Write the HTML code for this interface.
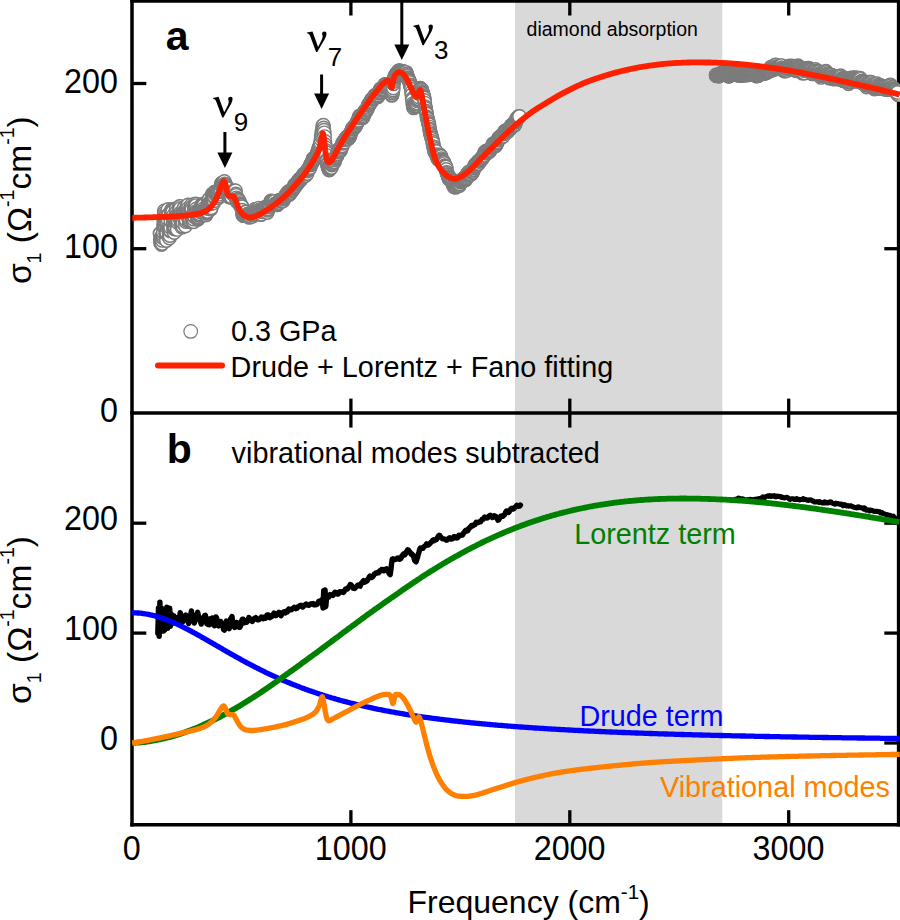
<!DOCTYPE html>
<html lang="en">
<head>
<meta charset="utf-8">
<title>Optical conductivity</title>
<style>
html,body{margin:0;padding:0;background:#fff;}
body{width:900px;height:920px;overflow:hidden;}
svg{display:block;}
text{font-family:"Liberation Sans",sans-serif;fill:#000;}
</style>
</head>
<body>
<svg width="900" height="920" viewBox="0 0 900 920">
<rect x="0" y="0" width="900" height="920" fill="#ffffff"/>
<!-- diamond absorption band -->
<rect x="515" y="0" width="207.3" height="825" fill="#d9d9d9"/>

<defs><clipPath id="plotclip"><rect x="132.0" y="0" width="768.0" height="826"/></clipPath></defs>
<!-- ticks -->
<g stroke="#000" stroke-linecap="butt"><line x1="350.9" y1="0.0" x2="350.9" y2="15.5" stroke-width="3.3"/><line x1="350.9" y1="398.6" x2="350.9" y2="427.6" stroke-width="3.3"/><line x1="350.9" y1="810.2" x2="350.9" y2="824.7" stroke-width="3.3"/><line x1="569.8" y1="0.0" x2="569.8" y2="15.5" stroke-width="3.3"/><line x1="569.8" y1="398.6" x2="569.8" y2="427.6" stroke-width="3.3"/><line x1="569.8" y1="810.2" x2="569.8" y2="824.7" stroke-width="3.3"/><line x1="788.7" y1="0.0" x2="788.7" y2="15.5" stroke-width="3.3"/><line x1="788.7" y1="398.6" x2="788.7" y2="427.6" stroke-width="3.3"/><line x1="788.7" y1="810.2" x2="788.7" y2="824.7" stroke-width="3.3"/><line x1="132.0" y1="248.7" x2="146.3" y2="248.7" stroke-width="3.3"/><line x1="884.3" y1="248.7" x2="898.6" y2="248.7" stroke-width="3.3"/><line x1="132.0" y1="83.5" x2="146.3" y2="83.5" stroke-width="3.3"/><line x1="884.3" y1="83.5" x2="898.6" y2="83.5" stroke-width="3.3"/><line x1="132.0" y1="743.0" x2="146.3" y2="743.0" stroke-width="3.3"/><line x1="884.3" y1="743.0" x2="898.6" y2="743.0" stroke-width="3.3"/><line x1="132.0" y1="633.1" x2="146.3" y2="633.1" stroke-width="3.3"/><line x1="884.3" y1="633.1" x2="898.6" y2="633.1" stroke-width="3.3"/><line x1="132.0" y1="523.2" x2="146.3" y2="523.2" stroke-width="3.3"/><line x1="884.3" y1="523.2" x2="898.6" y2="523.2" stroke-width="3.3"/></g>

<!-- frame -->
<g stroke="#000" stroke-width="3.5" fill="none" stroke-linecap="square">
<line x1="132.0" y1="1.0" x2="898.6" y2="1.0"/>
<line x1="132.0" y1="413.1" x2="898.6" y2="413.1"/>
<line x1="132.0" y1="824.7" x2="898.6" y2="824.7"/>
<line x1="132.0" y1="1.0" x2="132.0" y2="824.7"/>
<line x1="898.6" y1="1.0" x2="898.6" y2="824.7"/>
</g>

<!-- panel a data -->
<g clip-path="url(#plotclip)">
<g fill="#ffffff" stroke="#7c7c7c" stroke-width="1.4"><circle cx="160.0" cy="233.5" r="6.7"/><circle cx="160.2" cy="233.7" r="6.7"/><circle cx="160.3" cy="239.3" r="6.7"/><circle cx="160.5" cy="242.7" r="6.7"/><circle cx="160.7" cy="240.5" r="6.7"/><circle cx="160.8" cy="239.3" r="6.7"/><circle cx="161.0" cy="239.2" r="6.7"/><circle cx="161.2" cy="237.2" r="6.7"/><circle cx="161.4" cy="240.3" r="6.7"/><circle cx="161.5" cy="244.6" r="6.7"/><circle cx="161.7" cy="237.6" r="6.7"/><circle cx="161.9" cy="236.3" r="6.7"/><circle cx="162.0" cy="240.2" r="6.7"/><circle cx="162.2" cy="243.5" r="6.7"/><circle cx="162.4" cy="240.4" r="6.7"/><circle cx="162.5" cy="237.6" r="6.7"/><circle cx="162.7" cy="237.0" r="6.7"/><circle cx="162.9" cy="236.9" r="6.7"/><circle cx="163.1" cy="234.9" r="6.7"/><circle cx="163.2" cy="232.5" r="6.7"/><circle cx="163.4" cy="232.4" r="6.7"/><circle cx="163.6" cy="226.6" r="6.7"/><circle cx="163.7" cy="221.0" r="6.7"/><circle cx="163.9" cy="224.4" r="6.7"/><circle cx="164.1" cy="218.1" r="6.7"/><circle cx="164.2" cy="211.0" r="6.7"/><circle cx="164.4" cy="213.1" r="6.7"/><circle cx="164.6" cy="215.4" r="6.7"/><circle cx="164.8" cy="217.4" r="6.7"/><circle cx="164.9" cy="223.3" r="6.7"/><circle cx="165.1" cy="224.4" r="6.7"/><circle cx="165.3" cy="226.1" r="6.7"/><circle cx="165.4" cy="225.1" r="6.7"/><circle cx="165.6" cy="227.4" r="6.7"/><circle cx="165.8" cy="233.6" r="6.7"/><circle cx="165.9" cy="234.3" r="6.7"/><circle cx="166.1" cy="233.5" r="6.7"/><circle cx="166.3" cy="237.5" r="6.7"/><circle cx="166.5" cy="240.6" r="6.7"/><circle cx="166.6" cy="233.8" r="6.7"/><circle cx="166.8" cy="232.7" r="6.7"/><circle cx="167.0" cy="227.3" r="6.7"/><circle cx="167.1" cy="224.6" r="6.7"/><circle cx="167.3" cy="225.2" r="6.7"/><circle cx="167.5" cy="223.2" r="6.7"/><circle cx="167.6" cy="214.7" r="6.7"/><circle cx="167.8" cy="211.7" r="6.7"/><circle cx="168.0" cy="209.5" r="6.7"/><circle cx="168.2" cy="215.6" r="6.7"/><circle cx="168.3" cy="220.4" r="6.7"/><circle cx="168.5" cy="214.4" r="6.7"/><circle cx="168.7" cy="215.1" r="6.7"/><circle cx="168.8" cy="227.5" r="6.7"/><circle cx="169.0" cy="229.8" r="6.7"/><circle cx="169.2" cy="233.5" r="6.7"/><circle cx="169.3" cy="237.6" r="6.7"/><circle cx="169.5" cy="238.1" r="6.7"/><circle cx="169.7" cy="235.1" r="6.7"/><circle cx="169.9" cy="230.9" r="6.7"/><circle cx="170.0" cy="235.5" r="6.7"/><circle cx="170.2" cy="230.9" r="6.7"/><circle cx="170.4" cy="229.1" r="6.7"/><circle cx="170.5" cy="230.3" r="6.7"/><circle cx="170.7" cy="227.5" r="6.7"/><circle cx="170.9" cy="221.1" r="6.7"/><circle cx="171.0" cy="214.2" r="6.7"/><circle cx="171.2" cy="212.5" r="6.7"/><circle cx="171.4" cy="212.1" r="6.7"/><circle cx="171.6" cy="210.8" r="6.7"/><circle cx="171.7" cy="209.5" r="6.7"/><circle cx="171.9" cy="211.4" r="6.7"/><circle cx="172.1" cy="210.5" r="6.7"/><circle cx="172.2" cy="210.7" r="6.7"/><circle cx="172.4" cy="212.6" r="6.7"/><circle cx="172.6" cy="212.0" r="6.7"/><circle cx="172.7" cy="216.5" r="6.7"/><circle cx="172.9" cy="219.3" r="6.7"/><circle cx="173.1" cy="222.9" r="6.7"/><circle cx="173.3" cy="224.5" r="6.7"/><circle cx="173.4" cy="224.8" r="6.7"/><circle cx="173.6" cy="227.7" r="6.7"/><circle cx="173.8" cy="229.8" r="6.7"/><circle cx="173.9" cy="229.4" r="6.7"/><circle cx="174.1" cy="231.8" r="6.7"/><circle cx="174.3" cy="232.5" r="6.7"/><circle cx="174.4" cy="229.0" r="6.7"/><circle cx="174.6" cy="228.3" r="6.7"/><circle cx="174.8" cy="227.7" r="6.7"/><circle cx="175.0" cy="225.5" r="6.7"/><circle cx="175.1" cy="227.0" r="6.7"/><circle cx="175.3" cy="222.8" r="6.7"/><circle cx="175.5" cy="220.9" r="6.7"/><circle cx="175.6" cy="219.2" r="6.7"/><circle cx="175.8" cy="216.2" r="6.7"/><circle cx="176.0" cy="210.7" r="6.7"/><circle cx="176.1" cy="209.9" r="6.7"/><circle cx="176.3" cy="208.7" r="6.7"/><circle cx="176.5" cy="212.0" r="6.7"/><circle cx="176.7" cy="215.2" r="6.7"/><circle cx="176.8" cy="221.9" r="6.7"/><circle cx="177.0" cy="226.7" r="6.7"/><circle cx="177.2" cy="226.6" r="6.7"/><circle cx="177.3" cy="229.4" r="6.7"/><circle cx="177.5" cy="219.5" r="6.7"/><circle cx="177.7" cy="221.7" r="6.7"/><circle cx="177.8" cy="222.5" r="6.7"/><circle cx="178.0" cy="216.6" r="6.7"/><circle cx="178.2" cy="220.4" r="6.7"/><circle cx="178.4" cy="216.4" r="6.7"/><circle cx="178.5" cy="214.8" r="6.7"/><circle cx="178.7" cy="215.1" r="6.7"/><circle cx="178.9" cy="216.5" r="6.7"/><circle cx="179.0" cy="210.9" r="6.7"/><circle cx="179.2" cy="207.5" r="6.7"/><circle cx="179.4" cy="207.8" r="6.7"/><circle cx="179.5" cy="206.7" r="6.7"/><circle cx="179.7" cy="212.1" r="6.7"/><circle cx="179.9" cy="211.3" r="6.7"/><circle cx="180.1" cy="206.4" r="6.7"/><circle cx="180.2" cy="211.4" r="6.7"/><circle cx="180.4" cy="208.4" r="6.7"/><circle cx="180.6" cy="212.8" r="6.7"/><circle cx="180.7" cy="214.8" r="6.7"/><circle cx="180.9" cy="221.4" r="6.7"/><circle cx="181.1" cy="217.5" r="6.7"/><circle cx="181.2" cy="214.9" r="6.7"/><circle cx="181.4" cy="215.0" r="6.7"/><circle cx="181.6" cy="222.6" r="6.7"/><circle cx="181.8" cy="220.6" r="6.7"/><circle cx="181.9" cy="227.2" r="6.7"/><circle cx="182.1" cy="224.5" r="6.7"/><circle cx="182.3" cy="224.0" r="6.7"/><circle cx="182.4" cy="223.3" r="6.7"/><circle cx="182.6" cy="226.1" r="6.7"/><circle cx="182.8" cy="222.5" r="6.7"/><circle cx="182.9" cy="226.3" r="6.7"/><circle cx="183.1" cy="223.1" r="6.7"/><circle cx="183.3" cy="214.0" r="6.7"/><circle cx="183.5" cy="212.2" r="6.7"/><circle cx="183.6" cy="210.5" r="6.7"/><circle cx="183.8" cy="208.2" r="6.7"/><circle cx="184.0" cy="209.9" r="6.7"/><circle cx="184.1" cy="208.3" r="6.7"/><circle cx="184.3" cy="211.5" r="6.7"/><circle cx="184.5" cy="215.5" r="6.7"/><circle cx="184.6" cy="216.2" r="6.7"/><circle cx="184.8" cy="212.5" r="6.7"/><circle cx="185.0" cy="219.6" r="6.7"/><circle cx="185.2" cy="222.3" r="6.7"/><circle cx="185.3" cy="222.6" r="6.7"/><circle cx="185.5" cy="226.0" r="6.7"/><circle cx="185.7" cy="221.6" r="6.7"/><circle cx="185.8" cy="219.5" r="6.7"/><circle cx="186.0" cy="219.5" r="6.7"/><circle cx="186.2" cy="214.7" r="6.7"/><circle cx="186.3" cy="212.5" r="6.7"/><circle cx="186.5" cy="209.6" r="6.7"/><circle cx="186.7" cy="209.9" r="6.7"/><circle cx="186.9" cy="207.0" r="6.7"/><circle cx="187.0" cy="210.7" r="6.7"/><circle cx="187.2" cy="207.7" r="6.7"/><circle cx="187.4" cy="210.4" r="6.7"/><circle cx="187.5" cy="207.7" r="6.7"/><circle cx="187.7" cy="208.0" r="6.7"/><circle cx="187.9" cy="205.8" r="6.7"/><circle cx="188.0" cy="205.0" r="6.7"/><circle cx="188.2" cy="208.3" r="6.7"/><circle cx="188.4" cy="210.9" r="6.7"/><circle cx="188.6" cy="214.2" r="6.7"/><circle cx="188.7" cy="213.3" r="6.7"/><circle cx="188.9" cy="213.8" r="6.7"/><circle cx="189.1" cy="221.0" r="6.7"/><circle cx="189.2" cy="220.6" r="6.7"/><circle cx="189.4" cy="220.7" r="6.7"/><circle cx="189.6" cy="221.8" r="6.7"/><circle cx="189.7" cy="219.2" r="6.7"/><circle cx="189.9" cy="220.4" r="6.7"/><circle cx="190.1" cy="220.3" r="6.7"/><circle cx="190.3" cy="218.2" r="6.7"/><circle cx="190.4" cy="215.0" r="6.7"/><circle cx="190.6" cy="212.5" r="6.7"/><circle cx="190.8" cy="209.7" r="6.7"/><circle cx="190.9" cy="207.9" r="6.7"/><circle cx="191.1" cy="208.2" r="6.7"/><circle cx="191.3" cy="206.1" r="6.7"/><circle cx="191.4" cy="205.0" r="6.7"/><circle cx="191.6" cy="210.0" r="6.7"/><circle cx="191.8" cy="206.9" r="6.7"/><circle cx="192.0" cy="209.3" r="6.7"/><circle cx="192.1" cy="215.5" r="6.7"/><circle cx="192.3" cy="216.6" r="6.7"/><circle cx="192.5" cy="219.3" r="6.7"/><circle cx="192.6" cy="218.7" r="6.7"/><circle cx="192.8" cy="218.4" r="6.7"/><circle cx="193.0" cy="221.2" r="6.7"/><circle cx="193.1" cy="218.6" r="6.7"/><circle cx="193.3" cy="218.4" r="6.7"/><circle cx="193.5" cy="219.9" r="6.7"/><circle cx="193.7" cy="221.8" r="6.7"/><circle cx="193.8" cy="219.2" r="6.7"/><circle cx="194.0" cy="216.6" r="6.7"/><circle cx="194.2" cy="215.9" r="6.7"/><circle cx="194.3" cy="212.0" r="6.7"/><circle cx="194.5" cy="207.4" r="6.7"/><circle cx="194.7" cy="208.5" r="6.7"/><circle cx="194.8" cy="205.1" r="6.7"/><circle cx="195.0" cy="207.6" r="6.7"/><circle cx="195.2" cy="207.0" r="6.7"/><circle cx="195.4" cy="204.5" r="6.7"/><circle cx="195.5" cy="204.6" r="6.7"/><circle cx="195.7" cy="203.9" r="6.7"/><circle cx="195.9" cy="206.5" r="6.7"/><circle cx="196.0" cy="205.6" r="6.7"/><circle cx="196.2" cy="208.9" r="6.7"/><circle cx="196.4" cy="211.7" r="6.7"/><circle cx="196.5" cy="211.7" r="6.7"/><circle cx="196.7" cy="212.5" r="6.7"/><circle cx="196.9" cy="213.0" r="6.7"/><circle cx="197.1" cy="214.2" r="6.7"/><circle cx="197.2" cy="214.2" r="6.7"/><circle cx="197.4" cy="217.0" r="6.7"/><circle cx="197.6" cy="219.0" r="6.7"/><circle cx="197.7" cy="219.3" r="6.7"/><circle cx="197.9" cy="218.8" r="6.7"/><circle cx="198.1" cy="219.0" r="6.7"/><circle cx="198.2" cy="217.9" r="6.7"/><circle cx="198.4" cy="216.9" r="6.7"/><circle cx="198.6" cy="214.4" r="6.7"/><circle cx="198.8" cy="215.4" r="6.7"/><circle cx="198.9" cy="212.8" r="6.7"/><circle cx="199.1" cy="212.7" r="6.7"/><circle cx="199.3" cy="214.9" r="6.7"/><circle cx="199.4" cy="215.1" r="6.7"/><circle cx="199.6" cy="213.1" r="6.7"/><circle cx="199.8" cy="214.1" r="6.7"/><circle cx="199.9" cy="213.9" r="6.7"/><circle cx="200.1" cy="210.9" r="6.7"/><circle cx="200.3" cy="210.6" r="6.7"/><circle cx="200.5" cy="210.1" r="6.7"/><circle cx="200.6" cy="210.2" r="6.7"/><circle cx="200.8" cy="212.0" r="6.7"/><circle cx="201.0" cy="210.4" r="6.7"/><circle cx="201.1" cy="209.3" r="6.7"/><circle cx="201.3" cy="207.2" r="6.7"/><circle cx="201.5" cy="208.5" r="6.7"/><circle cx="201.6" cy="208.2" r="6.7"/><circle cx="201.8" cy="204.5" r="6.7"/><circle cx="202.0" cy="205.8" r="6.7"/><circle cx="202.2" cy="205.6" r="6.7"/><circle cx="202.3" cy="206.8" r="6.7"/><circle cx="202.5" cy="207.5" r="6.7"/><circle cx="202.7" cy="206.6" r="6.7"/><circle cx="202.8" cy="207.7" r="6.7"/><circle cx="203.0" cy="205.6" r="6.7"/><circle cx="203.2" cy="204.6" r="6.7"/><circle cx="203.3" cy="205.2" r="6.7"/><circle cx="203.5" cy="204.7" r="6.7"/><circle cx="203.7" cy="205.3" r="6.7"/><circle cx="203.9" cy="205.3" r="6.7"/><circle cx="204.0" cy="208.4" r="6.7"/><circle cx="204.2" cy="210.3" r="6.7"/><circle cx="204.4" cy="211.3" r="6.7"/><circle cx="204.5" cy="212.3" r="6.7"/><circle cx="204.7" cy="211.4" r="6.7"/><circle cx="204.9" cy="212.6" r="6.7"/><circle cx="205.0" cy="213.9" r="6.7"/><circle cx="205.2" cy="214.2" r="6.7"/><circle cx="205.4" cy="214.9" r="6.7"/><circle cx="205.6" cy="214.2" r="6.7"/><circle cx="205.7" cy="214.6" r="6.7"/><circle cx="205.9" cy="213.4" r="6.7"/><circle cx="206.1" cy="214.9" r="6.7"/><circle cx="206.2" cy="213.1" r="6.7"/><circle cx="206.4" cy="213.3" r="6.7"/><circle cx="206.6" cy="212.4" r="6.7"/><circle cx="206.7" cy="212.5" r="6.7"/><circle cx="206.9" cy="212.1" r="6.7"/><circle cx="207.1" cy="212.0" r="6.7"/><circle cx="207.3" cy="211.1" r="6.7"/><circle cx="207.4" cy="212.3" r="6.7"/><circle cx="207.6" cy="211.4" r="6.7"/><circle cx="207.8" cy="208.5" r="6.7"/><circle cx="207.9" cy="206.8" r="6.7"/><circle cx="208.1" cy="204.1" r="6.7"/><circle cx="208.3" cy="204.7" r="6.7"/><circle cx="208.4" cy="200.8" r="6.7"/><circle cx="208.6" cy="202.9" r="6.7"/><circle cx="208.8" cy="203.6" r="6.7"/><circle cx="209.0" cy="199.6" r="6.7"/><circle cx="209.1" cy="200.4" r="6.7"/><circle cx="209.3" cy="199.8" r="6.7"/><circle cx="209.5" cy="198.7" r="6.7"/><circle cx="209.6" cy="203.0" r="6.7"/><circle cx="209.8" cy="204.2" r="6.7"/><circle cx="210.0" cy="202.8" r="6.7"/><circle cx="210.1" cy="205.3" r="6.7"/><circle cx="210.3" cy="206.2" r="6.7"/><circle cx="210.5" cy="205.7" r="6.7"/><circle cx="210.7" cy="207.3" r="6.7"/><circle cx="210.8" cy="209.2" r="6.7"/><circle cx="211.0" cy="208.2" r="6.7"/><circle cx="211.2" cy="207.8" r="6.7"/><circle cx="211.3" cy="203.5" r="6.7"/><circle cx="211.5" cy="201.9" r="6.7"/><circle cx="211.7" cy="200.5" r="6.7"/><circle cx="211.8" cy="200.2" r="6.7"/><circle cx="212.0" cy="198.3" r="6.7"/><circle cx="212.2" cy="195.9" r="6.7"/><circle cx="212.4" cy="194.1" r="6.7"/><circle cx="212.5" cy="197.1" r="6.7"/><circle cx="212.7" cy="194.6" r="6.7"/><circle cx="212.9" cy="195.1" r="6.7"/><circle cx="213.0" cy="193.8" r="6.7"/><circle cx="213.2" cy="197.0" r="6.7"/><circle cx="213.4" cy="198.2" r="6.7"/><circle cx="213.5" cy="201.5" r="6.7"/><circle cx="213.7" cy="202.9" r="6.7"/><circle cx="213.9" cy="200.9" r="6.7"/><circle cx="214.1" cy="197.4" r="6.7"/><circle cx="214.2" cy="196.0" r="6.7"/><circle cx="214.4" cy="192.4" r="6.7"/><circle cx="214.6" cy="193.3" r="6.7"/><circle cx="214.7" cy="192.1" r="6.7"/><circle cx="214.9" cy="192.8" r="6.7"/><circle cx="215.1" cy="192.2" r="6.7"/><circle cx="215.2" cy="192.4" r="6.7"/><circle cx="215.4" cy="192.6" r="6.7"/><circle cx="215.6" cy="192.0" r="6.7"/><circle cx="215.8" cy="192.0" r="6.7"/><circle cx="215.9" cy="194.0" r="6.7"/><circle cx="216.0" cy="193.2" r="6.7"/><circle cx="216.3" cy="195.0" r="6.7"/><circle cx="216.6" cy="194.2" r="6.7"/><circle cx="216.9" cy="195.1" r="6.7"/><circle cx="217.2" cy="193.7" r="6.7"/><circle cx="217.5" cy="192.8" r="6.7"/><circle cx="217.8" cy="194.1" r="6.7"/><circle cx="218.1" cy="196.4" r="6.7"/><circle cx="218.4" cy="197.8" r="6.7"/><circle cx="218.7" cy="196.3" r="6.7"/><circle cx="219.0" cy="195.2" r="6.7"/><circle cx="219.3" cy="195.9" r="6.7"/><circle cx="219.6" cy="194.2" r="6.7"/><circle cx="219.9" cy="191.6" r="6.7"/><circle cx="220.2" cy="190.8" r="6.7"/><circle cx="220.5" cy="190.5" r="6.7"/><circle cx="220.8" cy="188.4" r="6.7"/><circle cx="221.1" cy="185.5" r="6.7"/><circle cx="221.4" cy="183.4" r="6.7"/><circle cx="221.7" cy="184.4" r="6.7"/><circle cx="222.0" cy="183.2" r="6.7"/><circle cx="222.3" cy="183.1" r="6.7"/><circle cx="222.6" cy="183.4" r="6.7"/><circle cx="222.9" cy="184.2" r="6.7"/><circle cx="223.2" cy="183.5" r="6.7"/><circle cx="223.5" cy="183.9" r="6.7"/><circle cx="223.8" cy="182.5" r="6.7"/><circle cx="224.1" cy="182.3" r="6.7"/><circle cx="224.4" cy="181.5" r="6.7"/><circle cx="224.7" cy="183.9" r="6.7"/><circle cx="225.0" cy="184.6" r="6.7"/><circle cx="225.3" cy="184.4" r="6.7"/><circle cx="225.6" cy="184.8" r="6.7"/><circle cx="225.9" cy="185.6" r="6.7"/><circle cx="226.2" cy="187.9" r="6.7"/><circle cx="226.5" cy="187.1" r="6.7"/><circle cx="226.8" cy="187.4" r="6.7"/><circle cx="227.1" cy="188.6" r="6.7"/><circle cx="227.4" cy="193.3" r="6.7"/><circle cx="227.7" cy="194.7" r="6.7"/><circle cx="228.0" cy="194.1" r="6.7"/><circle cx="228.3" cy="194.6" r="6.7"/><circle cx="228.6" cy="196.8" r="6.7"/><circle cx="228.9" cy="195.5" r="6.7"/><circle cx="229.2" cy="194.3" r="6.7"/><circle cx="229.5" cy="195.3" r="6.7"/><circle cx="229.8" cy="195.3" r="6.7"/><circle cx="230.1" cy="195.5" r="6.7"/><circle cx="230.4" cy="194.1" r="6.7"/><circle cx="230.7" cy="196.2" r="6.7"/><circle cx="231.0" cy="197.5" r="6.7"/><circle cx="231.3" cy="197.1" r="6.7"/><circle cx="231.6" cy="196.9" r="6.7"/><circle cx="231.9" cy="193.1" r="6.7"/><circle cx="232.2" cy="193.6" r="6.7"/><circle cx="232.5" cy="193.0" r="6.7"/><circle cx="232.8" cy="193.3" r="6.7"/><circle cx="233.1" cy="193.8" r="6.7"/><circle cx="233.4" cy="193.0" r="6.7"/><circle cx="233.7" cy="190.7" r="6.7"/><circle cx="234.0" cy="191.7" r="6.7"/><circle cx="234.3" cy="191.3" r="6.7"/><circle cx="234.6" cy="191.7" r="6.7"/><circle cx="234.9" cy="191.9" r="6.7"/><circle cx="235.2" cy="192.6" r="6.7"/><circle cx="235.5" cy="190.7" r="6.7"/><circle cx="235.8" cy="193.9" r="6.7"/><circle cx="236.1" cy="195.3" r="6.7"/><circle cx="236.4" cy="197.8" r="6.7"/><circle cx="236.7" cy="201.2" r="6.7"/><circle cx="237.0" cy="201.6" r="6.7"/><circle cx="237.3" cy="199.7" r="6.7"/><circle cx="237.6" cy="199.6" r="6.7"/><circle cx="237.9" cy="199.2" r="6.7"/><circle cx="238.2" cy="200.1" r="6.7"/><circle cx="238.5" cy="201.6" r="6.7"/><circle cx="238.8" cy="200.2" r="6.7"/><circle cx="239.1" cy="202.2" r="6.7"/><circle cx="239.4" cy="201.5" r="6.7"/><circle cx="239.7" cy="203.4" r="6.7"/><circle cx="240.0" cy="204.5" r="6.7"/><circle cx="240.3" cy="205.2" r="6.7"/><circle cx="240.6" cy="206.2" r="6.7"/><circle cx="240.9" cy="206.4" r="6.7"/><circle cx="241.2" cy="206.6" r="6.7"/><circle cx="241.5" cy="205.4" r="6.7"/><circle cx="241.8" cy="206.7" r="6.7"/><circle cx="242.1" cy="210.2" r="6.7"/><circle cx="242.4" cy="213.2" r="6.7"/><circle cx="242.7" cy="214.8" r="6.7"/><circle cx="243.0" cy="215.3" r="6.7"/><circle cx="243.3" cy="214.0" r="6.7"/><circle cx="243.6" cy="215.7" r="6.7"/><circle cx="243.9" cy="215.1" r="6.7"/><circle cx="244.2" cy="214.6" r="6.7"/><circle cx="244.5" cy="214.0" r="6.7"/><circle cx="244.8" cy="214.0" r="6.7"/><circle cx="245.1" cy="213.3" r="6.7"/><circle cx="245.4" cy="213.3" r="6.7"/><circle cx="245.7" cy="212.0" r="6.7"/><circle cx="246.0" cy="211.9" r="6.7"/><circle cx="246.3" cy="215.3" r="6.7"/><circle cx="246.6" cy="215.0" r="6.7"/><circle cx="246.9" cy="214.6" r="6.7"/><circle cx="247.2" cy="215.2" r="6.7"/><circle cx="247.5" cy="216.0" r="6.7"/><circle cx="247.8" cy="214.2" r="6.7"/><circle cx="248.1" cy="214.0" r="6.7"/><circle cx="248.4" cy="215.4" r="6.7"/><circle cx="248.7" cy="215.6" r="6.7"/><circle cx="249.0" cy="215.5" r="6.7"/><circle cx="249.3" cy="217.4" r="6.7"/><circle cx="249.6" cy="216.0" r="6.7"/><circle cx="249.9" cy="215.8" r="6.7"/><circle cx="250.2" cy="214.8" r="6.7"/><circle cx="250.5" cy="216.7" r="6.7"/><circle cx="250.8" cy="213.7" r="6.7"/><circle cx="251.1" cy="212.9" r="6.7"/><circle cx="251.4" cy="212.5" r="6.7"/><circle cx="251.7" cy="213.8" r="6.7"/><circle cx="252.0" cy="214.7" r="6.7"/><circle cx="252.3" cy="216.4" r="6.7"/><circle cx="252.6" cy="213.9" r="6.7"/><circle cx="252.9" cy="214.9" r="6.7"/><circle cx="253.2" cy="214.4" r="6.7"/><circle cx="253.5" cy="213.4" r="6.7"/><circle cx="253.8" cy="214.3" r="6.7"/><circle cx="254.1" cy="213.0" r="6.7"/><circle cx="254.4" cy="210.4" r="6.7"/><circle cx="254.7" cy="210.6" r="6.7"/><circle cx="255.0" cy="209.3" r="6.7"/><circle cx="255.3" cy="209.3" r="6.7"/><circle cx="255.6" cy="210.7" r="6.7"/><circle cx="255.9" cy="211.7" r="6.7"/><circle cx="256.2" cy="214.2" r="6.7"/><circle cx="256.5" cy="213.8" r="6.7"/><circle cx="256.8" cy="211.8" r="6.7"/><circle cx="257.1" cy="211.1" r="6.7"/><circle cx="257.4" cy="210.4" r="6.7"/><circle cx="257.7" cy="209.3" r="6.7"/><circle cx="258.0" cy="210.7" r="6.7"/><circle cx="258.3" cy="210.3" r="6.7"/><circle cx="258.6" cy="208.2" r="6.7"/><circle cx="258.9" cy="210.1" r="6.7"/><circle cx="259.2" cy="210.5" r="6.7"/><circle cx="259.5" cy="211.4" r="6.7"/><circle cx="259.8" cy="211.7" r="6.7"/><circle cx="260.1" cy="212.7" r="6.7"/><circle cx="260.4" cy="212.7" r="6.7"/><circle cx="260.7" cy="214.2" r="6.7"/><circle cx="261.0" cy="214.3" r="6.7"/><circle cx="261.3" cy="214.3" r="6.7"/><circle cx="261.6" cy="214.3" r="6.7"/><circle cx="261.9" cy="211.8" r="6.7"/><circle cx="262.2" cy="211.5" r="6.7"/><circle cx="262.5" cy="211.1" r="6.7"/><circle cx="262.8" cy="211.3" r="6.7"/><circle cx="263.1" cy="209.4" r="6.7"/><circle cx="263.4" cy="211.8" r="6.7"/><circle cx="263.7" cy="211.7" r="6.7"/><circle cx="264.0" cy="209.8" r="6.7"/><circle cx="264.3" cy="207.7" r="6.7"/><circle cx="264.6" cy="207.8" r="6.7"/><circle cx="264.9" cy="208.1" r="6.7"/><circle cx="265.2" cy="207.5" r="6.7"/><circle cx="265.5" cy="208.0" r="6.7"/><circle cx="265.8" cy="207.4" r="6.7"/><circle cx="266.1" cy="208.5" r="6.7"/><circle cx="266.4" cy="207.7" r="6.7"/><circle cx="266.7" cy="207.9" r="6.7"/><circle cx="267.0" cy="209.3" r="6.7"/><circle cx="267.3" cy="212.6" r="6.7"/><circle cx="267.6" cy="210.4" r="6.7"/><circle cx="267.9" cy="209.3" r="6.7"/><circle cx="268.2" cy="208.0" r="6.7"/><circle cx="268.5" cy="209.0" r="6.7"/><circle cx="268.8" cy="207.2" r="6.7"/><circle cx="269.1" cy="206.6" r="6.7"/><circle cx="269.4" cy="206.7" r="6.7"/><circle cx="269.7" cy="205.5" r="6.7"/><circle cx="270.0" cy="204.5" r="6.7"/><circle cx="270.3" cy="204.3" r="6.7"/><circle cx="270.6" cy="202.0" r="6.7"/><circle cx="270.9" cy="201.0" r="6.7"/><circle cx="271.2" cy="201.5" r="6.7"/><circle cx="271.5" cy="202.6" r="6.7"/><circle cx="271.8" cy="203.0" r="6.7"/><circle cx="272.1" cy="201.1" r="6.7"/><circle cx="272.4" cy="201.4" r="6.7"/><circle cx="272.7" cy="203.2" r="6.7"/><circle cx="273.0" cy="204.3" r="6.7"/><circle cx="273.3" cy="204.3" r="6.7"/><circle cx="273.6" cy="203.2" r="6.7"/><circle cx="273.9" cy="204.2" r="6.7"/><circle cx="274.2" cy="203.4" r="6.7"/><circle cx="274.5" cy="202.0" r="6.7"/><circle cx="274.8" cy="201.3" r="6.7"/><circle cx="275.1" cy="203.9" r="6.7"/><circle cx="275.4" cy="204.0" r="6.7"/><circle cx="275.7" cy="204.7" r="6.7"/><circle cx="276.0" cy="203.9" r="6.7"/><circle cx="276.3" cy="204.4" r="6.7"/><circle cx="276.6" cy="203.5" r="6.7"/><circle cx="276.9" cy="203.1" r="6.7"/><circle cx="277.2" cy="204.8" r="6.7"/><circle cx="277.5" cy="204.8" r="6.7"/><circle cx="277.8" cy="203.7" r="6.7"/><circle cx="278.1" cy="203.1" r="6.7"/><circle cx="278.4" cy="203.0" r="6.7"/><circle cx="278.7" cy="203.4" r="6.7"/><circle cx="279.0" cy="202.5" r="6.7"/><circle cx="279.3" cy="200.6" r="6.7"/><circle cx="279.6" cy="200.3" r="6.7"/><circle cx="279.9" cy="200.2" r="6.7"/><circle cx="280.2" cy="200.1" r="6.7"/><circle cx="280.5" cy="200.9" r="6.7"/><circle cx="280.8" cy="200.8" r="6.7"/><circle cx="281.1" cy="201.0" r="6.7"/><circle cx="281.4" cy="199.6" r="6.7"/><circle cx="281.7" cy="200.0" r="6.7"/><circle cx="282.0" cy="201.2" r="6.7"/><circle cx="282.3" cy="201.1" r="6.7"/><circle cx="282.6" cy="200.5" r="6.7"/><circle cx="282.9" cy="199.9" r="6.7"/><circle cx="283.2" cy="200.7" r="6.7"/><circle cx="283.5" cy="199.1" r="6.7"/><circle cx="283.8" cy="198.4" r="6.7"/><circle cx="284.1" cy="198.3" r="6.7"/><circle cx="284.4" cy="198.3" r="6.7"/><circle cx="284.7" cy="197.4" r="6.7"/><circle cx="285.0" cy="197.2" r="6.7"/><circle cx="285.3" cy="196.5" r="6.7"/><circle cx="285.6" cy="196.2" r="6.7"/><circle cx="285.9" cy="195.7" r="6.7"/><circle cx="286.2" cy="194.4" r="6.7"/><circle cx="286.5" cy="194.2" r="6.7"/><circle cx="286.8" cy="194.7" r="6.7"/><circle cx="287.1" cy="193.6" r="6.7"/><circle cx="287.4" cy="193.2" r="6.7"/><circle cx="287.7" cy="193.6" r="6.7"/><circle cx="288.0" cy="192.4" r="6.7"/><circle cx="288.3" cy="192.4" r="6.7"/><circle cx="288.6" cy="191.4" r="6.7"/><circle cx="288.9" cy="192.2" r="6.7"/><circle cx="289.2" cy="193.7" r="6.7"/><circle cx="289.5" cy="194.6" r="6.7"/><circle cx="289.8" cy="193.5" r="6.7"/><circle cx="290.1" cy="193.3" r="6.7"/><circle cx="290.4" cy="192.6" r="6.7"/><circle cx="290.7" cy="192.0" r="6.7"/><circle cx="291.0" cy="192.5" r="6.7"/><circle cx="291.3" cy="190.7" r="6.7"/><circle cx="291.6" cy="191.0" r="6.7"/><circle cx="291.9" cy="190.3" r="6.7"/><circle cx="292.2" cy="190.8" r="6.7"/><circle cx="292.5" cy="190.2" r="6.7"/><circle cx="292.8" cy="188.9" r="6.7"/><circle cx="293.1" cy="188.6" r="6.7"/><circle cx="293.4" cy="188.7" r="6.7"/><circle cx="293.7" cy="188.1" r="6.7"/><circle cx="294.0" cy="187.9" r="6.7"/><circle cx="294.3" cy="186.9" r="6.7"/><circle cx="294.6" cy="184.8" r="6.7"/><circle cx="294.9" cy="185.4" r="6.7"/><circle cx="295.2" cy="185.6" r="6.7"/><circle cx="295.5" cy="185.3" r="6.7"/><circle cx="295.8" cy="185.0" r="6.7"/><circle cx="296.1" cy="185.4" r="6.7"/><circle cx="296.4" cy="184.4" r="6.7"/><circle cx="296.7" cy="183.4" r="6.7"/><circle cx="297.0" cy="183.0" r="6.7"/><circle cx="297.3" cy="183.6" r="6.7"/><circle cx="297.6" cy="182.0" r="6.7"/><circle cx="297.9" cy="182.7" r="6.7"/><circle cx="298.2" cy="181.8" r="6.7"/><circle cx="298.5" cy="180.6" r="6.7"/><circle cx="298.8" cy="181.4" r="6.7"/><circle cx="299.1" cy="180.9" r="6.7"/><circle cx="299.4" cy="179.5" r="6.7"/><circle cx="299.7" cy="179.1" r="6.7"/><circle cx="300.0" cy="179.6" r="6.7"/><circle cx="300.3" cy="180.2" r="6.7"/><circle cx="300.6" cy="179.4" r="6.7"/><circle cx="300.9" cy="179.2" r="6.7"/><circle cx="301.2" cy="179.3" r="6.7"/><circle cx="301.5" cy="178.2" r="6.7"/><circle cx="301.8" cy="178.1" r="6.7"/><circle cx="302.1" cy="177.6" r="6.7"/><circle cx="302.4" cy="176.7" r="6.7"/><circle cx="302.7" cy="175.9" r="6.7"/><circle cx="303.0" cy="175.7" r="6.7"/><circle cx="303.3" cy="175.4" r="6.7"/><circle cx="303.6" cy="174.6" r="6.7"/><circle cx="303.9" cy="174.0" r="6.7"/><circle cx="304.2" cy="174.6" r="6.7"/><circle cx="304.5" cy="174.3" r="6.7"/><circle cx="304.8" cy="174.5" r="6.7"/><circle cx="305.1" cy="174.9" r="6.7"/><circle cx="305.4" cy="174.6" r="6.7"/><circle cx="305.7" cy="175.6" r="6.7"/><circle cx="306.0" cy="173.8" r="6.7"/><circle cx="306.3" cy="173.7" r="6.7"/><circle cx="306.6" cy="172.5" r="6.7"/><circle cx="306.9" cy="173.3" r="6.7"/><circle cx="307.2" cy="173.6" r="6.7"/><circle cx="307.5" cy="171.0" r="6.7"/><circle cx="307.8" cy="169.5" r="6.7"/><circle cx="308.1" cy="169.5" r="6.7"/><circle cx="308.4" cy="169.6" r="6.7"/><circle cx="308.7" cy="169.5" r="6.7"/><circle cx="309.0" cy="168.6" r="6.7"/><circle cx="309.3" cy="168.3" r="6.7"/><circle cx="309.6" cy="168.1" r="6.7"/><circle cx="309.9" cy="167.3" r="6.7"/><circle cx="310.2" cy="167.4" r="6.7"/><circle cx="310.5" cy="164.8" r="6.7"/><circle cx="310.8" cy="164.9" r="6.7"/><circle cx="311.1" cy="163.6" r="6.7"/><circle cx="311.4" cy="164.0" r="6.7"/><circle cx="311.7" cy="163.3" r="6.7"/><circle cx="312.0" cy="162.1" r="6.7"/><circle cx="312.3" cy="162.1" r="6.7"/><circle cx="312.6" cy="161.0" r="6.7"/><circle cx="312.9" cy="160.0" r="6.7"/><circle cx="313.2" cy="158.5" r="6.7"/><circle cx="313.5" cy="158.5" r="6.7"/><circle cx="313.8" cy="158.8" r="6.7"/><circle cx="314.1" cy="159.3" r="6.7"/><circle cx="314.4" cy="158.7" r="6.7"/><circle cx="314.7" cy="159.1" r="6.7"/><circle cx="315.0" cy="158.4" r="6.7"/><circle cx="315.3" cy="157.7" r="6.7"/><circle cx="315.6" cy="157.5" r="6.7"/><circle cx="315.9" cy="157.5" r="6.7"/><circle cx="316.2" cy="156.3" r="6.7"/><circle cx="316.5" cy="155.3" r="6.7"/><circle cx="316.8" cy="154.4" r="6.7"/><circle cx="317.1" cy="153.7" r="6.7"/><circle cx="317.4" cy="152.2" r="6.7"/><circle cx="317.7" cy="152.4" r="6.7"/><circle cx="318.0" cy="151.2" r="6.7"/><circle cx="318.3" cy="150.7" r="6.7"/><circle cx="318.6" cy="149.1" r="6.7"/><circle cx="318.9" cy="148.5" r="6.7"/><circle cx="319.2" cy="147.7" r="6.7"/><circle cx="319.5" cy="146.2" r="6.7"/><circle cx="319.8" cy="146.5" r="6.7"/><circle cx="320.1" cy="145.0" r="6.7"/><circle cx="320.4" cy="144.2" r="6.7"/><circle cx="320.7" cy="142.4" r="6.7"/><circle cx="321.0" cy="139.3" r="6.7"/><circle cx="321.3" cy="136.6" r="6.7"/><circle cx="321.6" cy="134.8" r="6.7"/><circle cx="321.9" cy="132.6" r="6.7"/><circle cx="322.2" cy="130.4" r="6.7"/><circle cx="322.5" cy="128.3" r="6.7"/><circle cx="322.8" cy="125.8" r="6.7"/><circle cx="323.1" cy="125.7" r="6.7"/><circle cx="323.4" cy="125.2" r="6.7"/><circle cx="323.7" cy="127.9" r="6.7"/><circle cx="324.0" cy="130.2" r="6.7"/><circle cx="324.3" cy="132.8" r="6.7"/><circle cx="324.6" cy="136.6" r="6.7"/><circle cx="324.9" cy="141.3" r="6.7"/><circle cx="325.2" cy="144.7" r="6.7"/><circle cx="325.5" cy="147.6" r="6.7"/><circle cx="325.8" cy="150.5" r="6.7"/><circle cx="326.1" cy="152.4" r="6.7"/><circle cx="326.4" cy="155.3" r="6.7"/><circle cx="326.7" cy="159.9" r="6.7"/><circle cx="327.0" cy="161.5" r="6.7"/><circle cx="327.3" cy="164.1" r="6.7"/><circle cx="327.6" cy="164.8" r="6.7"/><circle cx="327.9" cy="166.7" r="6.7"/><circle cx="328.2" cy="167.6" r="6.7"/><circle cx="328.5" cy="168.1" r="6.7"/><circle cx="328.8" cy="168.8" r="6.7"/><circle cx="329.1" cy="170.1" r="6.7"/><circle cx="329.4" cy="169.8" r="6.7"/><circle cx="329.7" cy="169.3" r="6.7"/><circle cx="330.0" cy="168.0" r="6.7"/><circle cx="330.3" cy="168.0" r="6.7"/><circle cx="330.6" cy="167.2" r="6.7"/><circle cx="330.9" cy="167.3" r="6.7"/><circle cx="331.2" cy="166.7" r="6.7"/><circle cx="331.5" cy="167.5" r="6.7"/><circle cx="331.8" cy="165.1" r="6.7"/><circle cx="332.1" cy="164.4" r="6.7"/><circle cx="332.4" cy="164.6" r="6.7"/><circle cx="332.7" cy="163.8" r="6.7"/><circle cx="333.0" cy="162.6" r="6.7"/><circle cx="333.3" cy="161.9" r="6.7"/><circle cx="333.6" cy="160.3" r="6.7"/><circle cx="333.9" cy="160.1" r="6.7"/><circle cx="334.2" cy="161.7" r="6.7"/><circle cx="334.5" cy="161.7" r="6.7"/><circle cx="334.8" cy="159.9" r="6.7"/><circle cx="335.1" cy="158.5" r="6.7"/><circle cx="335.4" cy="157.7" r="6.7"/><circle cx="335.7" cy="158.0" r="6.7"/><circle cx="336.0" cy="156.7" r="6.7"/><circle cx="336.3" cy="155.7" r="6.7"/><circle cx="336.6" cy="156.1" r="6.7"/><circle cx="336.9" cy="156.2" r="6.7"/><circle cx="337.2" cy="155.2" r="6.7"/><circle cx="337.5" cy="153.8" r="6.7"/><circle cx="337.8" cy="152.1" r="6.7"/><circle cx="338.1" cy="151.4" r="6.7"/><circle cx="338.4" cy="149.5" r="6.7"/><circle cx="338.7" cy="150.2" r="6.7"/><circle cx="339.0" cy="149.6" r="6.7"/><circle cx="339.3" cy="149.8" r="6.7"/><circle cx="339.6" cy="151.0" r="6.7"/><circle cx="339.9" cy="151.3" r="6.7"/><circle cx="340.2" cy="149.7" r="6.7"/><circle cx="340.5" cy="149.8" r="6.7"/><circle cx="340.8" cy="150.0" r="6.7"/><circle cx="341.1" cy="148.6" r="6.7"/><circle cx="341.4" cy="147.2" r="6.7"/><circle cx="341.7" cy="146.6" r="6.7"/><circle cx="342.0" cy="144.9" r="6.7"/><circle cx="342.3" cy="145.8" r="6.7"/><circle cx="342.6" cy="143.4" r="6.7"/><circle cx="342.9" cy="142.4" r="6.7"/><circle cx="343.2" cy="142.2" r="6.7"/><circle cx="343.5" cy="141.9" r="6.7"/><circle cx="343.8" cy="141.9" r="6.7"/><circle cx="344.1" cy="141.9" r="6.7"/><circle cx="344.4" cy="141.4" r="6.7"/><circle cx="344.7" cy="142.0" r="6.7"/><circle cx="345.0" cy="139.8" r="6.7"/><circle cx="345.3" cy="139.6" r="6.7"/><circle cx="345.6" cy="138.8" r="6.7"/><circle cx="345.9" cy="138.8" r="6.7"/><circle cx="346.2" cy="138.7" r="6.7"/><circle cx="346.5" cy="137.6" r="6.7"/><circle cx="346.8" cy="136.9" r="6.7"/><circle cx="347.1" cy="137.4" r="6.7"/><circle cx="347.4" cy="137.3" r="6.7"/><circle cx="347.7" cy="136.3" r="6.7"/><circle cx="348.0" cy="137.6" r="6.7"/><circle cx="348.3" cy="138.7" r="6.7"/><circle cx="348.6" cy="136.6" r="6.7"/><circle cx="348.9" cy="136.2" r="6.7"/><circle cx="349.2" cy="137.5" r="6.7"/><circle cx="349.5" cy="137.1" r="6.7"/><circle cx="349.8" cy="136.2" r="6.7"/><circle cx="350.1" cy="135.1" r="6.7"/><circle cx="350.4" cy="133.9" r="6.7"/><circle cx="350.7" cy="133.1" r="6.7"/><circle cx="351.0" cy="132.1" r="6.7"/><circle cx="351.3" cy="132.2" r="6.7"/><circle cx="351.6" cy="131.3" r="6.7"/><circle cx="351.9" cy="130.5" r="6.7"/><circle cx="352.2" cy="129.1" r="6.7"/><circle cx="352.5" cy="128.8" r="6.7"/><circle cx="352.8" cy="127.9" r="6.7"/><circle cx="353.1" cy="127.6" r="6.7"/><circle cx="353.4" cy="128.2" r="6.7"/><circle cx="353.7" cy="128.1" r="6.7"/><circle cx="354.0" cy="128.0" r="6.7"/><circle cx="354.3" cy="127.7" r="6.7"/><circle cx="354.6" cy="127.2" r="6.7"/><circle cx="354.9" cy="126.5" r="6.7"/><circle cx="355.2" cy="125.8" r="6.7"/><circle cx="355.5" cy="125.9" r="6.7"/><circle cx="355.8" cy="124.5" r="6.7"/><circle cx="356.1" cy="125.1" r="6.7"/><circle cx="356.4" cy="124.5" r="6.7"/><circle cx="356.7" cy="123.4" r="6.7"/><circle cx="357.0" cy="122.6" r="6.7"/><circle cx="357.3" cy="121.7" r="6.7"/><circle cx="357.6" cy="121.5" r="6.7"/><circle cx="357.9" cy="120.6" r="6.7"/><circle cx="358.2" cy="121.3" r="6.7"/><circle cx="358.5" cy="120.2" r="6.7"/><circle cx="358.8" cy="118.1" r="6.7"/><circle cx="359.1" cy="117.5" r="6.7"/><circle cx="359.4" cy="116.0" r="6.7"/><circle cx="359.7" cy="116.2" r="6.7"/><circle cx="360.0" cy="117.1" r="6.7"/><circle cx="360.3" cy="117.5" r="6.7"/><circle cx="360.6" cy="116.1" r="6.7"/><circle cx="360.9" cy="115.4" r="6.7"/><circle cx="361.2" cy="116.7" r="6.7"/><circle cx="361.5" cy="116.5" r="6.7"/><circle cx="361.8" cy="116.1" r="6.7"/><circle cx="362.1" cy="116.4" r="6.7"/><circle cx="362.4" cy="117.7" r="6.7"/><circle cx="362.7" cy="117.7" r="6.7"/><circle cx="363.0" cy="116.8" r="6.7"/><circle cx="363.3" cy="116.1" r="6.7"/><circle cx="363.6" cy="115.7" r="6.7"/><circle cx="363.9" cy="114.3" r="6.7"/><circle cx="364.2" cy="112.7" r="6.7"/><circle cx="364.5" cy="112.3" r="6.7"/><circle cx="364.8" cy="111.1" r="6.7"/><circle cx="365.1" cy="110.7" r="6.7"/><circle cx="365.4" cy="110.4" r="6.7"/><circle cx="365.7" cy="111.9" r="6.7"/><circle cx="366.0" cy="110.5" r="6.7"/><circle cx="366.3" cy="109.9" r="6.7"/><circle cx="366.6" cy="109.2" r="6.7"/><circle cx="366.9" cy="109.1" r="6.7"/><circle cx="367.2" cy="109.4" r="6.7"/><circle cx="367.5" cy="108.4" r="6.7"/><circle cx="367.8" cy="107.2" r="6.7"/><circle cx="368.1" cy="105.5" r="6.7"/><circle cx="368.4" cy="104.7" r="6.7"/><circle cx="368.7" cy="105.1" r="6.7"/><circle cx="369.0" cy="104.9" r="6.7"/><circle cx="369.3" cy="103.8" r="6.7"/><circle cx="369.6" cy="103.4" r="6.7"/><circle cx="369.9" cy="103.3" r="6.7"/><circle cx="370.2" cy="103.5" r="6.7"/><circle cx="370.5" cy="102.8" r="6.7"/><circle cx="370.8" cy="102.3" r="6.7"/><circle cx="371.1" cy="100.7" r="6.7"/><circle cx="371.4" cy="99.8" r="6.7"/><circle cx="371.7" cy="101.2" r="6.7"/><circle cx="372.0" cy="99.3" r="6.7"/><circle cx="372.3" cy="99.1" r="6.7"/><circle cx="372.6" cy="99.3" r="6.7"/><circle cx="372.9" cy="98.9" r="6.7"/><circle cx="373.2" cy="98.2" r="6.7"/><circle cx="373.5" cy="98.1" r="6.7"/><circle cx="373.8" cy="98.0" r="6.7"/><circle cx="374.1" cy="97.8" r="6.7"/><circle cx="374.4" cy="96.2" r="6.7"/><circle cx="374.7" cy="96.2" r="6.7"/><circle cx="375.0" cy="95.5" r="6.7"/><circle cx="375.3" cy="95.1" r="6.7"/><circle cx="375.6" cy="95.4" r="6.7"/><circle cx="375.9" cy="95.8" r="6.7"/><circle cx="376.2" cy="96.3" r="6.7"/><circle cx="376.5" cy="95.6" r="6.7"/><circle cx="376.8" cy="96.0" r="6.7"/><circle cx="377.1" cy="96.4" r="6.7"/><circle cx="377.4" cy="96.7" r="6.7"/><circle cx="377.7" cy="97.0" r="6.7"/><circle cx="378.0" cy="96.0" r="6.7"/><circle cx="378.3" cy="95.1" r="6.7"/><circle cx="378.6" cy="95.0" r="6.7"/><circle cx="378.9" cy="93.2" r="6.7"/><circle cx="379.2" cy="93.0" r="6.7"/><circle cx="379.5" cy="92.1" r="6.7"/><circle cx="379.8" cy="91.4" r="6.7"/><circle cx="380.1" cy="89.8" r="6.7"/><circle cx="380.4" cy="89.0" r="6.7"/><circle cx="380.7" cy="89.1" r="6.7"/><circle cx="381.0" cy="89.7" r="6.7"/><circle cx="381.3" cy="90.3" r="6.7"/><circle cx="381.6" cy="89.8" r="6.7"/><circle cx="381.9" cy="89.3" r="6.7"/><circle cx="382.2" cy="88.4" r="6.7"/><circle cx="382.5" cy="88.5" r="6.7"/><circle cx="382.8" cy="88.1" r="6.7"/><circle cx="383.1" cy="88.3" r="6.7"/><circle cx="383.4" cy="89.4" r="6.7"/><circle cx="383.7" cy="88.8" r="6.7"/><circle cx="384.0" cy="87.2" r="6.7"/><circle cx="384.3" cy="86.3" r="6.7"/><circle cx="384.6" cy="85.1" r="6.7"/><circle cx="384.9" cy="84.3" r="6.7"/><circle cx="385.2" cy="85.6" r="6.7"/><circle cx="385.5" cy="85.7" r="6.7"/><circle cx="385.8" cy="84.4" r="6.7"/><circle cx="386.1" cy="85.0" r="6.7"/><circle cx="386.4" cy="85.9" r="6.7"/><circle cx="386.7" cy="85.3" r="6.7"/><circle cx="387.0" cy="84.6" r="6.7"/><circle cx="387.3" cy="84.2" r="6.7"/><circle cx="387.6" cy="84.5" r="6.7"/><circle cx="387.9" cy="84.9" r="6.7"/><circle cx="388.2" cy="85.8" r="6.7"/><circle cx="388.5" cy="86.6" r="6.7"/><circle cx="388.8" cy="87.3" r="6.7"/><circle cx="389.1" cy="88.2" r="6.7"/><circle cx="389.4" cy="88.6" r="6.7"/><circle cx="389.7" cy="87.4" r="6.7"/><circle cx="390.0" cy="88.0" r="6.7"/><circle cx="390.3" cy="89.5" r="6.7"/><circle cx="390.6" cy="90.8" r="6.7"/><circle cx="390.9" cy="93.2" r="6.7"/><circle cx="391.2" cy="94.2" r="6.7"/><circle cx="391.5" cy="94.2" r="6.7"/><circle cx="391.8" cy="95.4" r="6.7"/><circle cx="392.1" cy="94.8" r="6.7"/><circle cx="392.4" cy="93.0" r="6.7"/><circle cx="392.7" cy="91.5" r="6.7"/><circle cx="393.0" cy="90.1" r="6.7"/><circle cx="393.3" cy="88.1" r="6.7"/><circle cx="393.6" cy="83.8" r="6.7"/><circle cx="393.9" cy="81.4" r="6.7"/><circle cx="394.2" cy="79.4" r="6.7"/><circle cx="394.5" cy="77.4" r="6.7"/><circle cx="394.8" cy="76.7" r="6.7"/><circle cx="395.1" cy="77.1" r="6.7"/><circle cx="395.4" cy="76.1" r="6.7"/><circle cx="395.7" cy="74.6" r="6.7"/><circle cx="396.0" cy="75.9" r="6.7"/><circle cx="396.3" cy="74.9" r="6.7"/><circle cx="396.6" cy="73.4" r="6.7"/><circle cx="396.9" cy="73.3" r="6.7"/><circle cx="397.2" cy="73.3" r="6.7"/><circle cx="397.5" cy="72.4" r="6.7"/><circle cx="397.8" cy="72.8" r="6.7"/><circle cx="398.1" cy="72.0" r="6.7"/><circle cx="398.4" cy="71.0" r="6.7"/><circle cx="398.7" cy="71.1" r="6.7"/><circle cx="399.0" cy="71.5" r="6.7"/><circle cx="399.3" cy="70.8" r="6.7"/><circle cx="399.6" cy="70.9" r="6.7"/><circle cx="399.9" cy="70.7" r="6.7"/><circle cx="400.2" cy="72.7" r="6.7"/><circle cx="400.5" cy="71.6" r="6.7"/><circle cx="400.8" cy="72.4" r="6.7"/><circle cx="401.1" cy="71.8" r="6.7"/><circle cx="401.4" cy="71.4" r="6.7"/><circle cx="401.7" cy="71.7" r="6.7"/><circle cx="402.0" cy="72.1" r="6.7"/><circle cx="402.3" cy="72.7" r="6.7"/><circle cx="402.6" cy="72.6" r="6.7"/><circle cx="402.9" cy="71.8" r="6.7"/><circle cx="403.2" cy="71.3" r="6.7"/><circle cx="403.5" cy="71.7" r="6.7"/><circle cx="403.8" cy="72.2" r="6.7"/><circle cx="404.1" cy="73.3" r="6.7"/><circle cx="404.4" cy="73.4" r="6.7"/><circle cx="404.7" cy="74.1" r="6.7"/><circle cx="405.0" cy="75.1" r="6.7"/><circle cx="405.3" cy="75.0" r="6.7"/><circle cx="405.6" cy="73.6" r="6.7"/><circle cx="405.9" cy="72.9" r="6.7"/><circle cx="406.2" cy="72.3" r="6.7"/><circle cx="406.5" cy="74.2" r="6.7"/><circle cx="406.8" cy="74.0" r="6.7"/><circle cx="407.1" cy="75.5" r="6.7"/><circle cx="407.4" cy="76.3" r="6.7"/><circle cx="407.7" cy="78.0" r="6.7"/><circle cx="408.0" cy="78.9" r="6.7"/><circle cx="408.3" cy="79.0" r="6.7"/><circle cx="408.6" cy="79.3" r="6.7"/><circle cx="408.9" cy="80.0" r="6.7"/><circle cx="409.2" cy="81.0" r="6.7"/><circle cx="409.5" cy="81.5" r="6.7"/><circle cx="409.8" cy="82.6" r="6.7"/><circle cx="410.1" cy="85.1" r="6.7"/><circle cx="410.4" cy="84.9" r="6.7"/><circle cx="410.7" cy="86.5" r="6.7"/><circle cx="411.0" cy="87.2" r="6.7"/><circle cx="411.3" cy="89.2" r="6.7"/><circle cx="411.6" cy="92.4" r="6.7"/><circle cx="411.9" cy="95.1" r="6.7"/><circle cx="412.2" cy="98.7" r="6.7"/><circle cx="412.5" cy="100.2" r="6.7"/><circle cx="412.8" cy="103.8" r="6.7"/><circle cx="413.1" cy="105.4" r="6.7"/><circle cx="413.4" cy="107.3" r="6.7"/><circle cx="413.7" cy="107.9" r="6.7"/><circle cx="414.0" cy="105.9" r="6.7"/><circle cx="414.3" cy="105.5" r="6.7"/><circle cx="414.6" cy="105.8" r="6.7"/><circle cx="414.9" cy="106.9" r="6.7"/><circle cx="415.2" cy="106.6" r="6.7"/><circle cx="415.5" cy="106.1" r="6.7"/><circle cx="415.8" cy="104.3" r="6.7"/><circle cx="416.1" cy="105.0" r="6.7"/><circle cx="416.4" cy="105.5" r="6.7"/><circle cx="416.7" cy="104.3" r="6.7"/><circle cx="417.0" cy="102.9" r="6.7"/><circle cx="417.3" cy="100.4" r="6.7"/><circle cx="417.6" cy="100.0" r="6.7"/><circle cx="417.9" cy="100.9" r="6.7"/><circle cx="418.2" cy="99.8" r="6.7"/><circle cx="418.5" cy="98.8" r="6.7"/><circle cx="418.8" cy="96.9" r="6.7"/><circle cx="419.1" cy="93.7" r="6.7"/><circle cx="419.4" cy="92.8" r="6.7"/><circle cx="419.7" cy="89.9" r="6.7"/><circle cx="420.0" cy="88.5" r="6.7"/><circle cx="420.3" cy="88.2" r="6.7"/><circle cx="420.6" cy="88.7" r="6.7"/><circle cx="420.9" cy="89.2" r="6.7"/><circle cx="421.2" cy="89.8" r="6.7"/><circle cx="421.5" cy="89.6" r="6.7"/><circle cx="421.8" cy="89.7" r="6.7"/><circle cx="422.1" cy="91.3" r="6.7"/><circle cx="422.4" cy="92.5" r="6.7"/><circle cx="422.7" cy="93.0" r="6.7"/><circle cx="423.0" cy="93.8" r="6.7"/><circle cx="423.3" cy="95.3" r="6.7"/><circle cx="423.6" cy="95.8" r="6.7"/><circle cx="423.9" cy="96.9" r="6.7"/><circle cx="424.2" cy="98.0" r="6.7"/><circle cx="424.5" cy="100.5" r="6.7"/><circle cx="424.8" cy="103.1" r="6.7"/><circle cx="425.1" cy="106.7" r="6.7"/><circle cx="425.4" cy="107.1" r="6.7"/><circle cx="425.7" cy="108.4" r="6.7"/><circle cx="426.0" cy="111.0" r="6.7"/><circle cx="426.3" cy="112.5" r="6.7"/><circle cx="426.6" cy="114.0" r="6.7"/><circle cx="426.9" cy="117.0" r="6.7"/><circle cx="427.2" cy="118.1" r="6.7"/><circle cx="427.5" cy="118.7" r="6.7"/><circle cx="427.8" cy="119.3" r="6.7"/><circle cx="428.1" cy="121.4" r="6.7"/><circle cx="428.4" cy="123.3" r="6.7"/><circle cx="428.7" cy="123.8" r="6.7"/><circle cx="429.0" cy="124.8" r="6.7"/><circle cx="429.3" cy="127.1" r="6.7"/><circle cx="429.6" cy="129.2" r="6.7"/><circle cx="429.9" cy="130.2" r="6.7"/><circle cx="430.2" cy="132.3" r="6.7"/><circle cx="430.5" cy="134.2" r="6.7"/><circle cx="430.8" cy="134.1" r="6.7"/><circle cx="431.1" cy="135.5" r="6.7"/><circle cx="431.4" cy="137.3" r="6.7"/><circle cx="431.7" cy="138.2" r="6.7"/><circle cx="432.0" cy="137.9" r="6.7"/><circle cx="432.3" cy="139.3" r="6.7"/><circle cx="432.6" cy="141.5" r="6.7"/><circle cx="432.9" cy="144.1" r="6.7"/><circle cx="433.2" cy="143.4" r="6.7"/><circle cx="433.5" cy="146.8" r="6.7"/><circle cx="433.8" cy="146.8" r="6.7"/><circle cx="434.1" cy="148.5" r="6.7"/><circle cx="434.4" cy="150.3" r="6.7"/><circle cx="434.7" cy="151.7" r="6.7"/><circle cx="435.0" cy="152.3" r="6.7"/><circle cx="435.3" cy="151.8" r="6.7"/><circle cx="435.6" cy="152.9" r="6.7"/><circle cx="435.9" cy="152.9" r="6.7"/><circle cx="436.2" cy="151.5" r="6.7"/><circle cx="436.5" cy="154.6" r="6.7"/><circle cx="436.8" cy="155.5" r="6.7"/><circle cx="437.1" cy="157.2" r="6.7"/><circle cx="437.4" cy="156.4" r="6.7"/><circle cx="437.7" cy="157.6" r="6.7"/><circle cx="438.0" cy="158.7" r="6.7"/><circle cx="438.3" cy="159.6" r="6.7"/><circle cx="438.6" cy="159.1" r="6.7"/><circle cx="438.9" cy="157.9" r="6.7"/><circle cx="439.2" cy="157.7" r="6.7"/><circle cx="439.5" cy="155.9" r="6.7"/><circle cx="439.8" cy="155.0" r="6.7"/><circle cx="440.1" cy="155.7" r="6.7"/><circle cx="440.4" cy="155.5" r="6.7"/><circle cx="440.7" cy="156.0" r="6.7"/><circle cx="441.0" cy="156.5" r="6.7"/><circle cx="441.3" cy="158.6" r="6.7"/><circle cx="441.6" cy="159.9" r="6.7"/><circle cx="441.9" cy="160.0" r="6.7"/><circle cx="442.2" cy="161.2" r="6.7"/><circle cx="442.5" cy="160.8" r="6.7"/><circle cx="442.8" cy="161.0" r="6.7"/><circle cx="443.1" cy="162.3" r="6.7"/><circle cx="443.4" cy="161.9" r="6.7"/><circle cx="443.7" cy="162.5" r="6.7"/><circle cx="444.0" cy="162.3" r="6.7"/><circle cx="444.3" cy="163.5" r="6.7"/><circle cx="444.6" cy="165.7" r="6.7"/><circle cx="444.9" cy="165.9" r="6.7"/><circle cx="445.2" cy="166.9" r="6.7"/><circle cx="445.5" cy="167.0" r="6.7"/><circle cx="445.8" cy="167.1" r="6.7"/><circle cx="446.1" cy="167.1" r="6.7"/><circle cx="446.4" cy="169.5" r="6.7"/><circle cx="446.7" cy="172.3" r="6.7"/><circle cx="447.0" cy="173.2" r="6.7"/><circle cx="447.3" cy="173.3" r="6.7"/><circle cx="447.6" cy="174.6" r="6.7"/><circle cx="447.9" cy="175.0" r="6.7"/><circle cx="448.2" cy="176.4" r="6.7"/><circle cx="448.5" cy="177.2" r="6.7"/><circle cx="448.8" cy="178.0" r="6.7"/><circle cx="449.1" cy="179.1" r="6.7"/><circle cx="449.4" cy="179.0" r="6.7"/><circle cx="449.7" cy="179.2" r="6.7"/><circle cx="450.0" cy="178.4" r="6.7"/><circle cx="450.3" cy="178.8" r="6.7"/><circle cx="450.6" cy="178.5" r="6.7"/><circle cx="450.9" cy="179.3" r="6.7"/><circle cx="451.2" cy="179.5" r="6.7"/><circle cx="451.5" cy="180.5" r="6.7"/><circle cx="451.8" cy="181.7" r="6.7"/><circle cx="452.1" cy="181.3" r="6.7"/><circle cx="452.4" cy="181.5" r="6.7"/><circle cx="452.7" cy="181.6" r="6.7"/><circle cx="453.0" cy="183.0" r="6.7"/><circle cx="453.3" cy="185.0" r="6.7"/><circle cx="453.6" cy="185.9" r="6.7"/><circle cx="453.9" cy="185.8" r="6.7"/><circle cx="454.2" cy="187.0" r="6.7"/><circle cx="454.5" cy="185.7" r="6.7"/><circle cx="454.8" cy="186.9" r="6.7"/><circle cx="455.1" cy="186.2" r="6.7"/><circle cx="455.4" cy="183.9" r="6.7"/><circle cx="455.7" cy="186.3" r="6.7"/><circle cx="456.0" cy="187.3" r="6.7"/><circle cx="456.3" cy="186.1" r="6.7"/><circle cx="456.6" cy="186.0" r="6.7"/><circle cx="456.9" cy="185.5" r="6.7"/><circle cx="457.2" cy="185.4" r="6.7"/><circle cx="457.5" cy="184.0" r="6.7"/><circle cx="457.8" cy="183.4" r="6.7"/><circle cx="458.1" cy="183.8" r="6.7"/><circle cx="458.4" cy="183.9" r="6.7"/><circle cx="458.7" cy="184.6" r="6.7"/><circle cx="459.0" cy="184.3" r="6.7"/><circle cx="459.3" cy="185.7" r="6.7"/><circle cx="459.6" cy="184.5" r="6.7"/><circle cx="459.9" cy="184.1" r="6.7"/><circle cx="460.2" cy="182.1" r="6.7"/><circle cx="460.5" cy="181.0" r="6.7"/><circle cx="460.8" cy="182.0" r="6.7"/><circle cx="461.1" cy="181.1" r="6.7"/><circle cx="461.4" cy="181.4" r="6.7"/><circle cx="461.7" cy="181.1" r="6.7"/><circle cx="462.0" cy="180.1" r="6.7"/><circle cx="462.3" cy="179.7" r="6.7"/><circle cx="462.6" cy="179.3" r="6.7"/><circle cx="462.9" cy="178.9" r="6.7"/><circle cx="463.2" cy="179.4" r="6.7"/><circle cx="463.5" cy="179.7" r="6.7"/><circle cx="463.8" cy="178.9" r="6.7"/><circle cx="464.1" cy="178.0" r="6.7"/><circle cx="464.4" cy="178.1" r="6.7"/><circle cx="464.7" cy="177.8" r="6.7"/><circle cx="465.0" cy="178.3" r="6.7"/><circle cx="465.3" cy="180.0" r="6.7"/><circle cx="465.6" cy="179.8" r="6.7"/><circle cx="465.9" cy="178.9" r="6.7"/><circle cx="466.2" cy="178.0" r="6.7"/><circle cx="466.5" cy="176.7" r="6.7"/><circle cx="466.8" cy="175.5" r="6.7"/><circle cx="467.1" cy="174.5" r="6.7"/><circle cx="467.4" cy="174.0" r="6.7"/><circle cx="467.7" cy="173.5" r="6.7"/><circle cx="468.0" cy="174.0" r="6.7"/><circle cx="468.3" cy="173.4" r="6.7"/><circle cx="468.6" cy="173.0" r="6.7"/><circle cx="468.9" cy="171.8" r="6.7"/><circle cx="469.2" cy="173.1" r="6.7"/><circle cx="469.5" cy="173.1" r="6.7"/><circle cx="469.8" cy="174.0" r="6.7"/><circle cx="470.1" cy="174.0" r="6.7"/><circle cx="470.4" cy="174.4" r="6.7"/><circle cx="470.7" cy="173.2" r="6.7"/><circle cx="471.0" cy="173.0" r="6.7"/><circle cx="471.3" cy="174.3" r="6.7"/><circle cx="471.6" cy="172.2" r="6.7"/><circle cx="471.9" cy="172.3" r="6.7"/><circle cx="472.2" cy="172.8" r="6.7"/><circle cx="472.5" cy="172.0" r="6.7"/><circle cx="472.8" cy="171.6" r="6.7"/><circle cx="473.1" cy="171.6" r="6.7"/><circle cx="473.4" cy="170.0" r="6.7"/><circle cx="473.7" cy="169.5" r="6.7"/><circle cx="474.0" cy="168.0" r="6.7"/><circle cx="474.3" cy="166.8" r="6.7"/><circle cx="474.6" cy="165.9" r="6.7"/><circle cx="474.9" cy="165.5" r="6.7"/><circle cx="475.2" cy="165.2" r="6.7"/><circle cx="475.5" cy="165.2" r="6.7"/><circle cx="475.8" cy="163.7" r="6.7"/><circle cx="476.1" cy="165.1" r="6.7"/><circle cx="476.4" cy="165.4" r="6.7"/><circle cx="476.7" cy="165.3" r="6.7"/><circle cx="477.0" cy="164.3" r="6.7"/><circle cx="477.3" cy="163.6" r="6.7"/><circle cx="477.6" cy="163.5" r="6.7"/><circle cx="477.9" cy="163.2" r="6.7"/><circle cx="478.2" cy="161.2" r="6.7"/><circle cx="478.5" cy="161.5" r="6.7"/><circle cx="478.8" cy="163.4" r="6.7"/><circle cx="479.1" cy="161.1" r="6.7"/><circle cx="479.4" cy="161.4" r="6.7"/><circle cx="479.7" cy="161.1" r="6.7"/><circle cx="480.0" cy="160.5" r="6.7"/><circle cx="480.3" cy="161.0" r="6.7"/><circle cx="480.6" cy="159.4" r="6.7"/><circle cx="480.9" cy="159.1" r="6.7"/><circle cx="481.2" cy="159.8" r="6.7"/><circle cx="481.5" cy="159.0" r="6.7"/><circle cx="481.8" cy="158.1" r="6.7"/><circle cx="482.1" cy="157.8" r="6.7"/><circle cx="482.4" cy="157.0" r="6.7"/><circle cx="482.7" cy="157.9" r="6.7"/><circle cx="483.0" cy="156.6" r="6.7"/><circle cx="483.3" cy="156.9" r="6.7"/><circle cx="483.6" cy="155.4" r="6.7"/><circle cx="483.9" cy="155.7" r="6.7"/><circle cx="484.2" cy="155.2" r="6.7"/><circle cx="484.5" cy="152.8" r="6.7"/><circle cx="484.8" cy="152.8" r="6.7"/><circle cx="485.1" cy="152.0" r="6.7"/><circle cx="485.4" cy="151.7" r="6.7"/><circle cx="485.7" cy="153.0" r="6.7"/><circle cx="486.0" cy="151.9" r="6.7"/><circle cx="486.3" cy="151.0" r="6.7"/><circle cx="486.6" cy="152.2" r="6.7"/><circle cx="486.9" cy="152.0" r="6.7"/><circle cx="487.2" cy="153.0" r="6.7"/><circle cx="487.5" cy="152.7" r="6.7"/><circle cx="487.8" cy="151.5" r="6.7"/><circle cx="488.1" cy="151.1" r="6.7"/><circle cx="488.4" cy="151.7" r="6.7"/><circle cx="488.7" cy="152.0" r="6.7"/><circle cx="489.0" cy="151.3" r="6.7"/><circle cx="489.3" cy="150.8" r="6.7"/><circle cx="489.6" cy="150.2" r="6.7"/><circle cx="489.9" cy="149.3" r="6.7"/><circle cx="490.2" cy="150.5" r="6.7"/><circle cx="490.5" cy="149.9" r="6.7"/><circle cx="490.8" cy="148.4" r="6.7"/><circle cx="491.1" cy="147.7" r="6.7"/><circle cx="491.4" cy="148.0" r="6.7"/><circle cx="491.7" cy="148.1" r="6.7"/><circle cx="492.0" cy="147.5" r="6.7"/><circle cx="492.3" cy="146.6" r="6.7"/><circle cx="492.6" cy="146.3" r="6.7"/><circle cx="492.9" cy="144.7" r="6.7"/><circle cx="493.2" cy="143.6" r="6.7"/><circle cx="493.5" cy="144.4" r="6.7"/><circle cx="493.8" cy="143.9" r="6.7"/><circle cx="494.1" cy="144.2" r="6.7"/><circle cx="494.4" cy="145.0" r="6.7"/><circle cx="494.7" cy="145.1" r="6.7"/><circle cx="495.0" cy="144.7" r="6.7"/><circle cx="495.3" cy="145.9" r="6.7"/><circle cx="495.6" cy="145.7" r="6.7"/><circle cx="495.9" cy="144.7" r="6.7"/><circle cx="496.2" cy="144.6" r="6.7"/><circle cx="496.5" cy="144.3" r="6.7"/><circle cx="496.8" cy="142.9" r="6.7"/><circle cx="497.1" cy="142.5" r="6.7"/><circle cx="497.4" cy="142.0" r="6.7"/><circle cx="497.7" cy="140.0" r="6.7"/><circle cx="498.0" cy="139.8" r="6.7"/><circle cx="498.3" cy="139.5" r="6.7"/><circle cx="498.6" cy="139.1" r="6.7"/><circle cx="498.9" cy="137.7" r="6.7"/><circle cx="499.2" cy="137.6" r="6.7"/><circle cx="499.5" cy="137.7" r="6.7"/><circle cx="499.8" cy="137.8" r="6.7"/><circle cx="500.1" cy="136.9" r="6.7"/><circle cx="500.4" cy="137.5" r="6.7"/><circle cx="500.7" cy="136.4" r="6.7"/><circle cx="501.0" cy="136.3" r="6.7"/><circle cx="501.3" cy="137.4" r="6.7"/><circle cx="501.6" cy="136.6" r="6.7"/><circle cx="501.9" cy="136.0" r="6.7"/><circle cx="502.2" cy="136.8" r="6.7"/><circle cx="502.5" cy="136.2" r="6.7"/><circle cx="502.8" cy="135.7" r="6.7"/><circle cx="503.1" cy="135.6" r="6.7"/><circle cx="503.4" cy="136.2" r="6.7"/><circle cx="503.7" cy="134.0" r="6.7"/><circle cx="504.0" cy="133.3" r="6.7"/><circle cx="504.3" cy="132.5" r="6.7"/><circle cx="504.6" cy="131.7" r="6.7"/><circle cx="504.9" cy="131.3" r="6.7"/><circle cx="505.2" cy="130.8" r="6.7"/><circle cx="505.5" cy="131.3" r="6.7"/><circle cx="505.8" cy="130.7" r="6.7"/><circle cx="506.1" cy="131.0" r="6.7"/><circle cx="506.4" cy="131.3" r="6.7"/><circle cx="506.7" cy="130.6" r="6.7"/><circle cx="507.0" cy="130.7" r="6.7"/><circle cx="507.3" cy="131.9" r="6.7"/><circle cx="507.6" cy="131.7" r="6.7"/><circle cx="507.9" cy="130.8" r="6.7"/><circle cx="508.2" cy="130.4" r="6.7"/><circle cx="508.5" cy="129.3" r="6.7"/><circle cx="508.8" cy="129.4" r="6.7"/><circle cx="509.1" cy="129.8" r="6.7"/><circle cx="509.4" cy="128.7" r="6.7"/><circle cx="509.7" cy="128.3" r="6.7"/><circle cx="510.0" cy="128.9" r="6.7"/><circle cx="510.3" cy="128.0" r="6.7"/><circle cx="510.6" cy="127.8" r="6.7"/><circle cx="510.9" cy="126.6" r="6.7"/><circle cx="511.2" cy="125.7" r="6.7"/><circle cx="511.5" cy="125.2" r="6.7"/><circle cx="511.8" cy="126.8" r="6.7"/><circle cx="512.1" cy="126.0" r="6.7"/><circle cx="512.4" cy="125.2" r="6.7"/><circle cx="512.7" cy="124.4" r="6.7"/><circle cx="513.0" cy="124.1" r="6.7"/><circle cx="513.3" cy="124.4" r="6.7"/><circle cx="513.6" cy="124.1" r="6.7"/><circle cx="513.9" cy="125.3" r="6.7"/><circle cx="514.2" cy="124.8" r="6.7"/><circle cx="514.5" cy="125.2" r="6.7"/><circle cx="514.8" cy="124.6" r="6.7"/><circle cx="515.1" cy="124.3" r="6.7"/><circle cx="515.4" cy="122.4" r="6.7"/><circle cx="515.7" cy="121.8" r="6.7"/><circle cx="516.0" cy="121.3" r="6.7"/><circle cx="516.3" cy="120.6" r="6.7"/><circle cx="516.6" cy="118.6" r="6.7"/><circle cx="516.9" cy="119.2" r="6.7"/><circle cx="517.2" cy="118.7" r="6.7"/><circle cx="517.5" cy="118.2" r="6.7"/><circle cx="517.8" cy="117.8" r="6.7"/><circle cx="518.1" cy="117.4" r="6.7"/><circle cx="518.4" cy="117.6" r="6.7"/><circle cx="518.7" cy="116.3" r="6.7"/><circle cx="519.5" cy="116.5" r="6.7"/><circle cx="716.0" cy="74.9" r="6.7"/><circle cx="716.3" cy="75.8" r="6.7"/><circle cx="716.5" cy="75.8" r="6.7"/><circle cx="716.8" cy="75.6" r="6.7"/><circle cx="717.1" cy="75.3" r="6.7"/><circle cx="717.3" cy="74.9" r="6.7"/><circle cx="717.6" cy="75.0" r="6.7"/><circle cx="717.9" cy="75.6" r="6.7"/><circle cx="718.2" cy="75.1" r="6.7"/><circle cx="718.4" cy="75.8" r="6.7"/><circle cx="718.7" cy="76.1" r="6.7"/><circle cx="719.0" cy="75.8" r="6.7"/><circle cx="719.2" cy="76.1" r="6.7"/><circle cx="719.5" cy="75.3" r="6.7"/><circle cx="719.8" cy="74.4" r="6.7"/><circle cx="720.0" cy="73.9" r="6.7"/><circle cx="720.3" cy="73.9" r="6.7"/><circle cx="720.6" cy="74.0" r="6.7"/><circle cx="720.9" cy="73.9" r="6.7"/><circle cx="721.1" cy="74.1" r="6.7"/><circle cx="721.4" cy="73.2" r="6.7"/><circle cx="721.7" cy="73.7" r="6.7"/><circle cx="721.9" cy="73.3" r="6.7"/><circle cx="722.2" cy="73.2" r="6.7"/><circle cx="722.5" cy="73.3" r="6.7"/><circle cx="722.7" cy="73.0" r="6.7"/><circle cx="723.0" cy="72.6" r="6.7"/><circle cx="723.3" cy="72.5" r="6.7"/><circle cx="723.6" cy="72.9" r="6.7"/><circle cx="723.8" cy="73.4" r="6.7"/><circle cx="724.1" cy="73.9" r="6.7"/><circle cx="724.4" cy="73.6" r="6.7"/><circle cx="724.6" cy="73.4" r="6.7"/><circle cx="724.9" cy="73.2" r="6.7"/><circle cx="725.2" cy="73.6" r="6.7"/><circle cx="725.4" cy="72.8" r="6.7"/><circle cx="725.7" cy="73.7" r="6.7"/><circle cx="726.0" cy="73.6" r="6.7"/><circle cx="726.3" cy="73.4" r="6.7"/><circle cx="726.5" cy="73.8" r="6.7"/><circle cx="726.8" cy="74.4" r="6.7"/><circle cx="727.1" cy="74.6" r="6.7"/><circle cx="727.3" cy="75.1" r="6.7"/><circle cx="727.6" cy="75.1" r="6.7"/><circle cx="727.9" cy="75.6" r="6.7"/><circle cx="728.1" cy="76.1" r="6.7"/><circle cx="728.4" cy="75.8" r="6.7"/><circle cx="728.7" cy="76.3" r="6.7"/><circle cx="729.0" cy="76.1" r="6.7"/><circle cx="729.2" cy="75.9" r="6.7"/><circle cx="729.5" cy="75.3" r="6.7"/><circle cx="729.8" cy="75.0" r="6.7"/><circle cx="730.0" cy="75.3" r="6.7"/><circle cx="730.3" cy="74.6" r="6.7"/><circle cx="730.6" cy="74.9" r="6.7"/><circle cx="730.8" cy="75.0" r="6.7"/><circle cx="731.1" cy="75.0" r="6.7"/><circle cx="731.4" cy="73.9" r="6.7"/><circle cx="731.7" cy="73.9" r="6.7"/><circle cx="731.9" cy="74.3" r="6.7"/><circle cx="732.2" cy="74.0" r="6.7"/><circle cx="732.5" cy="74.1" r="6.7"/><circle cx="732.7" cy="73.0" r="6.7"/><circle cx="733.0" cy="73.5" r="6.7"/><circle cx="733.3" cy="73.3" r="6.7"/><circle cx="733.5" cy="73.9" r="6.7"/><circle cx="733.8" cy="73.1" r="6.7"/><circle cx="734.1" cy="73.6" r="6.7"/><circle cx="734.4" cy="73.6" r="6.7"/><circle cx="734.6" cy="74.1" r="6.7"/><circle cx="734.9" cy="73.7" r="6.7"/><circle cx="735.2" cy="73.5" r="6.7"/><circle cx="735.4" cy="74.6" r="6.7"/><circle cx="735.7" cy="74.2" r="6.7"/><circle cx="736.0" cy="73.9" r="6.7"/><circle cx="736.2" cy="73.8" r="6.7"/><circle cx="736.5" cy="73.4" r="6.7"/><circle cx="736.8" cy="74.1" r="6.7"/><circle cx="737.1" cy="74.9" r="6.7"/><circle cx="737.3" cy="74.5" r="6.7"/><circle cx="737.6" cy="73.6" r="6.7"/><circle cx="737.9" cy="74.2" r="6.7"/><circle cx="738.1" cy="74.7" r="6.7"/><circle cx="738.4" cy="75.0" r="6.7"/><circle cx="738.7" cy="75.5" r="6.7"/><circle cx="738.9" cy="74.8" r="6.7"/><circle cx="739.2" cy="74.7" r="6.7"/><circle cx="739.5" cy="73.9" r="6.7"/><circle cx="739.8" cy="73.3" r="6.7"/><circle cx="740.0" cy="73.9" r="6.7"/><circle cx="740.3" cy="73.6" r="6.7"/><circle cx="740.6" cy="74.7" r="6.7"/><circle cx="740.8" cy="74.7" r="6.7"/><circle cx="741.1" cy="74.3" r="6.7"/><circle cx="741.4" cy="74.6" r="6.7"/><circle cx="741.6" cy="75.4" r="6.7"/><circle cx="741.9" cy="75.4" r="6.7"/><circle cx="742.2" cy="74.7" r="6.7"/><circle cx="742.5" cy="74.8" r="6.7"/><circle cx="742.7" cy="75.3" r="6.7"/><circle cx="743.0" cy="74.9" r="6.7"/><circle cx="743.3" cy="74.4" r="6.7"/><circle cx="743.5" cy="74.9" r="6.7"/><circle cx="743.8" cy="74.8" r="6.7"/><circle cx="744.1" cy="74.2" r="6.7"/><circle cx="744.3" cy="74.0" r="6.7"/><circle cx="744.6" cy="73.7" r="6.7"/><circle cx="744.9" cy="73.9" r="6.7"/><circle cx="745.2" cy="74.0" r="6.7"/><circle cx="745.4" cy="74.6" r="6.7"/><circle cx="745.7" cy="74.8" r="6.7"/><circle cx="746.0" cy="74.0" r="6.7"/><circle cx="746.2" cy="74.2" r="6.7"/><circle cx="746.5" cy="74.7" r="6.7"/><circle cx="746.8" cy="74.8" r="6.7"/><circle cx="747.0" cy="75.2" r="6.7"/><circle cx="747.3" cy="74.8" r="6.7"/><circle cx="747.6" cy="74.3" r="6.7"/><circle cx="747.9" cy="74.7" r="6.7"/><circle cx="748.1" cy="74.2" r="6.7"/><circle cx="748.4" cy="73.2" r="6.7"/><circle cx="748.7" cy="73.8" r="6.7"/><circle cx="748.9" cy="73.5" r="6.7"/><circle cx="749.2" cy="73.5" r="6.7"/><circle cx="749.5" cy="73.0" r="6.7"/><circle cx="749.7" cy="72.6" r="6.7"/><circle cx="750.0" cy="72.3" r="6.7"/><circle cx="750.3" cy="72.4" r="6.7"/><circle cx="750.6" cy="72.9" r="6.7"/><circle cx="750.8" cy="72.0" r="6.7"/><circle cx="751.1" cy="72.7" r="6.7"/><circle cx="751.4" cy="72.4" r="6.7"/><circle cx="751.6" cy="72.2" r="6.7"/><circle cx="751.9" cy="72.9" r="6.7"/><circle cx="752.2" cy="73.1" r="6.7"/><circle cx="752.4" cy="72.5" r="6.7"/><circle cx="752.7" cy="73.7" r="6.7"/><circle cx="753.0" cy="73.4" r="6.7"/><circle cx="753.3" cy="73.7" r="6.7"/><circle cx="753.5" cy="73.9" r="6.7"/><circle cx="753.8" cy="74.6" r="6.7"/><circle cx="754.1" cy="74.4" r="6.7"/><circle cx="754.3" cy="74.9" r="6.7"/><circle cx="754.6" cy="74.4" r="6.7"/><circle cx="754.9" cy="75.0" r="6.7"/><circle cx="755.1" cy="74.5" r="6.7"/><circle cx="755.4" cy="74.3" r="6.7"/><circle cx="755.7" cy="75.2" r="6.7"/><circle cx="756.0" cy="75.3" r="6.7"/><circle cx="756.2" cy="75.2" r="6.7"/><circle cx="756.5" cy="76.1" r="6.7"/><circle cx="756.8" cy="76.0" r="6.7"/><circle cx="757.0" cy="75.4" r="6.7"/><circle cx="757.3" cy="75.6" r="6.7"/><circle cx="757.6" cy="74.8" r="6.7"/><circle cx="757.8" cy="75.3" r="6.7"/><circle cx="758.1" cy="75.7" r="6.7"/><circle cx="758.4" cy="75.2" r="6.7"/><circle cx="758.7" cy="74.8" r="6.7"/><circle cx="758.9" cy="74.8" r="6.7"/><circle cx="759.2" cy="74.7" r="6.7"/><circle cx="759.5" cy="74.2" r="6.7"/><circle cx="759.7" cy="74.4" r="6.7"/><circle cx="760.0" cy="73.4" r="6.7"/><circle cx="760.3" cy="73.3" r="6.7"/><circle cx="760.5" cy="73.2" r="6.7"/><circle cx="760.8" cy="73.2" r="6.7"/><circle cx="761.1" cy="73.5" r="6.7"/><circle cx="761.4" cy="73.0" r="6.7"/><circle cx="761.6" cy="73.4" r="6.7"/><circle cx="761.9" cy="73.4" r="6.7"/><circle cx="762.2" cy="73.2" r="6.7"/><circle cx="762.4" cy="72.6" r="6.7"/><circle cx="762.7" cy="72.1" r="6.7"/><circle cx="763.0" cy="72.3" r="6.7"/><circle cx="763.2" cy="71.9" r="6.7"/><circle cx="763.5" cy="71.9" r="6.7"/><circle cx="763.8" cy="72.3" r="6.7"/><circle cx="764.1" cy="72.6" r="6.7"/><circle cx="764.3" cy="73.7" r="6.7"/><circle cx="764.6" cy="72.9" r="6.7"/><circle cx="764.9" cy="71.5" r="6.7"/><circle cx="765.1" cy="72.1" r="6.7"/><circle cx="765.4" cy="71.9" r="6.7"/><circle cx="765.7" cy="72.4" r="6.7"/><circle cx="765.9" cy="71.9" r="6.7"/><circle cx="766.2" cy="72.4" r="6.7"/><circle cx="766.5" cy="72.5" r="6.7"/><circle cx="766.8" cy="72.4" r="6.7"/><circle cx="767.0" cy="72.1" r="6.7"/><circle cx="767.3" cy="71.8" r="6.7"/><circle cx="767.6" cy="71.3" r="6.7"/><circle cx="767.8" cy="71.0" r="6.7"/><circle cx="768.1" cy="71.3" r="6.7"/><circle cx="768.4" cy="70.3" r="6.7"/><circle cx="768.6" cy="71.4" r="6.7"/><circle cx="768.9" cy="70.6" r="6.7"/><circle cx="769.2" cy="71.0" r="6.7"/><circle cx="769.5" cy="70.3" r="6.7"/><circle cx="769.7" cy="69.6" r="6.7"/><circle cx="770.0" cy="71.0" r="6.7"/><circle cx="770.3" cy="70.1" r="6.7"/><circle cx="770.5" cy="68.4" r="6.7"/><circle cx="770.8" cy="67.5" r="6.7"/><circle cx="771.1" cy="67.1" r="6.7"/><circle cx="771.3" cy="69.0" r="6.7"/><circle cx="771.6" cy="68.8" r="6.7"/><circle cx="771.9" cy="69.4" r="6.7"/><circle cx="772.2" cy="68.1" r="6.7"/><circle cx="772.4" cy="68.2" r="6.7"/><circle cx="772.7" cy="68.6" r="6.7"/><circle cx="773.0" cy="70.0" r="6.7"/><circle cx="773.2" cy="68.9" r="6.7"/><circle cx="773.5" cy="69.1" r="6.7"/><circle cx="773.8" cy="69.0" r="6.7"/><circle cx="774.0" cy="67.8" r="6.7"/><circle cx="774.3" cy="67.6" r="6.7"/><circle cx="774.6" cy="67.3" r="6.7"/><circle cx="774.9" cy="65.1" r="6.7"/><circle cx="775.1" cy="65.9" r="6.7"/><circle cx="775.4" cy="66.5" r="6.7"/><circle cx="775.7" cy="66.2" r="6.7"/><circle cx="775.9" cy="65.0" r="6.7"/><circle cx="776.2" cy="66.6" r="6.7"/><circle cx="776.5" cy="66.9" r="6.7"/><circle cx="776.7" cy="67.8" r="6.7"/><circle cx="777.0" cy="68.9" r="6.7"/><circle cx="777.3" cy="68.1" r="6.7"/><circle cx="777.6" cy="68.6" r="6.7"/><circle cx="777.8" cy="68.2" r="6.7"/><circle cx="778.1" cy="67.9" r="6.7"/><circle cx="778.4" cy="67.7" r="6.7"/><circle cx="778.6" cy="67.5" r="6.7"/><circle cx="778.9" cy="68.4" r="6.7"/><circle cx="779.2" cy="68.3" r="6.7"/><circle cx="779.4" cy="67.9" r="6.7"/><circle cx="779.7" cy="67.5" r="6.7"/><circle cx="780.0" cy="67.7" r="6.7"/><circle cx="780.3" cy="66.8" r="6.7"/><circle cx="780.5" cy="66.4" r="6.7"/><circle cx="780.8" cy="66.4" r="6.7"/><circle cx="781.1" cy="66.0" r="6.7"/><circle cx="781.3" cy="66.0" r="6.7"/><circle cx="781.6" cy="65.6" r="6.7"/><circle cx="781.9" cy="67.6" r="6.7"/><circle cx="782.1" cy="68.7" r="6.7"/><circle cx="782.4" cy="68.9" r="6.7"/><circle cx="782.7" cy="68.5" r="6.7"/><circle cx="783.0" cy="70.3" r="6.7"/><circle cx="783.2" cy="70.1" r="6.7"/><circle cx="783.5" cy="69.6" r="6.7"/><circle cx="783.8" cy="69.5" r="6.7"/><circle cx="784.0" cy="69.4" r="6.7"/><circle cx="784.3" cy="70.3" r="6.7"/><circle cx="784.6" cy="69.9" r="6.7"/><circle cx="784.8" cy="71.3" r="6.7"/><circle cx="785.1" cy="69.9" r="6.7"/><circle cx="785.4" cy="70.2" r="6.7"/><circle cx="785.7" cy="68.9" r="6.7"/><circle cx="785.9" cy="70.3" r="6.7"/><circle cx="786.2" cy="69.5" r="6.7"/><circle cx="786.5" cy="69.2" r="6.7"/><circle cx="786.7" cy="69.7" r="6.7"/><circle cx="787.0" cy="70.5" r="6.7"/><circle cx="787.3" cy="69.1" r="6.7"/><circle cx="787.5" cy="68.6" r="6.7"/><circle cx="787.8" cy="67.2" r="6.7"/><circle cx="788.1" cy="67.4" r="6.7"/><circle cx="788.4" cy="67.3" r="6.7"/><circle cx="788.6" cy="67.1" r="6.7"/><circle cx="788.9" cy="66.6" r="6.7"/><circle cx="789.2" cy="66.4" r="6.7"/><circle cx="789.4" cy="66.0" r="6.7"/><circle cx="789.7" cy="66.7" r="6.7"/><circle cx="790.0" cy="68.3" r="6.7"/><circle cx="790.2" cy="66.5" r="6.7"/><circle cx="790.5" cy="66.6" r="6.7"/><circle cx="790.8" cy="66.5" r="6.7"/><circle cx="791.1" cy="67.2" r="6.7"/><circle cx="791.3" cy="66.5" r="6.7"/><circle cx="791.6" cy="66.6" r="6.7"/><circle cx="791.9" cy="65.9" r="6.7"/><circle cx="792.1" cy="66.9" r="6.7"/><circle cx="792.4" cy="67.2" r="6.7"/><circle cx="792.7" cy="67.3" r="6.7"/><circle cx="792.9" cy="67.8" r="6.7"/><circle cx="793.2" cy="67.7" r="6.7"/><circle cx="793.5" cy="66.4" r="6.7"/><circle cx="793.8" cy="67.3" r="6.7"/><circle cx="794.0" cy="67.8" r="6.7"/><circle cx="794.3" cy="67.8" r="6.7"/><circle cx="794.6" cy="68.8" r="6.7"/><circle cx="794.8" cy="69.9" r="6.7"/><circle cx="795.1" cy="68.8" r="6.7"/><circle cx="795.4" cy="68.1" r="6.7"/><circle cx="795.6" cy="69.6" r="6.7"/><circle cx="795.9" cy="70.8" r="6.7"/><circle cx="796.2" cy="69.9" r="6.7"/><circle cx="796.5" cy="68.7" r="6.7"/><circle cx="796.7" cy="68.2" r="6.7"/><circle cx="797.0" cy="67.9" r="6.7"/><circle cx="797.3" cy="66.7" r="6.7"/><circle cx="797.5" cy="67.1" r="6.7"/><circle cx="797.8" cy="66.3" r="6.7"/><circle cx="798.1" cy="65.7" r="6.7"/><circle cx="798.3" cy="67.1" r="6.7"/><circle cx="798.6" cy="66.8" r="6.7"/><circle cx="798.9" cy="67.2" r="6.7"/><circle cx="799.2" cy="68.1" r="6.7"/><circle cx="799.4" cy="69.1" r="6.7"/><circle cx="799.7" cy="68.9" r="6.7"/><circle cx="800.0" cy="69.0" r="6.7"/><circle cx="800.2" cy="68.4" r="6.7"/><circle cx="800.5" cy="70.2" r="6.7"/><circle cx="800.8" cy="70.7" r="6.7"/><circle cx="801.0" cy="69.6" r="6.7"/><circle cx="801.3" cy="69.7" r="6.7"/><circle cx="801.6" cy="70.4" r="6.7"/><circle cx="801.9" cy="70.8" r="6.7"/><circle cx="802.1" cy="72.3" r="6.7"/><circle cx="802.4" cy="73.2" r="6.7"/><circle cx="802.7" cy="72.3" r="6.7"/><circle cx="802.9" cy="71.9" r="6.7"/><circle cx="803.2" cy="70.6" r="6.7"/><circle cx="803.5" cy="70.8" r="6.7"/><circle cx="803.7" cy="70.9" r="6.7"/><circle cx="804.0" cy="73.2" r="6.7"/><circle cx="804.3" cy="72.9" r="6.7"/><circle cx="804.6" cy="70.7" r="6.7"/><circle cx="804.8" cy="70.1" r="6.7"/><circle cx="805.1" cy="70.3" r="6.7"/><circle cx="805.4" cy="69.2" r="6.7"/><circle cx="805.6" cy="68.7" r="6.7"/><circle cx="805.9" cy="68.7" r="6.7"/><circle cx="806.2" cy="69.4" r="6.7"/><circle cx="806.4" cy="69.5" r="6.7"/><circle cx="806.7" cy="68.9" r="6.7"/><circle cx="807.0" cy="69.9" r="6.7"/><circle cx="807.3" cy="69.6" r="6.7"/><circle cx="807.5" cy="69.4" r="6.7"/><circle cx="807.8" cy="68.5" r="6.7"/><circle cx="808.1" cy="68.2" r="6.7"/><circle cx="808.3" cy="69.3" r="6.7"/><circle cx="808.6" cy="68.1" r="6.7"/><circle cx="808.9" cy="68.6" r="6.7"/><circle cx="809.1" cy="69.7" r="6.7"/><circle cx="809.4" cy="69.6" r="6.7"/><circle cx="809.7" cy="70.1" r="6.7"/><circle cx="810.0" cy="69.4" r="6.7"/><circle cx="810.2" cy="70.9" r="6.7"/><circle cx="810.5" cy="72.0" r="6.7"/><circle cx="810.8" cy="72.2" r="6.7"/><circle cx="811.0" cy="70.6" r="6.7"/><circle cx="811.3" cy="69.9" r="6.7"/><circle cx="811.6" cy="71.1" r="6.7"/><circle cx="811.8" cy="72.7" r="6.7"/><circle cx="812.1" cy="72.9" r="6.7"/><circle cx="812.4" cy="73.9" r="6.7"/><circle cx="812.7" cy="73.1" r="6.7"/><circle cx="812.9" cy="72.8" r="6.7"/><circle cx="813.2" cy="72.8" r="6.7"/><circle cx="813.5" cy="73.1" r="6.7"/><circle cx="813.7" cy="71.6" r="6.7"/><circle cx="814.0" cy="72.6" r="6.7"/><circle cx="814.3" cy="73.8" r="6.7"/><circle cx="814.5" cy="72.6" r="6.7"/><circle cx="814.8" cy="71.4" r="6.7"/><circle cx="815.1" cy="71.9" r="6.7"/><circle cx="815.4" cy="71.4" r="6.7"/><circle cx="815.6" cy="69.5" r="6.7"/><circle cx="815.9" cy="70.8" r="6.7"/><circle cx="816.2" cy="71.2" r="6.7"/><circle cx="816.4" cy="71.1" r="6.7"/><circle cx="816.7" cy="73.3" r="6.7"/><circle cx="817.0" cy="73.4" r="6.7"/><circle cx="817.2" cy="72.7" r="6.7"/><circle cx="817.5" cy="72.8" r="6.7"/><circle cx="817.8" cy="72.0" r="6.7"/><circle cx="818.1" cy="71.5" r="6.7"/><circle cx="818.3" cy="72.1" r="6.7"/><circle cx="818.6" cy="71.8" r="6.7"/><circle cx="818.9" cy="71.7" r="6.7"/><circle cx="819.1" cy="73.5" r="6.7"/><circle cx="819.4" cy="74.3" r="6.7"/><circle cx="819.7" cy="74.9" r="6.7"/><circle cx="819.9" cy="75.2" r="6.7"/><circle cx="820.2" cy="75.4" r="6.7"/><circle cx="820.5" cy="76.5" r="6.7"/><circle cx="820.8" cy="76.1" r="6.7"/><circle cx="821.0" cy="77.4" r="6.7"/><circle cx="821.3" cy="76.1" r="6.7"/><circle cx="821.6" cy="75.5" r="6.7"/><circle cx="821.8" cy="74.1" r="6.7"/><circle cx="822.1" cy="73.8" r="6.7"/><circle cx="822.4" cy="74.3" r="6.7"/><circle cx="822.6" cy="75.6" r="6.7"/><circle cx="822.9" cy="74.9" r="6.7"/><circle cx="823.2" cy="74.8" r="6.7"/><circle cx="823.5" cy="74.4" r="6.7"/><circle cx="823.7" cy="73.8" r="6.7"/><circle cx="824.0" cy="72.9" r="6.7"/><circle cx="824.3" cy="73.2" r="6.7"/><circle cx="824.5" cy="71.9" r="6.7"/><circle cx="824.8" cy="72.4" r="6.7"/><circle cx="825.1" cy="72.8" r="6.7"/><circle cx="825.3" cy="72.5" r="6.7"/><circle cx="825.6" cy="72.0" r="6.7"/><circle cx="825.9" cy="71.2" r="6.7"/><circle cx="826.2" cy="73.5" r="6.7"/><circle cx="826.4" cy="72.5" r="6.7"/><circle cx="826.7" cy="74.3" r="6.7"/><circle cx="827.0" cy="75.0" r="6.7"/><circle cx="827.2" cy="74.7" r="6.7"/><circle cx="827.5" cy="73.8" r="6.7"/><circle cx="827.8" cy="75.0" r="6.7"/><circle cx="828.0" cy="76.6" r="6.7"/><circle cx="828.3" cy="75.6" r="6.7"/><circle cx="828.6" cy="75.3" r="6.7"/><circle cx="828.9" cy="76.3" r="6.7"/><circle cx="829.1" cy="76.5" r="6.7"/><circle cx="829.4" cy="78.2" r="6.7"/><circle cx="829.7" cy="77.3" r="6.7"/><circle cx="829.9" cy="77.6" r="6.7"/><circle cx="830.2" cy="76.3" r="6.7"/><circle cx="830.5" cy="78.1" r="6.7"/><circle cx="830.7" cy="77.1" r="6.7"/><circle cx="831.0" cy="75.0" r="6.7"/><circle cx="831.3" cy="75.1" r="6.7"/><circle cx="831.6" cy="75.1" r="6.7"/><circle cx="831.8" cy="77.0" r="6.7"/><circle cx="832.1" cy="76.6" r="6.7"/><circle cx="832.4" cy="76.6" r="6.7"/><circle cx="832.6" cy="77.1" r="6.7"/><circle cx="832.9" cy="78.4" r="6.7"/><circle cx="833.2" cy="78.1" r="6.7"/><circle cx="833.4" cy="78.8" r="6.7"/><circle cx="833.7" cy="79.0" r="6.7"/><circle cx="834.0" cy="78.4" r="6.7"/><circle cx="834.3" cy="78.2" r="6.7"/><circle cx="834.5" cy="78.0" r="6.7"/><circle cx="834.8" cy="77.1" r="6.7"/><circle cx="835.1" cy="78.1" r="6.7"/><circle cx="835.3" cy="76.7" r="6.7"/><circle cx="835.6" cy="77.8" r="6.7"/><circle cx="835.9" cy="78.6" r="6.7"/><circle cx="836.1" cy="78.3" r="6.7"/><circle cx="836.4" cy="77.5" r="6.7"/><circle cx="836.7" cy="77.3" r="6.7"/><circle cx="837.0" cy="77.7" r="6.7"/><circle cx="837.2" cy="78.3" r="6.7"/><circle cx="837.5" cy="78.5" r="6.7"/><circle cx="837.8" cy="79.2" r="6.7"/><circle cx="838.0" cy="78.5" r="6.7"/><circle cx="838.3" cy="78.6" r="6.7"/><circle cx="838.6" cy="77.1" r="6.7"/><circle cx="838.8" cy="77.9" r="6.7"/><circle cx="839.1" cy="78.0" r="6.7"/><circle cx="839.4" cy="77.6" r="6.7"/><circle cx="839.7" cy="78.7" r="6.7"/><circle cx="839.9" cy="79.2" r="6.7"/><circle cx="840.2" cy="76.6" r="6.7"/><circle cx="840.5" cy="76.8" r="6.7"/><circle cx="840.7" cy="75.7" r="6.7"/><circle cx="841.0" cy="77.1" r="6.7"/><circle cx="841.3" cy="79.5" r="6.7"/><circle cx="841.5" cy="78.9" r="6.7"/><circle cx="841.8" cy="78.9" r="6.7"/><circle cx="842.1" cy="78.6" r="6.7"/><circle cx="842.4" cy="78.9" r="6.7"/><circle cx="842.6" cy="79.5" r="6.7"/><circle cx="842.9" cy="80.5" r="6.7"/><circle cx="843.2" cy="79.4" r="6.7"/><circle cx="843.4" cy="80.7" r="6.7"/><circle cx="843.7" cy="79.6" r="6.7"/><circle cx="844.0" cy="79.7" r="6.7"/><circle cx="844.2" cy="80.7" r="6.7"/><circle cx="844.5" cy="81.1" r="6.7"/><circle cx="844.8" cy="79.9" r="6.7"/><circle cx="845.1" cy="79.2" r="6.7"/><circle cx="845.3" cy="78.8" r="6.7"/><circle cx="845.6" cy="78.8" r="6.7"/><circle cx="845.9" cy="79.9" r="6.7"/><circle cx="846.1" cy="78.7" r="6.7"/><circle cx="846.4" cy="79.2" r="6.7"/><circle cx="846.7" cy="79.8" r="6.7"/><circle cx="846.9" cy="80.3" r="6.7"/><circle cx="847.2" cy="80.6" r="6.7"/><circle cx="847.5" cy="81.8" r="6.7"/><circle cx="847.8" cy="82.0" r="6.7"/><circle cx="848.0" cy="82.4" r="6.7"/><circle cx="848.3" cy="82.5" r="6.7"/><circle cx="848.6" cy="83.8" r="6.7"/><circle cx="848.8" cy="81.5" r="6.7"/><circle cx="849.1" cy="82.4" r="6.7"/><circle cx="849.4" cy="81.9" r="6.7"/><circle cx="849.6" cy="81.4" r="6.7"/><circle cx="849.9" cy="80.3" r="6.7"/><circle cx="850.2" cy="78.7" r="6.7"/><circle cx="850.5" cy="78.6" r="6.7"/><circle cx="850.7" cy="78.2" r="6.7"/><circle cx="851.0" cy="79.0" r="6.7"/><circle cx="851.3" cy="77.9" r="6.7"/><circle cx="851.5" cy="79.6" r="6.7"/><circle cx="851.8" cy="80.0" r="6.7"/><circle cx="852.1" cy="79.9" r="6.7"/><circle cx="852.3" cy="79.4" r="6.7"/><circle cx="852.6" cy="78.9" r="6.7"/><circle cx="852.9" cy="78.2" r="6.7"/><circle cx="853.2" cy="78.1" r="6.7"/><circle cx="853.4" cy="78.6" r="6.7"/><circle cx="853.7" cy="78.8" r="6.7"/><circle cx="854.0" cy="77.9" r="6.7"/><circle cx="854.2" cy="78.1" r="6.7"/><circle cx="854.5" cy="77.8" r="6.7"/><circle cx="854.8" cy="78.5" r="6.7"/><circle cx="855.0" cy="80.6" r="6.7"/><circle cx="855.3" cy="81.3" r="6.7"/><circle cx="855.6" cy="81.0" r="6.7"/><circle cx="855.9" cy="79.7" r="6.7"/><circle cx="856.1" cy="78.7" r="6.7"/><circle cx="856.4" cy="77.6" r="6.7"/><circle cx="856.7" cy="78.9" r="6.7"/><circle cx="856.9" cy="78.6" r="6.7"/><circle cx="857.2" cy="79.2" r="6.7"/><circle cx="857.5" cy="79.0" r="6.7"/><circle cx="857.7" cy="79.6" r="6.7"/><circle cx="858.0" cy="81.2" r="6.7"/><circle cx="858.3" cy="80.7" r="6.7"/><circle cx="858.6" cy="80.6" r="6.7"/><circle cx="858.8" cy="80.1" r="6.7"/><circle cx="859.1" cy="81.2" r="6.7"/><circle cx="859.4" cy="80.5" r="6.7"/><circle cx="859.6" cy="79.8" r="6.7"/><circle cx="859.9" cy="78.9" r="6.7"/><circle cx="860.2" cy="78.2" r="6.7"/><circle cx="860.4" cy="79.3" r="6.7"/><circle cx="860.7" cy="82.1" r="6.7"/><circle cx="861.0" cy="81.3" r="6.7"/><circle cx="861.3" cy="82.3" r="6.7"/><circle cx="861.5" cy="82.6" r="6.7"/><circle cx="861.8" cy="81.7" r="6.7"/><circle cx="862.1" cy="81.6" r="6.7"/><circle cx="862.3" cy="81.6" r="6.7"/><circle cx="862.6" cy="81.2" r="6.7"/><circle cx="862.9" cy="83.2" r="6.7"/><circle cx="863.1" cy="81.5" r="6.7"/><circle cx="863.4" cy="82.1" r="6.7"/><circle cx="863.7" cy="82.6" r="6.7"/><circle cx="864.0" cy="82.2" r="6.7"/><circle cx="864.2" cy="82.5" r="6.7"/><circle cx="864.5" cy="83.4" r="6.7"/><circle cx="864.8" cy="83.6" r="6.7"/><circle cx="865.0" cy="83.9" r="6.7"/><circle cx="865.3" cy="84.5" r="6.7"/><circle cx="865.6" cy="82.6" r="6.7"/><circle cx="865.8" cy="84.1" r="6.7"/><circle cx="866.1" cy="86.1" r="6.7"/><circle cx="866.4" cy="86.6" r="6.7"/><circle cx="866.7" cy="87.1" r="6.7"/><circle cx="866.9" cy="85.4" r="6.7"/><circle cx="867.2" cy="85.1" r="6.7"/><circle cx="867.5" cy="84.2" r="6.7"/><circle cx="867.7" cy="83.7" r="6.7"/><circle cx="868.0" cy="84.6" r="6.7"/><circle cx="868.3" cy="83.9" r="6.7"/><circle cx="868.5" cy="83.8" r="6.7"/><circle cx="868.8" cy="82.2" r="6.7"/><circle cx="869.1" cy="82.4" r="6.7"/><circle cx="869.4" cy="82.8" r="6.7"/><circle cx="869.6" cy="82.4" r="6.7"/><circle cx="869.9" cy="82.1" r="6.7"/><circle cx="870.2" cy="84.2" r="6.7"/><circle cx="870.4" cy="83.2" r="6.7"/><circle cx="870.7" cy="82.5" r="6.7"/><circle cx="871.0" cy="82.2" r="6.7"/><circle cx="871.2" cy="83.6" r="6.7"/><circle cx="871.5" cy="85.7" r="6.7"/><circle cx="871.8" cy="85.9" r="6.7"/><circle cx="872.1" cy="85.2" r="6.7"/><circle cx="872.3" cy="84.8" r="6.7"/><circle cx="872.6" cy="85.8" r="6.7"/><circle cx="872.9" cy="84.9" r="6.7"/><circle cx="873.1" cy="86.3" r="6.7"/><circle cx="873.4" cy="87.5" r="6.7"/><circle cx="873.7" cy="87.2" r="6.7"/><circle cx="873.9" cy="87.6" r="6.7"/><circle cx="874.2" cy="88.0" r="6.7"/><circle cx="874.5" cy="89.0" r="6.7"/><circle cx="874.8" cy="87.6" r="6.7"/><circle cx="875.0" cy="88.4" r="6.7"/><circle cx="875.3" cy="87.7" r="6.7"/><circle cx="875.6" cy="86.7" r="6.7"/><circle cx="875.8" cy="86.7" r="6.7"/><circle cx="876.1" cy="86.5" r="6.7"/><circle cx="876.4" cy="85.5" r="6.7"/><circle cx="876.6" cy="84.2" r="6.7"/><circle cx="876.9" cy="83.7" r="6.7"/><circle cx="877.2" cy="85.4" r="6.7"/><circle cx="877.5" cy="87.3" r="6.7"/><circle cx="877.7" cy="87.8" r="6.7"/><circle cx="878.0" cy="88.7" r="6.7"/><circle cx="878.3" cy="87.9" r="6.7"/><circle cx="878.5" cy="87.7" r="6.7"/><circle cx="878.8" cy="87.8" r="6.7"/><circle cx="879.1" cy="86.7" r="6.7"/><circle cx="879.3" cy="85.8" r="6.7"/><circle cx="879.6" cy="86.1" r="6.7"/><circle cx="879.9" cy="86.0" r="6.7"/><circle cx="880.2" cy="85.2" r="6.7"/><circle cx="880.4" cy="85.8" r="6.7"/><circle cx="880.7" cy="85.8" r="6.7"/><circle cx="881.0" cy="87.0" r="6.7"/><circle cx="881.2" cy="87.0" r="6.7"/><circle cx="881.5" cy="86.8" r="6.7"/><circle cx="881.8" cy="87.0" r="6.7"/><circle cx="882.0" cy="87.0" r="6.7"/><circle cx="882.3" cy="86.5" r="6.7"/><circle cx="882.6" cy="86.3" r="6.7"/><circle cx="882.9" cy="87.2" r="6.7"/><circle cx="883.1" cy="87.9" r="6.7"/><circle cx="883.4" cy="89.0" r="6.7"/><circle cx="883.7" cy="87.4" r="6.7"/><circle cx="883.9" cy="87.1" r="6.7"/><circle cx="884.2" cy="86.9" r="6.7"/><circle cx="884.5" cy="87.3" r="6.7"/><circle cx="884.7" cy="87.0" r="6.7"/><circle cx="885.0" cy="86.7" r="6.7"/><circle cx="885.3" cy="87.7" r="6.7"/><circle cx="885.6" cy="88.0" r="6.7"/><circle cx="885.8" cy="87.0" r="6.7"/><circle cx="886.1" cy="88.4" r="6.7"/><circle cx="886.4" cy="89.4" r="6.7"/><circle cx="886.6" cy="88.8" r="6.7"/><circle cx="886.9" cy="89.5" r="6.7"/><circle cx="887.2" cy="88.8" r="6.7"/><circle cx="887.4" cy="89.8" r="6.7"/><circle cx="887.7" cy="89.5" r="6.7"/><circle cx="888.0" cy="88.7" r="6.7"/><circle cx="888.3" cy="88.4" r="6.7"/><circle cx="888.5" cy="87.9" r="6.7"/><circle cx="888.8" cy="88.2" r="6.7"/><circle cx="889.1" cy="88.6" r="6.7"/><circle cx="889.3" cy="88.7" r="6.7"/><circle cx="889.6" cy="88.3" r="6.7"/><circle cx="889.9" cy="85.2" r="6.7"/><circle cx="890.1" cy="86.0" r="6.7"/><circle cx="890.4" cy="84.8" r="6.7"/><circle cx="890.7" cy="85.8" r="6.7"/><circle cx="891.0" cy="87.4" r="6.7"/><circle cx="891.2" cy="88.0" r="6.7"/><circle cx="891.5" cy="87.9" r="6.7"/><circle cx="891.8" cy="88.1" r="6.7"/><circle cx="892.0" cy="88.3" r="6.7"/><circle cx="892.3" cy="88.0" r="6.7"/><circle cx="892.6" cy="87.8" r="6.7"/><circle cx="892.8" cy="87.4" r="6.7"/><circle cx="893.1" cy="88.9" r="6.7"/><circle cx="893.4" cy="89.1" r="6.7"/><circle cx="893.7" cy="90.1" r="6.7"/><circle cx="893.9" cy="90.0" r="6.7"/><circle cx="894.2" cy="90.1" r="6.7"/><circle cx="894.5" cy="90.0" r="6.7"/><circle cx="894.7" cy="90.6" r="6.7"/><circle cx="895.0" cy="91.3" r="6.7"/><circle cx="895.3" cy="91.5" r="6.7"/><circle cx="895.5" cy="90.8" r="6.7"/><circle cx="895.8" cy="90.1" r="6.7"/><circle cx="896.1" cy="91.7" r="6.7"/><circle cx="896.4" cy="91.4" r="6.7"/><circle cx="896.6" cy="91.1" r="6.7"/><circle cx="896.9" cy="92.4" r="6.7"/><circle cx="897.2" cy="93.2" r="6.7"/><circle cx="897.4" cy="93.4" r="6.7"/><circle cx="897.7" cy="92.8" r="6.7"/><circle cx="898.0" cy="94.7" r="6.7"/><circle cx="898.2" cy="94.6" r="6.7"/><circle cx="897.5" cy="92.5" r="6.7"/></g>
<path d="M132.3 217.8L132.8 217.8L133.3 217.8L133.8 217.8L134.3 217.8L134.8 217.8L135.3 217.7L135.8 217.7L136.3 217.7L136.8 217.7L137.3 217.7L137.8 217.7L138.3 217.7L138.8 217.7L139.3 217.7L139.8 217.7L140.3 217.6L140.8 217.6L141.3 217.6L141.8 217.6L142.3 217.6L142.8 217.6L143.3 217.6L143.8 217.5L144.3 217.5L144.8 217.5L145.3 217.5L145.8 217.5L146.3 217.5L146.8 217.5L147.3 217.4L147.8 217.4L148.3 217.4L148.8 217.4L149.3 217.4L149.8 217.4L150.3 217.3L150.8 217.3L151.3 217.3L151.8 217.3L152.3 217.3L152.8 217.3L153.3 217.2L153.8 217.2L154.3 217.2L154.8 217.2L155.3 217.2L155.8 217.2L156.3 217.1L156.8 217.1L157.3 217.1L157.8 217.1L158.3 217.1L158.8 217.0L159.3 217.0L159.8 217.0L160.3 217.0L160.8 217.0L161.3 217.0L161.8 216.9L162.3 216.9L162.8 216.9L163.3 216.9L163.8 216.9L164.3 216.8L164.8 216.8L165.3 216.8L165.8 216.8L166.3 216.7L166.8 216.7L167.3 216.7L167.8 216.7L168.3 216.7L168.8 216.6L169.3 216.6L169.8 216.6L170.3 216.6L170.8 216.5L171.3 216.5L171.8 216.5L172.3 216.5L172.8 216.4L173.3 216.4L173.8 216.4L174.3 216.4L174.8 216.3L175.3 216.3L175.8 216.3L176.3 216.3L176.8 216.2L177.3 216.2L177.8 216.2L178.3 216.1L178.8 216.1L179.3 216.1L179.8 216.0L180.3 216.0L180.8 216.0L181.3 215.9L181.8 215.9L182.3 215.9L182.8 215.8L183.3 215.8L183.8 215.7L184.3 215.7L184.8 215.7L185.3 215.6L185.8 215.6L186.3 215.5L186.8 215.5L187.3 215.4L187.8 215.4L188.3 215.3L188.8 215.3L189.3 215.2L189.8 215.2L190.3 215.1L190.8 215.0L191.3 215.0L191.8 214.9L192.3 214.8L192.8 214.7L193.3 214.7L193.8 214.6L194.3 214.5L194.8 214.4L195.3 214.3L195.8 214.2L196.3 214.1L196.8 214.0L197.3 213.9L197.8 213.8L198.3 213.7L198.8 213.6L199.3 213.5L199.8 213.3L200.3 213.2L200.8 213.1L201.3 212.9L201.8 212.7L202.3 212.6L202.8 212.4L203.3 212.2L203.8 212.0L204.3 211.8L204.8 211.5L205.3 211.2L205.8 210.9L206.3 210.6L206.8 210.2L207.3 209.9L207.8 209.5L208.3 209.1L208.8 208.7L209.3 208.2L209.8 207.8L210.3 207.3L210.8 206.8L211.3 206.3L211.8 205.7L212.3 205.1L212.8 204.5L213.3 203.8L213.8 203.1L214.3 202.4L214.8 201.5L215.3 200.6L215.8 199.6L216.3 198.6L216.8 197.4L217.3 196.2L217.8 195.0L218.3 193.8L218.8 192.5L219.3 191.2L219.8 190.0L220.3 188.7L220.8 187.3L221.3 185.9L221.8 184.5L222.3 183.4L222.8 182.5L223.3 181.7L223.8 181.2L224.3 181.3L224.8 182.4L225.3 183.9L225.8 185.6L226.3 188.1L226.8 190.8L227.3 193.2L227.8 194.5L228.3 195.0L228.8 195.4L229.3 195.7L229.8 195.9L230.3 196.1L230.8 196.1L231.3 196.2L231.8 196.2L232.3 196.2L232.8 196.3L233.3 196.4L233.8 196.8L234.3 197.6L234.8 198.6L235.3 199.8L235.8 201.1L236.3 202.2L236.8 203.5L237.3 204.9L237.8 206.3L238.3 207.6L238.8 208.7L239.3 209.6L239.8 210.4L240.3 211.2L240.8 211.9L241.3 212.6L241.8 213.2L242.3 213.8L242.8 214.4L243.3 214.8L243.8 215.2L244.3 215.5L244.8 215.8L245.3 216.1L245.8 216.3L246.3 216.5L246.8 216.8L247.3 217.0L247.8 217.1L248.3 217.3L248.8 217.4L249.3 217.5L249.8 217.5L250.3 217.5L250.8 217.5L251.3 217.4L251.8 217.3L252.3 217.2L252.8 217.1L253.3 216.9L253.8 216.8L254.3 216.6L254.8 216.4L255.3 216.2L255.8 216.1L256.3 215.9L256.8 215.7L257.3 215.5L257.8 215.3L258.3 215.0L258.8 214.8L259.3 214.5L259.8 214.2L260.3 214.0L260.8 213.7L261.3 213.4L261.8 213.1L262.3 212.8L262.8 212.5L263.3 212.2L263.8 211.9L264.3 211.6L264.8 211.3L265.3 211.0L265.8 210.7L266.3 210.4L266.8 210.1L267.3 209.8L267.8 209.5L268.3 209.1L268.8 208.8L269.3 208.5L269.8 208.2L270.3 207.8L270.8 207.5L271.3 207.1L271.8 206.8L272.3 206.4L272.8 206.1L273.3 205.7L273.8 205.4L274.3 205.0L274.8 204.6L275.3 204.3L275.8 203.9L276.3 203.5L276.8 203.1L277.3 202.8L277.8 202.4L278.3 202.0L278.8 201.6L279.3 201.2L279.8 200.7L280.3 200.3L280.8 199.9L281.3 199.5L281.8 199.0L282.3 198.6L282.8 198.2L283.3 197.7L283.8 197.3L284.3 196.8L284.8 196.3L285.3 195.9L285.8 195.4L286.3 194.9L286.8 194.4L287.3 193.9L287.8 193.4L288.3 192.9L288.8 192.4L289.3 191.9L289.8 191.3L290.3 190.8L290.8 190.2L291.3 189.7L291.8 189.1L292.3 188.6L292.8 188.0L293.3 187.4L293.8 186.9L294.3 186.3L294.8 185.7L295.3 185.2L295.8 184.6L296.3 184.0L296.8 183.5L297.3 182.9L297.8 182.3L298.3 181.7L298.8 181.1L299.3 180.6L299.8 180.0L300.3 179.4L300.8 178.8L301.3 178.1L301.8 177.5L302.3 176.9L302.8 176.3L303.3 175.6L303.8 174.9L304.3 174.3L304.8 173.6L305.3 172.9L305.8 172.2L306.3 171.5L306.8 170.8L307.3 170.0L307.8 169.3L308.3 168.5L308.8 167.8L309.3 167.0L309.8 166.3L310.3 165.5L310.8 164.7L311.3 163.9L311.8 163.1L312.3 162.4L312.8 161.6L313.3 160.8L313.8 159.9L314.3 159.1L314.8 158.2L315.3 157.3L315.8 156.4L316.3 155.4L316.8 154.5L317.3 153.5L317.8 152.4L318.3 151.3L318.8 150.0L319.3 148.6L319.8 146.9L320.3 144.5L320.8 141.9L321.3 139.4L321.8 137.1L322.3 134.7L322.8 133.3L323.3 134.2L323.8 137.2L324.3 140.7L324.8 145.4L325.3 150.5L325.8 154.4L326.3 157.6L326.8 160.0L327.3 161.1L327.8 161.8L328.3 162.3L328.8 162.4L329.3 162.2L329.8 161.9L330.3 161.6L330.8 161.2L331.3 160.7L331.8 160.1L332.3 159.4L332.8 158.6L333.3 157.7L333.8 156.7L334.3 155.7L334.8 154.7L335.3 153.8L335.8 152.9L336.3 152.0L336.8 151.1L337.3 150.2L337.8 149.3L338.3 148.5L338.8 147.6L339.3 146.7L339.8 145.8L340.3 144.9L340.8 144.0L341.3 143.1L341.8 142.2L342.3 141.4L342.8 140.5L343.3 139.6L343.8 138.8L344.3 138.0L344.8 137.1L345.3 136.3L345.8 135.5L346.3 134.7L346.8 133.9L347.3 133.2L347.8 132.4L348.3 131.6L348.8 130.8L349.3 130.1L349.8 129.3L350.3 128.6L350.8 127.8L351.3 127.0L351.8 126.3L352.3 125.5L352.8 124.8L353.3 124.0L353.8 123.3L354.3 122.5L354.8 121.8L355.3 121.1L355.8 120.3L356.3 119.6L356.8 118.8L357.3 118.1L357.8 117.3L358.3 116.6L358.8 115.8L359.3 115.1L359.8 114.3L360.3 113.6L360.8 112.9L361.3 112.1L361.8 111.4L362.3 110.7L362.8 109.9L363.3 109.2L363.8 108.5L364.3 107.8L364.8 107.1L365.3 106.4L365.8 105.7L366.3 105.0L366.8 104.3L367.3 103.6L367.8 102.9L368.3 102.2L368.8 101.5L369.3 100.8L369.8 100.1L370.3 99.4L370.8 98.7L371.3 98.1L371.8 97.4L372.3 96.7L372.8 96.1L373.3 95.4L373.8 94.8L374.3 94.1L374.8 93.5L375.3 92.9L375.8 92.2L376.3 91.6L376.8 91.0L377.3 90.4L377.8 89.8L378.3 89.1L378.8 88.5L379.3 87.9L379.8 87.3L380.3 86.7L380.8 86.1L381.3 85.5L381.8 84.9L382.3 84.4L382.8 83.9L383.3 83.5L383.8 83.1L384.3 82.7L384.8 82.3L385.3 81.9L385.8 81.6L386.3 81.2L386.8 80.9L387.3 80.7L387.8 80.6L388.3 80.7L388.8 80.9L389.3 81.4L389.8 82.0L390.3 83.4L390.8 85.6L391.3 87.4L391.8 87.6L392.3 85.6L392.8 82.9L393.3 80.8L393.8 78.7L394.3 76.8L394.8 75.6L395.3 74.9L395.8 74.3L396.3 73.7L396.8 73.2L397.3 72.8L397.8 72.5L398.3 72.3L398.8 72.2L399.3 72.2L399.8 72.3L400.3 72.5L400.8 72.6L401.3 72.9L401.8 73.1L402.3 73.4L402.8 73.8L403.3 74.3L403.8 74.9L404.3 75.5L404.8 76.1L405.3 76.8L405.8 77.6L406.3 78.4L406.8 79.3L407.3 80.2L407.8 81.1L408.3 82.1L408.8 83.1L409.3 84.1L409.8 85.2L410.3 86.3L410.8 87.4L411.3 88.4L411.8 89.5L412.3 90.7L412.8 91.8L413.3 92.8L413.8 93.7L414.3 94.5L414.8 95.3L415.3 96.0L415.8 96.6L416.3 96.7L416.8 96.4L417.3 95.9L417.8 95.3L418.3 94.4L418.8 92.8L419.3 91.2L419.8 90.1L420.3 90.2L420.8 91.4L421.3 93.1L421.8 95.4L422.3 98.7L422.8 101.6L423.3 104.4L423.8 107.1L424.3 109.7L424.8 112.3L425.3 115.0L425.8 117.6L426.3 120.2L426.8 122.8L427.3 125.3L427.8 127.9L428.3 130.4L428.8 132.8L429.3 135.2L429.8 137.6L430.3 140.0L430.8 142.3L431.3 144.6L431.8 146.7L432.3 148.7L432.8 150.6L433.3 152.6L433.8 154.4L434.3 156.1L434.8 157.8L435.3 159.2L435.8 160.5L436.3 161.7L436.8 162.8L437.3 163.8L437.8 164.8L438.3 165.8L438.8 166.6L439.3 167.4L439.8 168.2L440.3 168.9L440.8 169.6L441.3 170.3L441.8 170.9L442.3 171.5L442.8 172.0L443.3 172.5L443.8 173.0L444.3 173.5L444.8 174.0L445.3 174.4L445.8 174.8L446.3 175.3L446.8 175.7L447.3 176.1L447.8 176.4L448.3 176.7L448.8 177.0L449.3 177.3L449.8 177.5L450.3 177.7L450.8 177.9L451.3 178.1L451.8 178.2L452.3 178.4L452.8 178.5L453.3 178.6L453.8 178.7L454.3 178.8L454.8 178.8L455.3 178.8L455.8 178.7L456.3 178.6L456.8 178.5L457.3 178.3L457.8 178.1L458.3 177.9L458.8 177.7L459.3 177.4L459.8 177.2L460.3 176.9L460.8 176.7L461.3 176.5L461.8 176.2L462.3 175.9L462.8 175.6L463.3 175.3L463.8 175.0L464.3 174.6L464.8 174.3L465.3 173.9L465.8 173.5L466.3 173.1L466.8 172.7L467.3 172.3L467.8 171.9L468.3 171.5L468.8 171.1L469.3 170.7L469.8 170.2L470.3 169.8L470.8 169.3L471.3 168.8L471.8 168.3L472.3 167.8L472.8 167.3L473.3 166.7L473.8 166.2L474.3 165.7L474.8 165.1L475.3 164.6L475.8 164.0L476.3 163.5L476.8 162.9L477.3 162.4L477.8 161.8L478.3 161.3L478.8 160.7L479.3 160.2L479.8 159.7L480.3 159.2L480.8 158.7L481.3 158.2L481.8 157.7L482.3 157.2L482.8 156.7L483.3 156.2L483.8 155.7L484.3 155.1L484.8 154.6L485.3 154.1L485.8 153.6L486.3 153.1L486.8 152.6L487.3 152.1L487.8 151.6L488.3 151.1L488.8 150.6L489.3 150.2L489.8 149.7L490.3 149.2L490.8 148.7L491.3 148.2L491.8 147.7L492.3 147.2L492.8 146.7L493.3 146.2L493.8 145.7L494.3 145.2L494.8 144.7L495.3 144.2L495.8 143.8L496.3 143.3L496.8 142.8L497.3 142.3L497.8 141.8L498.3 141.3L498.8 140.8L499.3 140.3L499.8 139.9L500.3 139.4L500.8 138.9L501.3 138.4L501.8 137.9L502.3 137.5L502.8 137.0L503.3 136.5L503.8 136.0L504.3 135.6L504.8 135.1L505.3 134.6L505.8 134.1L506.3 133.7L506.8 133.2L507.3 132.7L507.8 132.3L508.3 131.8L508.8 131.3L509.3 130.9L509.8 130.4L510.3 129.9L510.8 129.5L511.3 129.0L511.8 128.6L512.3 128.1L512.8 127.6L513.3 127.2L513.8 126.7L514.3 126.3L514.8 125.8L515.3 125.4L515.8 124.9L516.3 124.5L516.8 124.0L517.3 123.6L517.8 123.2L518.3 122.7L518.8 122.3L519.3 121.9L519.8 121.5L520.3 121.1L520.8 120.6L521.3 120.2L521.8 119.8L522.3 119.4L522.8 119.0L523.3 118.6L523.8 118.2L524.3 117.8L524.8 117.4L525.3 117.0L525.8 116.6L526.3 116.2L526.8 115.8L527.3 115.5L527.8 115.1L528.3 114.7L528.8 114.3L529.3 114.0L529.8 113.6L530.3 113.2L530.8 112.9L531.3 112.5L531.8 112.1L532.3 111.8L532.8 111.4L533.3 111.1L533.8 110.8L534.3 110.4L534.8 110.1L535.3 109.7L535.8 109.4L536.3 109.1L536.8 108.8L537.3 108.5L537.8 108.1L538.3 107.8L538.8 107.5L539.3 107.2L539.8 106.9L540.3 106.6L540.8 106.3L541.3 106.0L541.8 105.7L542.3 105.4L542.8 105.1L543.3 104.8L543.8 104.5L544.3 104.2L544.8 103.9L545.3 103.6L545.8 103.2L546.3 102.9L546.8 102.6L547.3 102.3L547.8 102.0L548.3 101.7L548.8 101.4L549.3 101.1L549.8 100.8L550.3 100.5L550.8 100.2L551.3 99.9L551.8 99.6L552.3 99.3L552.8 99.0L553.3 98.7L553.8 98.4L554.3 98.1L554.8 97.8L555.3 97.5L555.8 97.2L556.3 96.9L556.8 96.6L557.3 96.3L557.8 96.0L558.3 95.7L558.8 95.5L559.3 95.2L559.8 94.9L560.3 94.6L560.8 94.4L561.3 94.1L561.8 93.8L562.3 93.6L562.8 93.3L563.3 93.0L563.8 92.8L564.3 92.5L564.8 92.2L565.3 92.0L565.8 91.7L566.3 91.5L566.8 91.2L567.3 91.0L567.8 90.7L568.3 90.5L568.8 90.2L569.3 90.0L569.8 89.7L570.3 89.5L570.8 89.2L571.3 89.0L571.8 88.7L572.3 88.5L572.8 88.2L573.3 88.0L573.8 87.8L574.3 87.5L574.8 87.3L575.3 87.0L575.8 86.8L576.3 86.6L576.8 86.3L577.3 86.1L577.8 85.8L578.3 85.6L578.8 85.4L579.3 85.1L579.8 84.9L580.3 84.7L580.8 84.4L581.3 84.2L581.8 84.0L582.3 83.8L582.8 83.5L583.3 83.3L583.8 83.1L584.3 82.9L584.8 82.7L585.3 82.5L585.8 82.3L586.3 82.1L586.8 81.9L587.3 81.7L587.8 81.5L588.3 81.3L588.8 81.1L589.3 80.9L589.8 80.8L590.3 80.6L590.8 80.4L591.3 80.2L591.8 80.0L592.3 79.9L592.8 79.7L593.3 79.5L593.8 79.4L594.3 79.2L594.8 79.0L595.3 78.8L595.8 78.7L596.3 78.5L596.8 78.4L597.3 78.2L597.8 78.0L598.3 77.9L598.8 77.7L599.3 77.5L599.8 77.4L600.3 77.2L600.8 77.0L601.3 76.9L601.8 76.7L602.3 76.6L602.8 76.4L603.3 76.2L603.8 76.1L604.3 75.9L604.8 75.7L605.3 75.6L605.8 75.4L606.3 75.3L606.8 75.1L607.3 75.0L607.8 74.8L608.3 74.7L608.8 74.5L609.3 74.4L609.8 74.2L610.3 74.1L610.8 73.9L611.3 73.8L611.8 73.6L612.3 73.5L612.8 73.4L613.3 73.2L613.8 73.1L614.3 72.9L614.8 72.8L615.3 72.7L615.8 72.5L616.3 72.4L616.8 72.3L617.3 72.2L617.8 72.0L618.3 71.9L618.8 71.8L619.3 71.6L619.8 71.5L620.3 71.4L620.8 71.3L621.3 71.2L621.8 71.0L622.3 70.9L622.8 70.8L623.3 70.7L623.8 70.6L624.3 70.4L624.8 70.3L625.3 70.2L625.8 70.1L626.3 70.0L626.8 69.9L627.3 69.8L627.8 69.7L628.3 69.5L628.8 69.4L629.3 69.3L629.8 69.2L630.3 69.1L630.8 69.0L631.3 68.9L631.8 68.8L632.3 68.7L632.8 68.6L633.3 68.5L633.8 68.4L634.3 68.3L634.8 68.2L635.3 68.1L635.8 68.0L636.3 67.9L636.8 67.8L637.3 67.7L637.8 67.6L638.3 67.5L638.8 67.4L639.3 67.3L639.8 67.2L640.3 67.1L640.8 67.1L641.3 67.0L641.8 66.9L642.3 66.8L642.8 66.7L643.3 66.7L643.8 66.6L644.3 66.5L644.8 66.4L645.3 66.3L645.8 66.3L646.3 66.2L646.8 66.1L647.3 66.0L647.8 66.0L648.3 65.9L648.8 65.8L649.3 65.7L649.8 65.7L650.3 65.6L650.8 65.5L651.3 65.5L651.8 65.4L652.3 65.3L652.8 65.3L653.3 65.2L653.8 65.1L654.3 65.1L654.8 65.0L655.3 64.9L655.8 64.9L656.3 64.8L656.8 64.7L657.3 64.7L657.8 64.6L658.3 64.5L658.8 64.5L659.3 64.4L659.8 64.4L660.3 64.3L660.8 64.2L661.3 64.2L661.8 64.1L662.3 64.1L662.8 64.0L663.3 64.0L663.8 63.9L664.3 63.9L664.8 63.8L665.3 63.8L665.8 63.7L666.3 63.7L666.8 63.6L667.3 63.6L667.8 63.6L668.3 63.5L668.8 63.5L669.3 63.4L669.8 63.4L670.3 63.4L670.8 63.3L671.3 63.3L671.8 63.3L672.3 63.2L672.8 63.2L673.3 63.2L673.8 63.1L674.3 63.1L674.8 63.1L675.3 63.0L675.8 63.0L676.3 63.0L676.8 62.9L677.3 62.9L677.8 62.9L678.3 62.9L678.8 62.8L679.3 62.8L679.8 62.8L680.3 62.8L680.8 62.8L681.3 62.8L681.8 62.7L682.3 62.7L682.8 62.7L683.3 62.7L683.8 62.7L684.3 62.6L684.8 62.6L685.3 62.6L685.8 62.6L686.3 62.6L686.8 62.6L687.3 62.5L687.8 62.5L688.3 62.5L688.8 62.5L689.3 62.5L689.8 62.5L690.3 62.5L690.8 62.4L691.3 62.4L691.8 62.4L692.3 62.4L692.8 62.4L693.3 62.4L693.8 62.4L694.3 62.4L694.8 62.4L695.3 62.4L695.8 62.4L696.3 62.4L696.8 62.4L697.3 62.4L697.8 62.4L698.3 62.4L698.8 62.4L699.3 62.4L699.8 62.4L700.3 62.4L700.8 62.4L701.3 62.4L701.8 62.4L702.3 62.4L702.8 62.4L703.3 62.4L703.8 62.5L704.3 62.5L704.8 62.5L705.3 62.5L705.8 62.5L706.3 62.5L706.8 62.5L707.3 62.5L707.8 62.5L708.3 62.5L708.8 62.5L709.3 62.5L709.8 62.5L710.3 62.5L710.8 62.5L711.3 62.6L711.8 62.6L712.3 62.6L712.8 62.6L713.3 62.6L713.8 62.6L714.3 62.6L714.8 62.7L715.3 62.7L715.8 62.7L716.3 62.7L716.8 62.7L717.3 62.7L717.8 62.8L718.3 62.8L718.8 62.8L719.3 62.8L719.8 62.8L720.3 62.9L720.8 62.9L721.3 62.9L721.8 62.9L722.3 62.9L722.8 63.0L723.3 63.0L723.8 63.0L724.3 63.0L724.8 63.1L725.3 63.1L725.8 63.1L726.3 63.1L726.8 63.2L727.3 63.2L727.8 63.2L728.3 63.3L728.8 63.3L729.3 63.3L729.8 63.4L730.3 63.4L730.8 63.4L731.3 63.5L731.8 63.5L732.3 63.5L732.8 63.6L733.3 63.6L733.8 63.7L734.3 63.7L734.8 63.7L735.3 63.8L735.8 63.8L736.3 63.8L736.8 63.9L737.3 63.9L737.8 64.0L738.3 64.0L738.8 64.0L739.3 64.1L739.8 64.1L740.3 64.2L740.8 64.2L741.3 64.3L741.8 64.3L742.3 64.4L742.8 64.4L743.3 64.4L743.8 64.5L744.3 64.5L744.8 64.6L745.3 64.6L745.8 64.7L746.3 64.7L746.8 64.8L747.3 64.8L747.8 64.9L748.3 65.0L748.8 65.0L749.3 65.1L749.8 65.1L750.3 65.2L750.8 65.2L751.3 65.3L751.8 65.3L752.3 65.4L752.8 65.4L753.3 65.5L753.8 65.6L754.3 65.6L754.8 65.7L755.3 65.7L755.8 65.8L756.3 65.8L756.8 65.9L757.3 66.0L757.8 66.0L758.3 66.1L758.8 66.2L759.3 66.2L759.8 66.3L760.3 66.3L760.8 66.4L761.3 66.5L761.8 66.5L762.3 66.6L762.8 66.7L763.3 66.7L763.8 66.8L764.3 66.9L764.8 66.9L765.3 67.0L765.8 67.1L766.3 67.2L766.8 67.2L767.3 67.3L767.8 67.4L768.3 67.4L768.8 67.5L769.3 67.6L769.8 67.6L770.3 67.7L770.8 67.8L771.3 67.9L771.8 67.9L772.3 68.0L772.8 68.1L773.3 68.1L773.8 68.2L774.3 68.3L774.8 68.4L775.3 68.4L775.8 68.5L776.3 68.6L776.8 68.7L777.3 68.7L777.8 68.8L778.3 68.9L778.8 69.0L779.3 69.0L779.8 69.1L780.3 69.2L780.8 69.3L781.3 69.3L781.8 69.4L782.3 69.5L782.8 69.6L783.3 69.7L783.8 69.7L784.3 69.8L784.8 69.9L785.3 70.0L785.8 70.1L786.3 70.1L786.8 70.2L787.3 70.3L787.8 70.4L788.3 70.5L788.8 70.5L789.3 70.6L789.8 70.7L790.3 70.8L790.8 70.9L791.3 71.0L791.8 71.0L792.3 71.1L792.8 71.2L793.3 71.3L793.8 71.4L794.3 71.5L794.8 71.6L795.3 71.6L795.8 71.7L796.3 71.8L796.8 71.9L797.3 72.0L797.8 72.1L798.3 72.2L798.8 72.3L799.3 72.4L799.8 72.5L800.3 72.5L800.8 72.6L801.3 72.7L801.8 72.8L802.3 72.9L802.8 73.0L803.3 73.1L803.8 73.2L804.3 73.3L804.8 73.4L805.3 73.5L805.8 73.6L806.3 73.7L806.8 73.8L807.3 73.9L807.8 74.0L808.3 74.1L808.8 74.2L809.3 74.3L809.8 74.4L810.3 74.5L810.8 74.6L811.3 74.7L811.8 74.8L812.3 74.9L812.8 75.0L813.3 75.1L813.8 75.2L814.3 75.3L814.8 75.4L815.3 75.5L815.8 75.6L816.3 75.7L816.8 75.8L817.3 75.9L817.8 76.0L818.3 76.1L818.8 76.2L819.3 76.3L819.8 76.4L820.3 76.5L820.8 76.6L821.3 76.7L821.8 76.8L822.3 76.9L822.8 77.0L823.3 77.1L823.8 77.2L824.3 77.4L824.8 77.5L825.3 77.6L825.8 77.7L826.3 77.8L826.8 77.9L827.3 78.0L827.8 78.1L828.3 78.2L828.8 78.3L829.3 78.4L829.8 78.5L830.3 78.7L830.8 78.8L831.3 78.9L831.8 79.0L832.3 79.1L832.8 79.2L833.3 79.3L833.8 79.4L834.3 79.5L834.8 79.6L835.3 79.7L835.8 79.8L836.3 79.9L836.8 80.1L837.3 80.2L837.8 80.3L838.3 80.4L838.8 80.5L839.3 80.6L839.8 80.7L840.3 80.8L840.8 80.9L841.3 81.0L841.8 81.1L842.3 81.3L842.8 81.4L843.3 81.5L843.8 81.6L844.3 81.7L844.8 81.8L845.3 81.9L845.8 82.0L846.3 82.1L846.8 82.2L847.3 82.3L847.8 82.5L848.3 82.6L848.8 82.7L849.3 82.8L849.8 82.9L850.3 83.0L850.8 83.1L851.3 83.2L851.8 83.3L852.3 83.4L852.8 83.6L853.3 83.7L853.8 83.8L854.3 83.9L854.8 84.0L855.3 84.1L855.8 84.2L856.3 84.3L856.8 84.4L857.3 84.5L857.8 84.6L858.3 84.8L858.8 84.9L859.3 85.0L859.8 85.1L860.3 85.2L860.8 85.3L861.3 85.4L861.8 85.5L862.3 85.6L862.8 85.7L863.3 85.8L863.8 86.0L864.3 86.1L864.8 86.2L865.3 86.3L865.8 86.4L866.3 86.5L866.8 86.6L867.3 86.7L867.8 86.8L868.3 87.0L868.8 87.1L869.3 87.2L869.8 87.3L870.3 87.4L870.8 87.5L871.3 87.6L871.8 87.8L872.3 87.9L872.8 88.0L873.3 88.1L873.8 88.2L874.3 88.3L874.8 88.5L875.3 88.6L875.8 88.7L876.3 88.8L876.8 88.9L877.3 89.1L877.8 89.2L878.3 89.3L878.8 89.4L879.3 89.5L879.8 89.7L880.3 89.8L880.8 89.9L881.3 90.0L881.8 90.2L882.3 90.3L882.8 90.4L883.3 90.5L883.8 90.7L884.3 90.8L884.8 90.9L885.3 91.0L885.8 91.2L886.3 91.3L886.8 91.4L887.3 91.5L887.8 91.6L888.3 91.8L888.8 91.9L889.3 92.0L889.8 92.1L890.3 92.2L890.8 92.4L891.3 92.5L891.8 92.6L892.3 92.7L892.8 92.9L893.3 93.0L893.8 93.1L894.3 93.2L894.8 93.3L895.3 93.5L895.8 93.6L896.3 93.7L896.8 93.8L897.3 93.9L897.8 94.1L898.3 94.2L898.8 94.3L899.3 94.4L899.8 94.6" fill="none" stroke="#ff2000" stroke-width="5.8" stroke-linejoin="round" stroke-linecap="butt"/>

<!-- panel b curves -->
<g fill="none" stroke-linejoin="round">
<path d="M157.8 633.2L158.5 608.0L159.2 636.3L159.9 602.2L160.6 630.7L161.3 609.0L162.0 628.8L162.7 608.7L163.4 631.1L164.1 610.5L164.8 630.0L165.5 612.1L166.2 628.2L166.9 607.1L167.6 628.4L168.3 613.7L169.0 625.9L169.7 608.3L170.4 626.4L171.1 613.7L171.8 623.7L172.5 615.6L173.2 622.9L173.9 616.0L174.6 618.8L175.3 618.5L176.0 617.7L176.7 620.5L177.4 619.1L178.1 623.2L178.8 620.9L179.5 617.5L180.2 612.6L180.9 616.4L181.6 619.2L182.3 622.0L183.0 621.5L183.7 620.7L184.4 616.0L185.1 616.0L185.8 615.1L186.5 615.6L187.2 618.5L187.9 620.2L188.6 623.5L189.3 620.7L190.0 618.9L190.7 615.0L191.4 610.9L192.1 615.7L192.8 614.9L193.5 620.5L194.2 623.1L194.9 619.6L195.6 618.8L196.3 617.6L197.0 614.8L197.7 612.3L198.4 616.1L199.1 616.8L199.8 620.5L200.5 621.6L201.2 624.1L201.9 621.9L202.6 620.9L203.3 620.0L204.0 617.3L204.7 615.6L205.4 615.3L206.1 620.0L206.8 623.7L207.5 624.3L208.2 622.5L208.9 622.7L209.6 624.8L210.3 618.6L211.0 618.8L211.7 621.0L212.4 617.9L213.1 623.9L213.8 623.6L214.5 625.8L215.2 620.8L215.9 617.0L216.6 617.9L217.3 621.3L218.0 623.3L218.7 625.9L219.4 622.9L220.1 621.9L220.8 621.6L221.5 623.7L222.2 623.6L222.9 625.5L223.6 629.6L224.3 630.1L225.0 629.2L225.7 625.4L226.4 621.1L227.1 622.0L227.8 624.8L228.5 628.0L229.2 628.7L229.9 625.0L230.6 618.7L231.3 618.4L232.0 616.5L232.7 622.4L233.4 626.2L234.1 624.7L234.8 627.5L235.5 626.2L236.2 622.4L236.9 623.9L237.6 625.9L238.3 623.1L239.0 627.3L239.7 627.4L240.4 626.1L241.1 624.6L241.8 620.4L242.5 619.1L243.2 619.2L243.9 620.5L244.6 622.7L245.3 621.9L246.0 621.6L246.7 622.1L247.4 620.4L248.1 619.7L248.8 617.6L249.5 618.4L250.2 619.4L250.9 620.6L251.6 620.7L252.3 621.5L253.0 620.3L253.7 619.2L254.4 618.3L255.1 618.3L255.8 617.7L256.5 619.1L257.2 619.6L257.9 619.9L258.6 619.7L259.3 619.4L260.0 618.9L260.7 618.0L261.4 617.0L262.1 617.2L262.8 617.3L263.5 618.7L264.2 618.5L264.9 617.0L265.6 618.1L266.3 616.9L267.0 615.0L267.7 615.0L268.4 614.9L269.1 617.5L269.8 617.7L270.5 616.4L271.2 616.8L271.9 615.5L272.6 615.9L273.3 614.0L274.0 613.2L274.7 615.0L275.4 615.7L276.1 615.6L276.8 613.7L277.5 613.8L278.2 614.1L278.9 612.2L279.6 614.1L280.3 614.1L281.0 615.8L281.7 614.4L282.4 612.7L283.1 612.4L283.8 611.9L284.5 611.7L285.2 612.9L285.9 612.6L286.6 611.1L287.3 611.9L288.0 610.1L288.7 609.2L289.4 609.8L290.1 609.4L290.8 609.6L291.5 609.8L292.2 609.0L292.9 608.3L293.6 608.1L294.3 607.3L295.0 608.0L295.7 608.7L296.4 608.0L297.1 608.2L297.8 606.9L298.5 606.9L299.2 606.2L299.9 605.7L300.6 605.3L301.3 606.3L302.0 606.3L302.7 607.0L303.4 606.3L304.1 605.1L304.8 605.1L305.5 604.7L306.2 604.0L306.9 605.0L307.6 604.9L308.3 605.2L309.0 605.4L309.7 604.7L310.4 604.2L311.1 603.7L311.8 604.1L312.5 604.2L313.2 603.7L313.9 604.8L314.6 604.7L315.3 604.8L316.0 604.8L316.7 604.0L317.4 604.1L318.1 602.6L318.8 601.2L319.5 601.9L320.2 601.4L320.9 601.3L321.6 599.9L322.3 600.8L323.0 608.1L323.7 590.7L324.4 607.3L325.1 590.0L325.8 606.6L326.5 598.6L327.2 597.9L327.9 597.4L328.6 597.2L329.3 596.1L330.0 594.6L330.7 594.9L331.4 595.0L332.1 595.0L332.8 595.4L333.5 594.6L334.2 593.2L334.9 592.4L335.6 593.4L336.3 592.6L337.0 593.5L337.7 594.1L338.4 593.9L339.1 592.4L339.8 591.7L340.5 591.6L341.2 592.1L341.9 592.0L342.6 591.9L343.3 592.5L344.0 591.9L344.7 590.5L345.4 589.1L346.1 588.9L346.8 588.7L347.5 588.9L348.2 587.6L348.9 587.0L349.6 585.9L350.3 584.6L351.0 584.8L351.7 585.7L352.4 586.7L353.1 588.2L353.8 588.2L354.5 588.5L355.2 587.9L355.9 586.9L356.6 586.6L357.3 585.5L358.0 585.1L358.7 585.8L359.4 585.8L360.1 586.1L360.8 584.8L361.5 583.0L362.2 582.6L362.9 581.4L363.6 580.7L364.3 582.3L365.0 581.8L365.7 581.7L366.4 581.1L367.1 580.8L367.8 579.3L368.5 578.6L369.2 577.0L369.9 576.2L370.6 577.2L371.3 577.6L372.0 577.2L372.7 576.6L373.4 575.8L374.1 574.4L374.8 574.2L375.5 573.3L376.2 572.8L376.9 572.7L377.6 573.0L378.3 572.8L379.0 572.4L379.7 570.9L380.4 570.5L381.1 570.7L381.8 569.4L382.5 569.5L383.2 570.3L383.9 570.8L384.6 570.7L385.3 569.2L386.0 569.3L386.7 568.8L387.4 569.5L388.1 571.4L388.8 572.6L389.5 573.9L390.2 574.6L390.9 569.4L391.6 563.1L392.3 559.0L393.0 558.8L393.7 559.0L394.4 559.6L395.1 559.5L395.8 559.2L396.5 558.8L397.2 558.2L397.9 558.0L398.6 558.3L399.3 559.3L400.0 559.1L400.7 558.6L401.4 557.4L402.1 555.6L402.8 555.1L403.5 554.0L404.2 555.2L404.9 554.8L405.6 553.5L406.3 551.8L407.0 551.2L407.7 549.8L408.4 550.0L409.1 551.2L409.8 552.1L410.5 552.9L411.2 554.2L411.9 554.0L412.6 554.8L413.3 555.8L414.0 557.8L414.7 560.5L415.4 561.3L416.1 561.8L416.8 559.2L417.5 557.7L418.2 554.3L418.9 552.3L419.6 549.6L420.3 548.1L421.0 548.3L421.7 548.5L422.4 547.7L423.1 548.2L423.8 547.0L424.5 546.4L425.2 545.8L425.9 545.2L426.6 543.9L427.3 545.0L428.0 545.1L428.7 544.8L429.4 544.2L430.1 543.3L430.8 542.4L431.5 542.1L432.2 541.0L432.9 540.0L433.6 539.8L434.3 540.7L435.0 540.1L435.7 539.5L436.4 539.5L437.1 538.4L437.8 537.1L438.5 536.0L439.2 535.3L439.9 535.7L440.6 536.7L441.3 537.7L442.0 538.4L442.7 538.7L443.4 538.7L444.1 539.0L444.8 539.2L445.5 539.3L446.2 540.2L446.9 540.1L447.6 539.7L448.3 539.0L449.0 538.0L449.7 537.8L450.4 538.5L451.1 539.1L451.8 538.9L452.5 538.8L453.2 537.7L453.9 536.6L454.6 536.6L455.3 537.7L456.0 537.3L456.7 538.0L457.4 537.8L458.1 537.1L458.8 535.4L459.5 535.8L460.2 535.2L460.9 535.2L461.6 535.2L462.3 535.1L463.0 534.1L463.7 532.8L464.4 532.3L465.1 531.0L465.8 530.4L466.5 531.0L467.2 531.0L467.9 530.6L468.6 528.8L469.3 528.3L470.0 527.2L470.7 527.0L471.4 525.6L472.1 525.9L472.8 525.8L473.5 525.1L474.2 524.7L474.9 524.7L475.6 523.4L476.3 522.3L477.0 522.4L477.7 522.4L478.4 522.5L479.1 521.8L479.8 521.8L480.5 521.9L481.2 520.7L481.9 519.6L482.6 519.3L483.3 519.2L484.0 517.9L484.7 517.1L485.4 517.5L486.1 517.8L486.8 518.0L487.5 517.9L488.2 517.0L488.9 516.0L489.6 515.8L490.3 515.3L491.0 515.8L491.7 516.0L492.4 517.5L493.1 517.0L493.8 516.1L494.5 515.8L495.2 516.2L495.9 516.5L496.6 517.8L497.3 518.9L498.0 520.2L498.7 519.7L499.4 518.6L500.1 517.2L500.8 516.2L501.5 516.0L502.2 515.9L502.9 516.3L503.6 515.4L504.3 515.0L505.0 513.7L505.7 512.4L506.4 510.9L507.1 510.9L507.8 511.9L508.5 512.4L509.2 511.6L509.9 510.7L510.6 509.3L511.3 508.5L512.0 508.2L512.7 509.0L513.4 509.0L514.1 508.4L514.8 507.5L515.5 506.8L516.2 506.1L516.9 505.3L517.6 506.4L518.3 506.3L519.0 506.1L519.7 506.1L520.4 505.2" stroke="#000000" stroke-width="5.4" stroke-linecap="round"/>
<path d="M735.0 499.4L735.8 499.7L736.6 499.0L737.4 498.9L738.2 498.1L739.0 499.3L739.8 498.5L740.6 499.3L741.4 498.9L742.2 498.7L743.0 498.9L743.8 499.3L744.6 499.6L745.4 500.4L746.2 500.0L747.0 500.1L747.8 499.5L748.6 499.8L749.4 499.7L750.2 499.3L751.0 499.4L751.8 499.4L752.6 499.6L753.4 499.8L754.2 499.5L755.0 499.3L755.8 499.9L756.6 499.0L757.4 499.1L758.2 500.2L759.0 498.5L759.8 498.5L760.6 498.9L761.4 497.8L762.2 499.0L763.0 496.8L763.8 497.5L764.6 497.6L765.4 497.3L766.2 496.5L767.0 496.3L767.8 495.7L768.6 496.3L769.4 495.6L770.2 495.8L771.0 496.5L771.8 495.8L772.6 495.9L773.4 496.2L774.2 495.7L775.0 496.7L775.8 496.9L776.6 496.1L777.4 496.4L778.2 496.3L779.0 496.3L779.8 496.7L780.6 496.6L781.4 497.4L782.2 497.0L783.0 497.7L783.8 497.6L784.6 498.0L785.4 497.6L786.2 497.5L787.0 497.2L787.8 497.9L788.6 498.4L789.4 499.3L790.2 499.4L791.0 499.0L791.8 498.7L792.6 498.8L793.4 498.7L794.2 499.5L795.0 499.6L795.8 498.9L796.6 498.6L797.4 499.5L798.2 499.5L799.0 499.3L799.8 499.9L800.6 499.5L801.4 499.4L802.2 499.3L803.0 498.6L803.8 499.7L804.6 499.2L805.4 499.4L806.2 499.4L807.0 500.2L807.8 500.3L808.6 500.4L809.4 499.7L810.2 500.1L811.0 499.8L811.8 500.5L812.6 500.9L813.4 501.0L814.2 502.1L815.0 501.9L815.8 502.0L816.6 501.8L817.4 501.6L818.2 502.2L819.0 502.5L819.8 501.6L820.6 502.4L821.4 502.5L822.2 502.9L823.0 502.9L823.8 502.1L824.6 501.8L825.4 503.1L826.2 503.1L827.0 502.4L827.8 502.9L828.6 502.9L829.4 502.2L830.2 501.7L831.0 501.9L831.8 502.9L832.6 503.3L833.4 503.5L834.2 503.9L835.0 504.3L835.8 503.2L836.6 503.7L837.4 503.7L838.2 503.5L839.0 503.9L839.8 504.3L840.6 504.5L841.4 504.1L842.2 504.4L843.0 505.8L843.8 505.1L844.6 504.5L845.4 505.2L846.2 505.8L847.0 506.1L847.8 505.5L848.6 506.3L849.4 505.9L850.2 505.7L851.0 505.8L851.8 506.2L852.6 506.9L853.4 507.2L854.2 507.1L855.0 507.6L855.8 507.5L856.6 507.9L857.4 507.1L858.2 506.7L859.0 507.7L859.8 507.2L860.6 507.6L861.4 507.9L862.2 508.0L863.0 508.1L863.8 509.1L864.6 507.8L865.4 508.9L866.2 510.2L867.0 509.8L867.8 509.7L868.6 510.1L869.4 510.9L870.2 510.0L871.0 510.2L871.8 510.3L872.6 510.8L873.4 511.0L874.2 511.4L875.0 511.2L875.8 511.4L876.6 511.3L877.4 511.3L878.2 511.7L879.0 512.0L879.8 511.8L880.6 513.1L881.4 513.1L882.2 512.6L883.0 513.6L883.8 513.4L884.6 514.1L885.4 514.3L886.2 514.6L887.0 514.9L887.8 514.8L888.6 515.2L889.4 516.5L890.2 515.3L891.0 515.9L891.8 516.5L892.6 516.3L893.4 516.1L894.2 517.9L895.0 517.7L895.8 519.0L896.6 519.0" stroke="#000000" stroke-width="5.0" stroke-linecap="round"/>
<path d="M132.0 612.8L133.1 612.8L134.2 612.8L135.3 612.8L136.4 612.9L137.5 613.0L138.6 613.0L139.7 613.1L140.8 613.2L141.9 613.4L142.9 613.5L144.0 613.7L145.1 613.8L146.2 614.0L147.3 614.2L148.4 614.4L149.5 614.6L150.6 614.9L151.7 615.1L152.8 615.4L153.9 615.6L155.0 615.9L156.1 616.2L157.2 616.6L158.3 616.9L159.4 617.2L160.5 617.6L161.6 617.9L162.6 618.3L163.7 618.7L164.8 619.1L165.9 619.5L167.0 619.9L168.1 620.3L169.2 620.8L170.3 621.2L171.4 621.7L172.5 622.1L173.6 622.6L174.7 623.1L175.8 623.6L176.9 624.1L178.0 624.6L179.1 625.1L180.2 625.6L181.3 626.1L182.3 626.7L183.4 627.2L184.5 627.8L185.6 628.3L186.7 628.9L187.8 629.5L188.9 630.0L190.0 630.6L191.1 631.2L192.2 631.8L193.3 632.4L194.4 633.0L195.5 633.6L196.6 634.2L197.7 634.8L198.8 635.4L199.9 636.0L201.0 636.6L202.0 637.3L203.1 637.9L204.2 638.5L205.3 639.1L206.4 639.8L207.5 640.4L208.6 641.0L209.7 641.7L210.8 642.3L211.9 642.9L213.0 643.6L214.1 644.2L215.2 644.8L216.3 645.5L217.4 646.1L218.5 646.7L219.6 647.4L220.7 648.0L221.7 648.6L222.8 649.3L223.9 649.9L225.0 650.5L226.1 651.2L227.2 651.8L228.3 652.4L229.4 653.0L230.5 653.7L231.6 654.3L232.7 654.9L233.8 655.5L234.9 656.2L236.0 656.8L237.1 657.4L238.2 658.0L239.3 658.6L240.4 659.2L241.4 659.8L242.5 660.4L243.6 661.0L244.7 661.6L245.8 662.2L246.9 662.8L248.0 663.4L249.1 663.9L250.2 664.5L251.3 665.1L252.4 665.7L253.5 666.2L254.6 666.8L255.7 667.4L256.8 667.9L257.9 668.5L259.0 669.0L260.1 669.6L261.2 670.1L262.2 670.7L263.3 671.2L264.4 671.7L265.5 672.3L266.6 672.8L267.7 673.3L268.8 673.8L269.9 674.4L271.0 674.9L272.1 675.4L273.2 675.9L274.3 676.4L275.4 676.9L276.5 677.4L277.6 677.9L278.7 678.4L279.8 678.9L280.9 679.3L281.9 679.8L283.0 680.3L284.1 680.8L285.2 681.2L286.3 681.7L287.4 682.1L288.5 682.6L289.6 683.0L290.7 683.5L291.8 683.9L292.9 684.4L294.0 684.8L295.1 685.2L296.2 685.7L297.3 686.1L298.4 686.5L299.5 686.9L300.6 687.4L301.6 687.8L302.7 688.2L303.8 688.6L304.9 689.0L306.0 689.4L307.1 689.8L308.2 690.2L309.3 690.6L310.4 690.9L311.5 691.3L312.6 691.7L313.7 692.1L314.8 692.5L315.9 692.8L317.0 693.2L318.1 693.6L319.2 693.9L320.3 694.3L321.3 694.6L322.4 695.0L323.5 695.3L324.6 695.7L325.7 696.0L326.8 696.3L327.9 696.7L329.0 697.0L330.1 697.3L331.2 697.7L332.3 698.0L333.4 698.3L334.5 698.6L335.6 698.9L336.7 699.3L337.8 699.6L338.9 699.9L340.0 700.2L341.0 700.5L342.1 700.8L343.2 701.1L344.3 701.4L345.4 701.7L346.5 701.9L347.6 702.2L348.7 702.5L349.8 702.8L350.9 703.1L352.0 703.3L353.1 703.6L354.2 703.9L355.3 704.2L356.4 704.4L357.5 704.7L358.6 704.9L359.7 705.2L360.8 705.5L361.8 705.7L362.9 706.0L364.0 706.2L365.1 706.5L366.2 706.7L367.3 707.0L368.4 707.2L369.5 707.4L370.6 707.7L371.7 707.9L372.8 708.1L373.9 708.4L375.0 708.6L376.1 708.8L377.2 709.1L378.3 709.3L379.4 709.5L380.5 709.7L381.5 709.9L382.6 710.2L383.7 710.4L384.8 710.6L385.9 710.8L387.0 711.0L388.1 711.2L389.2 711.4L390.3 711.6L391.4 711.8L392.5 712.0L393.6 712.2L394.7 712.4L395.8 712.6L396.9 712.8L398.0 713.0L399.1 713.2L400.2 713.4L401.2 713.5L402.3 713.7L403.4 713.9L404.5 714.1L405.6 714.3L406.7 714.5L407.8 714.6L408.9 714.8L410.0 715.0L411.1 715.1L412.2 715.3L413.3 715.5L414.4 715.7L415.5 715.8L416.6 716.0L417.7 716.2L418.8 716.3L419.9 716.5L420.9 716.6L422.0 716.8L423.1 717.0L424.2 717.1L425.3 717.3L426.4 717.4L427.5 717.6L428.6 717.7L429.7 717.9L430.8 718.0L431.9 718.2L433.0 718.3L434.1 718.5L435.2 718.6L436.3 718.7L437.4 718.9L438.5 719.0L439.6 719.2L440.6 719.3L441.7 719.4L442.8 719.6L443.9 719.7L445.0 719.8L446.1 720.0L447.2 720.1L448.3 720.2L449.4 720.4L450.5 720.5L451.6 720.6L452.7 720.8L453.8 720.9L454.9 721.0L456.0 721.1L457.1 721.2L458.2 721.4L459.3 721.5L460.4 721.6L461.4 721.7L462.5 721.8L463.6 722.0L464.7 722.1L465.8 722.2L466.9 722.3L468.0 722.4L469.1 722.5L470.2 722.6L471.3 722.8L472.4 722.9L473.5 723.0L474.6 723.1L475.7 723.2L476.8 723.3L477.9 723.4L479.0 723.5L480.1 723.6L481.1 723.7L482.2 723.8L483.3 723.9L484.4 724.0L485.5 724.1L486.6 724.2L487.7 724.3L488.8 724.4L489.9 724.5L491.0 724.6L492.1 724.7L493.2 724.8L494.3 724.9L495.4 725.0L496.5 725.1L497.6 725.2L498.7 725.3L499.8 725.4L500.8 725.4L501.9 725.5L503.0 725.6L504.1 725.7L505.2 725.8L506.3 725.9L507.4 726.0L508.5 726.1L509.6 726.1L510.7 726.2L511.8 726.3L512.9 726.4L514.0 726.5L515.1 726.6L516.2 726.6L517.3 726.7L518.4 726.8L519.5 726.9L520.5 727.0L521.6 727.0L522.7 727.1L523.8 727.2L524.9 727.3L526.0 727.4L527.1 727.4L528.2 727.5L529.3 727.6L530.4 727.7L531.5 727.7L532.6 727.8L533.7 727.9L534.8 728.0L535.9 728.0L537.0 728.1L538.1 728.2L539.2 728.2L540.2 728.3L541.3 728.4L542.4 728.4L543.5 728.5L544.6 728.6L545.7 728.7L546.8 728.7L547.9 728.8L549.0 728.9L550.1 728.9L551.2 729.0L552.3 729.1L553.4 729.1L554.5 729.2L555.6 729.2L556.7 729.3L557.8 729.4L558.9 729.4L559.9 729.5L561.0 729.6L562.1 729.6L563.2 729.7L564.3 729.7L565.4 729.8L566.5 729.9L567.6 729.9L568.7 730.0L569.8 730.0L570.9 730.1L572.0 730.2L573.1 730.2L574.2 730.3L575.3 730.3L576.4 730.4L577.5 730.4L578.6 730.5L579.7 730.5L580.7 730.6L581.8 730.7L582.9 730.7L584.0 730.8L585.1 730.8L586.2 730.9L587.3 730.9L588.4 731.0L589.5 731.0L590.6 731.1L591.7 731.1L592.8 731.2L593.9 731.2L595.0 731.3L596.1 731.3L597.2 731.4L598.3 731.4L599.4 731.5L600.4 731.5L601.5 731.6L602.6 731.6L603.7 731.7L604.8 731.7L605.9 731.8L607.0 731.8L608.1 731.9L609.2 731.9L610.3 732.0L611.4 732.0L612.5 732.1L613.6 732.1L614.7 732.1L615.8 732.2L616.9 732.2L618.0 732.3L619.1 732.3L620.1 732.4L621.2 732.4L622.3 732.5L623.4 732.5L624.5 732.5L625.6 732.6L626.7 732.6L627.8 732.7L628.9 732.7L630.0 732.7L631.1 732.8L632.2 732.8L633.3 732.9L634.4 732.9L635.5 733.0L636.6 733.0L637.7 733.0L638.8 733.1L639.8 733.1L640.9 733.2L642.0 733.2L643.1 733.2L644.2 733.3L645.3 733.3L646.4 733.3L647.5 733.4L648.6 733.4L649.7 733.5L650.8 733.5L651.9 733.5L653.0 733.6L654.1 733.6L655.2 733.6L656.3 733.7L657.4 733.7L658.5 733.8L659.5 733.8L660.6 733.8L661.7 733.9L662.8 733.9L663.9 733.9L665.0 734.0L666.1 734.0L667.2 734.0L668.3 734.1L669.4 734.1L670.5 734.1L671.6 734.2L672.7 734.2L673.8 734.2L674.9 734.3L676.0 734.3L677.1 734.3L678.2 734.4L679.2 734.4L680.3 734.4L681.4 734.5L682.5 734.5L683.6 734.5L684.7 734.6L685.8 734.6L686.9 734.6L688.0 734.6L689.1 734.7L690.2 734.7L691.3 734.7L692.4 734.8L693.5 734.8L694.6 734.8L695.7 734.9L696.8 734.9L697.9 734.9L699.0 734.9L700.0 735.0L701.1 735.0L702.2 735.0L703.3 735.1L704.4 735.1L705.5 735.1L706.6 735.1L707.7 735.2L708.8 735.2L709.9 735.2L711.0 735.3L712.1 735.3L713.2 735.3L714.3 735.3L715.4 735.4L716.5 735.4L717.6 735.4L718.7 735.4L719.7 735.5L720.8 735.5L721.9 735.5L723.0 735.6L724.1 735.6L725.2 735.6L726.3 735.6L727.4 735.7L728.5 735.7L729.6 735.7L730.7 735.7L731.8 735.8L732.9 735.8L734.0 735.8L735.1 735.8L736.2 735.9L737.3 735.9L738.4 735.9L739.4 735.9L740.5 736.0L741.6 736.0L742.7 736.0L743.8 736.0L744.9 736.0L746.0 736.1L747.1 736.1L748.2 736.1L749.3 736.1L750.4 736.2L751.5 736.2L752.6 736.2L753.7 736.2L754.8 736.3L755.9 736.3L757.0 736.3L758.1 736.3L759.1 736.3L760.2 736.4L761.3 736.4L762.4 736.4L763.5 736.4L764.6 736.5L765.7 736.5L766.8 736.5L767.9 736.5L769.0 736.5L770.1 736.6L771.2 736.6L772.3 736.6L773.4 736.6L774.5 736.6L775.6 736.7L776.7 736.7L777.8 736.7L778.8 736.7L779.9 736.7L781.0 736.8L782.1 736.8L783.2 736.8L784.3 736.8L785.4 736.8L786.5 736.9L787.6 736.9L788.7 736.9L789.8 736.9L790.9 736.9L792.0 737.0L793.1 737.0L794.2 737.0L795.3 737.0L796.4 737.0L797.5 737.1L798.6 737.1L799.6 737.1L800.7 737.1L801.8 737.1L802.9 737.1L804.0 737.2L805.1 737.2L806.2 737.2L807.3 737.2L808.4 737.2L809.5 737.3L810.6 737.3L811.7 737.3L812.8 737.3L813.9 737.3L815.0 737.3L816.1 737.4L817.2 737.4L818.3 737.4L819.3 737.4L820.4 737.4L821.5 737.4L822.6 737.5L823.7 737.5L824.8 737.5L825.9 737.5L827.0 737.5L828.1 737.5L829.2 737.6L830.3 737.6L831.4 737.6L832.5 737.6L833.6 737.6L834.7 737.6L835.8 737.7L836.9 737.7L838.0 737.7L839.0 737.7L840.1 737.7L841.2 737.7L842.3 737.8L843.4 737.8L844.5 737.8L845.6 737.8L846.7 737.8L847.8 737.8L848.9 737.8L850.0 737.9L851.1 737.9L852.2 737.9L853.3 737.9L854.4 737.9L855.5 737.9L856.6 737.9L857.7 738.0L858.7 738.0L859.8 738.0L860.9 738.0L862.0 738.0L863.1 738.0L864.2 738.0L865.3 738.1L866.4 738.1L867.5 738.1L868.6 738.1L869.7 738.1L870.8 738.1L871.9 738.1L873.0 738.2L874.1 738.2L875.2 738.2L876.3 738.2L877.4 738.2L878.4 738.2L879.5 738.2L880.6 738.3L881.7 738.3L882.8 738.3L883.9 738.3L885.0 738.3L886.1 738.3L887.2 738.3L888.3 738.3L889.4 738.4L890.5 738.4L891.6 738.4L892.7 738.4L893.8 738.4L894.9 738.4L896.0 738.4L897.1 738.4L898.2 738.5L899.2 738.5" stroke="#0000ff" stroke-width="5.3"/>
<path d="M132.0 743.0L133.1 742.9L134.2 742.9L135.3 742.8L136.4 742.7L137.5 742.7L138.6 742.6L139.7 742.5L140.8 742.4L141.9 742.3L142.9 742.1L144.0 742.0L145.1 741.9L146.2 741.7L147.3 741.6L148.4 741.4L149.5 741.3L150.6 741.1L151.7 740.9L152.8 740.7L153.9 740.5L155.0 740.3L156.1 740.1L157.2 739.9L158.3 739.7L159.4 739.5L160.5 739.3L161.6 739.0L162.6 738.8L163.7 738.5L164.8 738.3L165.9 738.0L167.0 737.7L168.1 737.4L169.2 737.2L170.3 736.9L171.4 736.6L172.5 736.3L173.6 735.9L174.7 735.6L175.8 735.3L176.9 735.0L178.0 734.6L179.1 734.3L180.2 733.9L181.3 733.5L182.3 733.2L183.4 732.8L184.5 732.4L185.6 732.0L186.7 731.6L187.8 731.2L188.9 730.8L190.0 730.4L191.1 730.0L192.2 729.6L193.3 729.1L194.4 728.7L195.5 728.3L196.6 727.8L197.7 727.4L198.8 726.9L199.9 726.4L201.0 726.0L202.0 725.5L203.1 725.0L204.2 724.5L205.3 724.0L206.4 723.5L207.5 723.0L208.6 722.5L209.7 722.0L210.8 721.5L211.9 721.0L213.0 720.4L214.1 719.9L215.2 719.3L216.3 718.8L217.4 718.2L218.5 717.7L219.6 717.1L220.7 716.5L221.7 715.9L222.8 715.4L223.9 714.8L225.0 714.2L226.1 713.6L227.2 713.0L228.3 712.4L229.4 711.8L230.5 711.1L231.6 710.5L232.7 709.9L233.8 709.3L234.9 708.6L236.0 708.0L237.1 707.4L238.2 706.7L239.3 706.1L240.4 705.4L241.4 704.8L242.5 704.1L243.6 703.4L244.7 702.8L245.8 702.1L246.9 701.4L248.0 700.7L249.1 700.0L250.2 699.3L251.3 698.6L252.4 697.9L253.5 697.2L254.6 696.5L255.7 695.8L256.8 695.1L257.9 694.4L259.0 693.6L260.1 692.9L261.2 692.2L262.2 691.5L263.3 690.7L264.4 690.0L265.5 689.2L266.6 688.5L267.7 687.7L268.8 687.0L269.9 686.2L271.0 685.5L272.1 684.7L273.2 683.9L274.3 683.1L275.4 682.4L276.5 681.6L277.6 680.8L278.7 680.0L279.8 679.3L280.9 678.5L281.9 677.7L283.0 676.9L284.1 676.1L285.2 675.3L286.3 674.5L287.4 673.8L288.5 673.0L289.6 672.2L290.7 671.4L291.8 670.6L292.9 669.8L294.0 669.0L295.1 668.3L296.2 667.5L297.3 666.7L298.4 665.9L299.5 665.1L300.6 664.3L301.6 663.5L302.7 662.7L303.8 661.9L304.9 661.1L306.0 660.3L307.1 659.5L308.2 658.7L309.3 657.9L310.4 657.1L311.5 656.3L312.6 655.5L313.7 654.7L314.8 653.9L315.9 653.1L317.0 652.3L318.1 651.5L319.2 650.7L320.3 649.9L321.3 649.1L322.4 648.2L323.5 647.4L324.6 646.6L325.7 645.8L326.8 645.0L327.9 644.1L329.0 643.3L330.1 642.5L331.2 641.7L332.3 640.9L333.4 640.1L334.5 639.2L335.6 638.4L336.7 637.6L337.8 636.8L338.9 636.0L340.0 635.2L341.0 634.3L342.1 633.5L343.2 632.7L344.3 631.9L345.4 631.1L346.5 630.3L347.6 629.4L348.7 628.6L349.8 627.8L350.9 627.0L352.0 626.2L353.1 625.4L354.2 624.6L355.3 623.8L356.4 623.0L357.5 622.1L358.6 621.3L359.7 620.5L360.8 619.7L361.8 618.9L362.9 618.1L364.0 617.3L365.1 616.5L366.2 615.7L367.3 614.9L368.4 614.1L369.5 613.3L370.6 612.5L371.7 611.8L372.8 611.0L373.9 610.2L375.0 609.4L376.1 608.6L377.2 607.9L378.3 607.1L379.4 606.3L380.5 605.5L381.5 604.8L382.6 604.0L383.7 603.2L384.8 602.5L385.9 601.7L387.0 600.9L388.1 600.2L389.2 599.4L390.3 598.6L391.4 597.9L392.5 597.1L393.6 596.3L394.7 595.6L395.8 594.8L396.9 594.1L398.0 593.3L399.1 592.5L400.2 591.8L401.2 591.0L402.3 590.2L403.4 589.5L404.5 588.7L405.6 588.0L406.7 587.2L407.8 586.5L408.9 585.7L410.0 585.0L411.1 584.2L412.2 583.5L413.3 582.7L414.4 582.0L415.5 581.3L416.6 580.5L417.7 579.8L418.8 579.1L419.9 578.4L420.9 577.7L422.0 576.9L423.1 576.2L424.2 575.5L425.3 574.8L426.4 574.1L427.5 573.4L428.6 572.7L429.7 572.0L430.8 571.3L431.9 570.6L433.0 570.0L434.1 569.3L435.2 568.6L436.3 567.9L437.4 567.3L438.5 566.6L439.6 565.9L440.6 565.3L441.7 564.6L442.8 563.9L443.9 563.3L445.0 562.6L446.1 562.0L447.2 561.3L448.3 560.7L449.4 560.1L450.5 559.4L451.6 558.8L452.7 558.2L453.8 557.5L454.9 556.9L456.0 556.3L457.1 555.7L458.2 555.1L459.3 554.5L460.4 553.9L461.4 553.3L462.5 552.7L463.6 552.1L464.7 551.5L465.8 550.9L466.9 550.3L468.0 549.7L469.1 549.2L470.2 548.6L471.3 548.0L472.4 547.4L473.5 546.9L474.6 546.3L475.7 545.8L476.8 545.2L477.9 544.7L479.0 544.1L480.1 543.6L481.1 543.0L482.2 542.5L483.3 542.0L484.4 541.4L485.5 540.9L486.6 540.4L487.7 539.9L488.8 539.4L489.9 538.9L491.0 538.3L492.1 537.8L493.2 537.3L494.3 536.8L495.4 536.4L496.5 535.9L497.6 535.4L498.7 534.9L499.8 534.4L500.8 533.9L501.9 533.5L503.0 533.0L504.1 532.5L505.2 532.1L506.3 531.6L507.4 531.2L508.5 530.7L509.6 530.3L510.7 529.8L511.8 529.4L512.9 528.9L514.0 528.5L515.1 528.1L516.2 527.7L517.3 527.2L518.4 526.8L519.5 526.4L520.5 526.0L521.6 525.6L522.7 525.2L523.8 524.8L524.9 524.4L526.0 524.0L527.1 523.6L528.2 523.2L529.3 522.8L530.4 522.4L531.5 522.1L532.6 521.7L533.7 521.3L534.8 520.9L535.9 520.6L537.0 520.2L538.1 519.9L539.2 519.5L540.2 519.2L541.3 518.8L542.4 518.5L543.5 518.1L544.6 517.8L545.7 517.5L546.8 517.1L547.9 516.8L549.0 516.5L550.1 516.2L551.2 515.8L552.3 515.5L553.4 515.2L554.5 514.9L555.6 514.6L556.7 514.3L557.8 514.0L558.9 513.7L559.9 513.4L561.0 513.1L562.1 512.9L563.2 512.6L564.3 512.3L565.4 512.0L566.5 511.8L567.6 511.5L568.7 511.2L569.8 511.0L570.9 510.7L572.0 510.4L573.1 510.2L574.2 509.9L575.3 509.7L576.4 509.4L577.5 509.2L578.6 509.0L579.7 508.7L580.7 508.5L581.8 508.3L582.9 508.0L584.0 507.8L585.1 507.6L586.2 507.4L587.3 507.2L588.4 507.0L589.5 506.7L590.6 506.5L591.7 506.3L592.8 506.1L593.9 505.9L595.0 505.7L596.1 505.6L597.2 505.4L598.3 505.2L599.4 505.0L600.4 504.8L601.5 504.6L602.6 504.5L603.7 504.3L604.8 504.1L605.9 504.0L607.0 503.8L608.1 503.6L609.2 503.5L610.3 503.3L611.4 503.2L612.5 503.0L613.6 502.9L614.7 502.7L615.8 502.6L616.9 502.4L618.0 502.3L619.1 502.2L620.1 502.0L621.2 501.9L622.3 501.8L623.4 501.7L624.5 501.5L625.6 501.4L626.7 501.3L627.8 501.2L628.9 501.1L630.0 501.0L631.1 500.9L632.2 500.8L633.3 500.7L634.4 500.6L635.5 500.5L636.6 500.4L637.7 500.3L638.8 500.2L639.8 500.1L640.9 500.0L642.0 500.0L643.1 499.9L644.2 499.8L645.3 499.7L646.4 499.7L647.5 499.6L648.6 499.5L649.7 499.5L650.8 499.4L651.9 499.3L653.0 499.3L654.1 499.2L655.2 499.2L656.3 499.1L657.4 499.1L658.5 499.0L659.5 499.0L660.6 498.9L661.7 498.9L662.8 498.9L663.9 498.8L665.0 498.8L666.1 498.8L667.2 498.7L668.3 498.7L669.4 498.7L670.5 498.7L671.6 498.6L672.7 498.6L673.8 498.6L674.9 498.6L676.0 498.6L677.1 498.6L678.2 498.6L679.2 498.6L680.3 498.5L681.4 498.5L682.5 498.5L683.6 498.5L684.7 498.5L685.8 498.5L686.9 498.6L688.0 498.6L689.1 498.6L690.2 498.6L691.3 498.6L692.4 498.6L693.5 498.6L694.6 498.6L695.7 498.7L696.8 498.7L697.9 498.7L699.0 498.7L700.0 498.7L701.1 498.8L702.2 498.8L703.3 498.8L704.4 498.8L705.5 498.9L706.6 498.9L707.7 498.9L708.8 499.0L709.9 499.0L711.0 499.1L712.1 499.1L713.2 499.1L714.3 499.2L715.4 499.2L716.5 499.3L717.6 499.3L718.7 499.4L719.7 499.4L720.8 499.5L721.9 499.5L723.0 499.6L724.1 499.6L725.2 499.7L726.3 499.7L727.4 499.8L728.5 499.9L729.6 499.9L730.7 500.0L731.8 500.0L732.9 500.1L734.0 500.2L735.1 500.3L736.2 500.3L737.3 500.4L738.4 500.5L739.4 500.5L740.5 500.6L741.6 500.7L742.7 500.8L743.8 500.9L744.9 500.9L746.0 501.0L747.1 501.1L748.2 501.2L749.3 501.3L750.4 501.4L751.5 501.5L752.6 501.6L753.7 501.7L754.8 501.8L755.9 501.9L757.0 502.0L758.1 502.1L759.1 502.2L760.2 502.3L761.3 502.4L762.4 502.5L763.5 502.6L764.6 502.7L765.7 502.8L766.8 502.9L767.9 503.0L769.0 503.1L770.1 503.2L771.2 503.4L772.3 503.5L773.4 503.6L774.5 503.7L775.6 503.8L776.7 503.9L777.8 504.1L778.8 504.2L779.9 504.3L781.0 504.4L782.1 504.6L783.2 504.7L784.3 504.8L785.4 504.9L786.5 505.1L787.6 505.2L788.7 505.3L789.8 505.5L790.9 505.6L792.0 505.7L793.1 505.9L794.2 506.0L795.3 506.1L796.4 506.3L797.5 506.4L798.6 506.5L799.6 506.7L800.7 506.8L801.8 507.0L802.9 507.1L804.0 507.2L805.1 507.4L806.2 507.5L807.3 507.7L808.4 507.8L809.5 508.0L810.6 508.1L811.7 508.3L812.8 508.4L813.9 508.6L815.0 508.7L816.1 508.9L817.2 509.0L818.3 509.2L819.3 509.3L820.4 509.5L821.5 509.6L822.6 509.8L823.7 510.0L824.8 510.1L825.9 510.3L827.0 510.4L828.1 510.6L829.2 510.8L830.3 510.9L831.4 511.1L832.5 511.2L833.6 511.4L834.7 511.6L835.8 511.7L836.9 511.9L838.0 512.1L839.0 512.2L840.1 512.4L841.2 512.6L842.3 512.7L843.4 512.9L844.5 513.1L845.6 513.2L846.7 513.4L847.8 513.6L848.9 513.7L850.0 513.9L851.1 514.1L852.2 514.3L853.3 514.4L854.4 514.6L855.5 514.8L856.6 515.0L857.7 515.1L858.7 515.3L859.8 515.5L860.9 515.7L862.0 515.8L863.1 516.0L864.2 516.2L865.3 516.4L866.4 516.5L867.5 516.7L868.6 516.9L869.7 517.1L870.8 517.3L871.9 517.5L873.0 517.6L874.1 517.8L875.2 518.0L876.3 518.2L877.4 518.4L878.4 518.5L879.5 518.7L880.6 518.9L881.7 519.1L882.8 519.3L883.9 519.5L885.0 519.7L886.1 519.8L887.2 520.0L888.3 520.2L889.4 520.4L890.5 520.6L891.6 520.8L892.7 521.0L893.8 521.2L894.9 521.3L896.0 521.5L897.1 521.7L898.2 521.9L899.2 522.1" stroke="#008000" stroke-width="5.8"/>
<path d="M132.3 743.2L132.8 743.1L133.3 743.0L133.8 742.9L134.3 742.8L134.8 742.7L135.3 742.6L135.8 742.6L136.3 742.5L136.8 742.4L137.3 742.3L137.8 742.2L138.3 742.1L138.8 742.0L139.3 741.9L139.8 741.9L140.3 741.8L140.8 741.7L141.3 741.6L141.8 741.5L142.3 741.4L142.8 741.3L143.3 741.2L143.8 741.1L144.3 741.0L144.8 740.9L145.3 740.8L145.8 740.7L146.3 740.7L146.8 740.6L147.3 740.5L147.8 740.4L148.3 740.3L148.8 740.2L149.3 740.1L149.8 740.0L150.3 739.9L150.8 739.8L151.3 739.6L151.8 739.5L152.3 739.4L152.8 739.3L153.3 739.2L153.8 739.1L154.3 739.0L154.8 738.9L155.3 738.8L155.8 738.7L156.3 738.6L156.8 738.5L157.3 738.4L157.8 738.3L158.3 738.2L158.8 738.1L159.3 738.0L159.8 737.9L160.3 737.8L160.8 737.7L161.3 737.6L161.8 737.5L162.3 737.4L162.8 737.3L163.3 737.2L163.8 737.0L164.3 736.9L164.8 736.8L165.3 736.7L165.8 736.6L166.3 736.5L166.8 736.4L167.3 736.3L167.8 736.2L168.3 736.1L168.8 736.0L169.3 735.9L169.8 735.8L170.3 735.7L170.8 735.5L171.3 735.4L171.8 735.3L172.3 735.2L172.8 735.1L173.3 735.0L173.8 734.9L174.3 734.8L174.8 734.7L175.3 734.6L175.8 734.4L176.3 734.3L176.8 734.2L177.3 734.1L177.8 734.0L178.3 733.9L178.8 733.8L179.3 733.7L179.8 733.5L180.3 733.4L180.8 733.3L181.3 733.2L181.8 733.1L182.3 733.0L182.8 732.9L183.3 732.7L183.8 732.6L184.3 732.5L184.8 732.4L185.3 732.3L185.8 732.2L186.3 732.0L186.8 731.9L187.3 731.8L187.8 731.7L188.3 731.6L188.8 731.4L189.3 731.3L189.8 731.2L190.3 731.1L190.8 731.0L191.3 730.9L191.8 730.7L192.3 730.6L192.8 730.5L193.3 730.3L193.8 730.2L194.3 730.1L194.8 729.9L195.3 729.8L195.8 729.7L196.3 729.5L196.8 729.4L197.3 729.2L197.8 729.1L198.3 728.9L198.8 728.8L199.3 728.6L199.8 728.4L200.3 728.3L200.8 728.1L201.3 727.9L201.8 727.7L202.3 727.6L202.8 727.4L203.3 727.2L203.8 726.9L204.3 726.7L204.8 726.5L205.3 726.3L205.8 726.0L206.3 725.7L206.8 725.4L207.3 725.1L207.8 724.8L208.3 724.4L208.8 724.1L209.3 723.7L209.8 723.3L210.3 722.9L210.8 722.5L211.3 722.0L211.8 721.6L212.3 721.1L212.8 720.6L213.3 720.1L213.8 719.5L214.3 718.9L214.8 718.3L215.3 717.7L215.8 717.1L216.3 716.4L216.8 715.6L217.3 714.8L217.8 714.0L218.3 713.1L218.8 712.2L219.3 711.4L219.8 710.5L220.3 709.8L220.8 709.1L221.3 708.3L221.8 707.5L222.3 706.8L222.8 706.2L223.3 705.9L223.8 705.9L224.3 706.3L224.8 707.2L225.3 708.1L225.8 709.1L226.3 710.5L226.8 712.0L227.3 713.2L227.8 713.9L228.3 714.1L228.8 714.3L229.3 714.4L229.8 714.5L230.3 714.6L230.8 714.6L231.3 714.7L231.8 714.7L232.3 714.7L232.8 714.7L233.3 714.8L233.8 715.1L234.3 715.8L234.8 716.7L235.3 717.7L235.8 718.7L236.3 719.5L236.8 720.4L237.3 721.3L237.8 722.2L238.3 723.1L238.8 724.0L239.3 724.8L239.8 725.4L240.3 726.0L240.8 726.6L241.3 727.2L241.8 727.7L242.3 728.1L242.8 728.5L243.3 728.8L243.8 729.0L244.3 729.3L244.8 729.5L245.3 729.6L245.8 729.8L246.3 729.9L246.8 730.0L247.3 730.1L247.8 730.2L248.3 730.2L248.8 730.3L249.3 730.3L249.8 730.4L250.3 730.4L250.8 730.5L251.3 730.5L251.8 730.5L252.3 730.5L252.8 730.5L253.3 730.5L253.8 730.4L254.3 730.4L254.8 730.3L255.3 730.3L255.8 730.2L256.3 730.2L256.8 730.1L257.3 730.1L257.8 730.0L258.3 729.9L258.8 729.9L259.3 729.8L259.8 729.8L260.3 729.7L260.8 729.6L261.3 729.5L261.8 729.5L262.3 729.4L262.8 729.3L263.3 729.2L263.8 729.1L264.3 729.0L264.8 729.0L265.3 728.9L265.8 728.8L266.3 728.7L266.8 728.6L267.3 728.5L267.8 728.4L268.3 728.3L268.8 728.2L269.3 728.1L269.8 728.0L270.3 727.9L270.8 727.9L271.3 727.8L271.8 727.7L272.3 727.6L272.8 727.5L273.3 727.4L273.8 727.3L274.3 727.2L274.8 727.1L275.3 727.0L275.8 726.9L276.3 726.8L276.8 726.7L277.3 726.6L277.8 726.4L278.3 726.3L278.8 726.2L279.3 726.1L279.8 726.0L280.3 725.9L280.8 725.8L281.3 725.7L281.8 725.5L282.3 725.4L282.8 725.3L283.3 725.2L283.8 725.1L284.3 724.9L284.8 724.8L285.3 724.7L285.8 724.5L286.3 724.4L286.8 724.3L287.3 724.1L287.8 724.0L288.3 723.8L288.8 723.7L289.3 723.5L289.8 723.4L290.3 723.2L290.8 723.1L291.3 722.9L291.8 722.8L292.3 722.6L292.8 722.5L293.3 722.3L293.8 722.2L294.3 722.0L294.8 721.9L295.3 721.7L295.8 721.5L296.3 721.4L296.8 721.2L297.3 721.1L297.8 720.9L298.3 720.7L298.8 720.6L299.3 720.4L299.8 720.2L300.3 720.1L300.8 719.9L301.3 719.7L301.8 719.5L302.3 719.4L302.8 719.2L303.3 719.0L303.8 718.8L304.3 718.6L304.8 718.4L305.3 718.2L305.8 718.0L306.3 717.8L306.8 717.5L307.3 717.3L307.8 717.1L308.3 716.9L308.8 716.6L309.3 716.4L309.8 716.1L310.3 715.8L310.8 715.5L311.3 715.2L311.8 714.9L312.3 714.6L312.8 714.2L313.3 713.9L313.8 713.5L314.3 713.1L314.8 712.6L315.3 712.2L315.8 711.6L316.3 711.0L316.8 710.3L317.3 709.5L317.8 708.6L318.3 707.6L318.8 706.6L319.3 705.5L319.8 704.2L320.3 702.3L320.8 700.3L321.3 698.4L321.8 697.1L322.3 696.7L322.8 698.0L323.3 700.5L323.8 703.0L324.3 705.6L324.8 708.7L325.3 711.7L325.8 714.2L326.3 716.4L326.8 718.3L327.3 719.5L327.8 720.1L328.3 720.6L328.8 720.8L329.3 720.7L329.8 720.6L330.3 720.4L330.8 720.1L331.3 719.8L331.8 719.5L332.3 719.2L332.8 718.9L333.3 718.6L333.8 718.4L334.3 718.1L334.8 717.9L335.3 717.6L335.8 717.3L336.3 717.1L336.8 716.8L337.3 716.5L337.8 716.3L338.3 716.0L338.8 715.7L339.3 715.5L339.8 715.2L340.3 714.9L340.8 714.6L341.3 714.4L341.8 714.1L342.3 713.8L342.8 713.6L343.3 713.3L343.8 713.0L344.3 712.8L344.8 712.5L345.3 712.2L345.8 712.0L346.3 711.7L346.8 711.5L347.3 711.2L347.8 710.9L348.3 710.7L348.8 710.4L349.3 710.1L349.8 709.9L350.3 709.6L350.8 709.3L351.3 709.1L351.8 708.8L352.3 708.5L352.8 708.3L353.3 708.0L353.8 707.8L354.3 707.5L354.8 707.2L355.3 707.0L355.8 706.7L356.3 706.4L356.8 706.2L357.3 705.9L357.8 705.6L358.3 705.4L358.8 705.1L359.3 704.9L359.8 704.6L360.3 704.3L360.8 704.1L361.3 703.8L361.8 703.6L362.3 703.4L362.8 703.1L363.3 702.9L363.8 702.6L364.3 702.4L364.8 702.2L365.3 701.9L365.8 701.7L366.3 701.5L366.8 701.2L367.3 701.0L367.8 700.8L368.3 700.6L368.8 700.3L369.3 700.1L369.8 699.9L370.3 699.7L370.8 699.4L371.3 699.2L371.8 699.0L372.3 698.7L372.8 698.5L373.3 698.3L373.8 698.0L374.3 697.8L374.8 697.6L375.3 697.3L375.8 697.1L376.3 696.9L376.8 696.7L377.3 696.5L377.8 696.4L378.3 696.2L378.8 696.0L379.3 695.9L379.8 695.7L380.3 695.5L380.8 695.4L381.3 695.2L381.8 695.1L382.3 695.0L382.8 694.8L383.3 694.7L383.8 694.6L384.3 694.6L384.8 694.5L385.3 694.5L385.8 694.4L386.3 694.4L386.8 694.3L387.3 694.3L387.8 694.3L388.3 694.3L388.8 694.5L389.3 694.7L389.8 695.0L390.3 695.4L390.8 696.3L391.3 697.8L391.8 699.5L392.3 701.6L392.8 703.5L393.3 703.2L393.8 700.8L394.3 698.5L394.8 696.8L395.3 695.3L395.8 694.4L396.3 694.4L396.8 694.4L397.3 694.4L397.8 694.5L398.3 694.5L398.8 694.6L399.3 694.7L399.8 694.9L400.3 695.2L400.8 695.6L401.3 696.0L401.8 696.5L402.3 697.1L402.8 697.6L403.3 698.2L403.8 698.8L404.3 699.5L404.8 700.2L405.3 701.1L405.8 701.9L406.3 702.8L406.8 703.7L407.3 704.5L407.8 705.4L408.3 706.3L408.8 707.3L409.3 708.3L409.8 709.3L410.3 710.3L410.8 711.3L411.3 712.4L411.8 713.6L412.3 714.8L412.8 715.9L413.3 717.1L413.8 718.1L414.3 719.1L414.8 720.2L415.3 721.3L415.8 722.0L416.3 722.2L416.8 721.4L417.3 720.2L417.8 719.0L418.3 717.5L418.8 716.7L419.3 717.2L419.8 718.4L420.3 719.8L420.8 721.3L421.3 723.1L421.8 725.0L422.3 726.9L422.8 728.9L423.3 731.0L423.8 733.1L424.3 735.2L424.8 737.2L425.3 739.2L425.8 741.1L426.3 743.1L426.8 745.0L427.3 746.9L427.8 748.8L428.3 750.6L428.8 752.3L429.3 754.0L429.8 755.7L430.3 757.3L430.8 758.8L431.3 760.3L431.8 761.8L432.3 763.2L432.8 764.6L433.3 766.0L433.8 767.3L434.3 768.5L434.8 769.8L435.3 771.0L435.8 772.2L436.3 773.3L436.8 774.4L437.3 775.5L437.8 776.5L438.3 777.5L438.8 778.5L439.3 779.4L439.8 780.2L440.3 781.1L440.8 781.9L441.3 782.7L441.8 783.5L442.3 784.2L442.8 784.9L443.3 785.6L443.8 786.3L444.3 786.9L444.8 787.6L445.3 788.2L445.8 788.8L446.3 789.3L446.8 789.8L447.3 790.3L447.8 790.8L448.3 791.2L448.8 791.6L449.3 792.0L449.8 792.4L450.3 792.8L450.8 793.2L451.3 793.5L451.8 793.8L452.3 794.1L452.8 794.3L453.3 794.5L453.8 794.7L454.3 795.0L454.8 795.2L455.3 795.4L455.8 795.5L456.3 795.7L456.8 795.9L457.3 796.0L457.8 796.1L458.3 796.2L458.8 796.2L459.3 796.2L459.8 796.2L460.3 796.3L460.8 796.3L461.3 796.3L461.8 796.3L462.3 796.3L462.8 796.4L463.3 796.4L463.8 796.4L464.3 796.4L464.8 796.4L465.3 796.4L465.8 796.4L466.3 796.4L466.8 796.4L467.3 796.4L467.8 796.3L468.3 796.3L468.8 796.2L469.3 796.2L469.8 796.1L470.3 796.0L470.8 796.0L471.3 795.9L471.8 795.8L472.3 795.7L472.8 795.6L473.3 795.5L473.8 795.5L474.3 795.4L474.8 795.3L475.3 795.2L475.8 795.0L476.3 794.9L476.8 794.8L477.3 794.7L477.8 794.5L478.3 794.4L478.8 794.2L479.3 794.1L479.8 793.9L480.3 793.7L480.8 793.6L481.3 793.4L481.8 793.3L482.3 793.1L482.8 793.0L483.3 792.8L483.8 792.7L484.3 792.5L484.8 792.3L485.3 792.2L485.8 792.0L486.3 791.8L486.8 791.7L487.3 791.5L487.8 791.3L488.3 791.1L488.8 791.0L489.3 790.8L489.8 790.6L490.3 790.5L490.8 790.3L491.3 790.1L491.8 790.0L492.3 789.8L492.8 789.6L493.3 789.5L493.8 789.3L494.3 789.2L494.8 789.0L495.3 788.8L495.8 788.7L496.3 788.5L496.8 788.4L497.3 788.2L497.8 788.0L498.3 787.9L498.8 787.7L499.3 787.6L499.8 787.4L500.3 787.3L500.8 787.1L501.3 787.0L501.8 786.8L502.3 786.6L502.8 786.5L503.3 786.3L503.8 786.2L504.3 786.0L504.8 785.9L505.3 785.7L505.8 785.5L506.3 785.4L506.8 785.2L507.3 785.1L507.8 784.9L508.3 784.8L508.8 784.6L509.3 784.4L509.8 784.3L510.3 784.1L510.8 784.0L511.3 783.8L511.8 783.7L512.3 783.5L512.8 783.3L513.3 783.2L513.8 783.0L514.3 782.9L514.8 782.7L515.3 782.6L515.8 782.4L516.3 782.3L516.8 782.1L517.3 782.0L517.8 781.9L518.3 781.7L518.8 781.6L519.3 781.4L519.8 781.3L520.3 781.2L520.8 781.0L521.3 780.9L521.8 780.8L522.3 780.6L522.8 780.5L523.3 780.4L523.8 780.2L524.3 780.1L524.8 780.0L525.3 779.8L525.8 779.7L526.3 779.6L526.8 779.4L527.3 779.3L527.8 779.2L528.3 779.1L528.8 778.9L529.3 778.8L529.8 778.7L530.3 778.6L530.8 778.4L531.3 778.3L531.8 778.2L532.3 778.1L532.8 778.0L533.3 777.8L533.8 777.7L534.3 777.6L534.8 777.5L535.3 777.4L535.8 777.2L536.3 777.1L536.8 777.0L537.3 776.9L537.8 776.8L538.3 776.7L538.8 776.6L539.3 776.4L539.8 776.3L540.3 776.2L540.8 776.1L541.3 776.0L541.8 775.9L542.3 775.8L542.8 775.7L543.3 775.6L543.8 775.4L544.3 775.3L544.8 775.2L545.3 775.1L545.8 775.0L546.3 774.9L546.8 774.8L547.3 774.7L547.8 774.6L548.3 774.5L548.8 774.4L549.3 774.3L549.8 774.2L550.3 774.1L550.8 774.0L551.3 773.9L551.8 773.8L552.3 773.7L552.8 773.6L553.3 773.5L553.8 773.4L554.3 773.3L554.8 773.2L555.3 773.1L555.8 773.1L556.3 773.0L556.8 772.9L557.3 772.8L557.8 772.7L558.3 772.6L558.8 772.5L559.3 772.5L559.8 772.4L560.3 772.3L560.8 772.2L561.3 772.1L561.8 772.1L562.3 772.0L562.8 771.9L563.3 771.8L563.8 771.7L564.3 771.7L564.8 771.6L565.3 771.5L565.8 771.4L566.3 771.4L566.8 771.3L567.3 771.2L567.8 771.1L568.3 771.1L568.8 771.0L569.3 770.9L569.8 770.8L570.3 770.8L570.8 770.7L571.3 770.6L571.8 770.6L572.3 770.5L572.8 770.4L573.3 770.4L573.8 770.3L574.3 770.2L574.8 770.2L575.3 770.1L575.8 770.0L576.3 770.0L576.8 769.9L577.3 769.8L577.8 769.8L578.3 769.7L578.8 769.6L579.3 769.6L579.8 769.5L580.3 769.5L580.8 769.4L581.3 769.3L581.8 769.3L582.3 769.2L582.8 769.2L583.3 769.1L583.8 769.0L584.3 769.0L584.8 768.9L585.3 768.9L585.8 768.8L586.3 768.7L586.8 768.7L587.3 768.6L587.8 768.6L588.3 768.5L588.8 768.5L589.3 768.4L589.8 768.3L590.3 768.3L590.8 768.2L591.3 768.2L591.8 768.1L592.3 768.1L592.8 768.0L593.3 768.0L593.8 767.9L594.3 767.8L594.8 767.8L595.3 767.7L595.8 767.7L596.3 767.6L596.8 767.6L597.3 767.5L597.8 767.5L598.3 767.4L598.8 767.4L599.3 767.3L599.8 767.2L600.3 767.2L600.8 767.1L601.3 767.1L601.8 767.0L602.3 767.0L602.8 766.9L603.3 766.9L603.8 766.8L604.3 766.8L604.8 766.7L605.3 766.7L605.8 766.6L606.3 766.6L606.8 766.5L607.3 766.5L607.8 766.4L608.3 766.4L608.8 766.3L609.3 766.2L609.8 766.2L610.3 766.1L610.8 766.1L611.3 766.0L611.8 766.0L612.3 765.9L612.8 765.9L613.3 765.8L613.8 765.8L614.3 765.7L614.8 765.7L615.3 765.7L615.8 765.6L616.3 765.6L616.8 765.5L617.3 765.5L617.8 765.4L618.3 765.4L618.8 765.3L619.3 765.3L619.8 765.2L620.3 765.2L620.8 765.1L621.3 765.1L621.8 765.0L622.3 765.0L622.8 764.9L623.3 764.9L623.8 764.8L624.3 764.8L624.8 764.7L625.3 764.7L625.8 764.7L626.3 764.6L626.8 764.6L627.3 764.5L627.8 764.5L628.3 764.4L628.8 764.4L629.3 764.3L629.8 764.3L630.3 764.2L630.8 764.2L631.3 764.1L631.8 764.1L632.3 764.0L632.8 764.0L633.3 764.0L633.8 763.9L634.3 763.9L634.8 763.8L635.3 763.8L635.8 763.7L636.3 763.7L636.8 763.6L637.3 763.6L637.8 763.6L638.3 763.5L638.8 763.5L639.3 763.4L639.8 763.4L640.3 763.3L640.8 763.3L641.3 763.3L641.8 763.2L642.3 763.2L642.8 763.1L643.3 763.1L643.8 763.1L644.3 763.0L644.8 763.0L645.3 762.9L645.8 762.9L646.3 762.9L646.8 762.8L647.3 762.8L647.8 762.8L648.3 762.7L648.8 762.7L649.3 762.6L649.8 762.6L650.3 762.6L650.8 762.5L651.3 762.5L651.8 762.5L652.3 762.4L652.8 762.4L653.3 762.4L653.8 762.3L654.3 762.3L654.8 762.3L655.3 762.2L655.8 762.2L656.3 762.2L656.8 762.1L657.3 762.1L657.8 762.1L658.3 762.1L658.8 762.0L659.3 762.0L659.8 762.0L660.3 761.9L660.8 761.9L661.3 761.9L661.8 761.8L662.3 761.8L662.8 761.8L663.3 761.7L663.8 761.7L664.3 761.7L664.8 761.7L665.3 761.6L665.8 761.6L666.3 761.6L666.8 761.5L667.3 761.5L667.8 761.5L668.3 761.4L668.8 761.4L669.3 761.4L669.8 761.4L670.3 761.3L670.8 761.3L671.3 761.3L671.8 761.3L672.3 761.2L672.8 761.2L673.3 761.2L673.8 761.1L674.3 761.1L674.8 761.1L675.3 761.1L675.8 761.0L676.3 761.0L676.8 761.0L677.3 761.0L677.8 760.9L678.3 760.9L678.8 760.9L679.3 760.8L679.8 760.8L680.3 760.8L680.8 760.8L681.3 760.7L681.8 760.7L682.3 760.7L682.8 760.7L683.3 760.6L683.8 760.6L684.3 760.6L684.8 760.6L685.3 760.5L685.8 760.5L686.3 760.5L686.8 760.5L687.3 760.4L687.8 760.4L688.3 760.4L688.8 760.4L689.3 760.3L689.8 760.3L690.3 760.3L690.8 760.3L691.3 760.2L691.8 760.2L692.3 760.2L692.8 760.2L693.3 760.1L693.8 760.1L694.3 760.1L694.8 760.1L695.3 760.0L695.8 760.0L696.3 760.0L696.8 760.0L697.3 759.9L697.8 759.9L698.3 759.9L698.8 759.9L699.3 759.8L699.8 759.8L700.3 759.8L700.8 759.8L701.3 759.7L701.8 759.7L702.3 759.7L702.8 759.7L703.3 759.6L703.8 759.6L704.3 759.6L704.8 759.6L705.3 759.5L705.8 759.5L706.3 759.5L706.8 759.5L707.3 759.4L707.8 759.4L708.3 759.4L708.8 759.4L709.3 759.3L709.8 759.3L710.3 759.3L710.8 759.3L711.3 759.2L711.8 759.2L712.3 759.2L712.8 759.2L713.3 759.2L713.8 759.1L714.3 759.1L714.8 759.1L715.3 759.1L715.8 759.0L716.3 759.0L716.8 759.0L717.3 759.0L717.8 758.9L718.3 758.9L718.8 758.9L719.3 758.9L719.8 758.8L720.3 758.8L720.8 758.8L721.3 758.8L721.8 758.8L722.3 758.7L722.8 758.7L723.3 758.7L723.8 758.7L724.3 758.6L724.8 758.6L725.3 758.6L725.8 758.6L726.3 758.5L726.8 758.5L727.3 758.5L727.8 758.5L728.3 758.5L728.8 758.4L729.3 758.4L729.8 758.4L730.3 758.4L730.8 758.3L731.3 758.3L731.8 758.3L732.3 758.3L732.8 758.3L733.3 758.2L733.8 758.2L734.3 758.2L734.8 758.2L735.3 758.2L735.8 758.1L736.3 758.1L736.8 758.1L737.3 758.1L737.8 758.1L738.3 758.0L738.8 758.0L739.3 758.0L739.8 758.0L740.3 758.0L740.8 757.9L741.3 757.9L741.8 757.9L742.3 757.9L742.8 757.9L743.3 757.8L743.8 757.8L744.3 757.8L744.8 757.8L745.3 757.8L745.8 757.7L746.3 757.7L746.8 757.7L747.3 757.7L747.8 757.7L748.3 757.7L748.8 757.6L749.3 757.6L749.8 757.6L750.3 757.6L750.8 757.6L751.3 757.6L751.8 757.5L752.3 757.5L752.8 757.5L753.3 757.5L753.8 757.5L754.3 757.5L754.8 757.4L755.3 757.4L755.8 757.4L756.3 757.4L756.8 757.4L757.3 757.4L757.8 757.3L758.3 757.3L758.8 757.3L759.3 757.3L759.8 757.3L760.3 757.3L760.8 757.2L761.3 757.2L761.8 757.2L762.3 757.2L762.8 757.2L763.3 757.2L763.8 757.2L764.3 757.1L764.8 757.1L765.3 757.1L765.8 757.1L766.3 757.1L766.8 757.1L767.3 757.1L767.8 757.0L768.3 757.0L768.8 757.0L769.3 757.0L769.8 757.0L770.3 757.0L770.8 756.9L771.3 756.9L771.8 756.9L772.3 756.9L772.8 756.9L773.3 756.9L773.8 756.9L774.3 756.9L774.8 756.8L775.3 756.8L775.8 756.8L776.3 756.8L776.8 756.8L777.3 756.8L777.8 756.8L778.3 756.7L778.8 756.7L779.3 756.7L779.8 756.7L780.3 756.7L780.8 756.7L781.3 756.7L781.8 756.6L782.3 756.6L782.8 756.6L783.3 756.6L783.8 756.6L784.3 756.6L784.8 756.6L785.3 756.6L785.8 756.5L786.3 756.5L786.8 756.5L787.3 756.5L787.8 756.5L788.3 756.5L788.8 756.5L789.3 756.5L789.8 756.4L790.3 756.4L790.8 756.4L791.3 756.4L791.8 756.4L792.3 756.4L792.8 756.4L793.3 756.4L793.8 756.3L794.3 756.3L794.8 756.3L795.3 756.3L795.8 756.3L796.3 756.3L796.8 756.3L797.3 756.3L797.8 756.3L798.3 756.2L798.8 756.2L799.3 756.2L799.8 756.2L800.3 756.2L800.8 756.2L801.3 756.2L801.8 756.2L802.3 756.1L802.8 756.1L803.3 756.1L803.8 756.1L804.3 756.1L804.8 756.1L805.3 756.1L805.8 756.1L806.3 756.1L806.8 756.0L807.3 756.0L807.8 756.0L808.3 756.0L808.8 756.0L809.3 756.0L809.8 756.0L810.3 756.0L810.8 756.0L811.3 755.9L811.8 755.9L812.3 755.9L812.8 755.9L813.3 755.9L813.8 755.9L814.3 755.9L814.8 755.9L815.3 755.9L815.8 755.9L816.3 755.8L816.8 755.8L817.3 755.8L817.8 755.8L818.3 755.8L818.8 755.8L819.3 755.8L819.8 755.8L820.3 755.8L820.8 755.7L821.3 755.7L821.8 755.7L822.3 755.7L822.8 755.7L823.3 755.7L823.8 755.7L824.3 755.7L824.8 755.7L825.3 755.7L825.8 755.6L826.3 755.6L826.8 755.6L827.3 755.6L827.8 755.6L828.3 755.6L828.8 755.6L829.3 755.6L829.8 755.6L830.3 755.6L830.8 755.6L831.3 755.5L831.8 755.5L832.3 755.5L832.8 755.5L833.3 755.5L833.8 755.5L834.3 755.5L834.8 755.5L835.3 755.5L835.8 755.5L836.3 755.4L836.8 755.4L837.3 755.4L837.8 755.4L838.3 755.4L838.8 755.4L839.3 755.4L839.8 755.4L840.3 755.4L840.8 755.4L841.3 755.4L841.8 755.3L842.3 755.3L842.8 755.3L843.3 755.3L843.8 755.3L844.3 755.3L844.8 755.3L845.3 755.3L845.8 755.3L846.3 755.3L846.8 755.3L847.3 755.2L847.8 755.2L848.3 755.2L848.8 755.2L849.3 755.2L849.8 755.2L850.3 755.2L850.8 755.2L851.3 755.2L851.8 755.2L852.3 755.2L852.8 755.2L853.3 755.1L853.8 755.1L854.3 755.1L854.8 755.1L855.3 755.1L855.8 755.1L856.3 755.1L856.8 755.1L857.3 755.1L857.8 755.1L858.3 755.1L858.8 755.0L859.3 755.0L859.8 755.0L860.3 755.0L860.8 755.0L861.3 755.0L861.8 755.0L862.3 755.0L862.8 755.0L863.3 755.0L863.8 755.0L864.3 755.0L864.8 754.9L865.3 754.9L865.8 754.9L866.3 754.9L866.8 754.9L867.3 754.9L867.8 754.9L868.3 754.9L868.8 754.9L869.3 754.9L869.8 754.9L870.3 754.9L870.8 754.8L871.3 754.8L871.8 754.8L872.3 754.8L872.8 754.8L873.3 754.8L873.8 754.8L874.3 754.8L874.8 754.8L875.3 754.8L875.8 754.8L876.3 754.8L876.8 754.7L877.3 754.7L877.8 754.7L878.3 754.7L878.8 754.7L879.3 754.7L879.8 754.7L880.3 754.7L880.8 754.7L881.3 754.7L881.8 754.7L882.3 754.7L882.8 754.7L883.3 754.6L883.8 754.6L884.3 754.6L884.8 754.6L885.3 754.6L885.8 754.6L886.3 754.6L886.8 754.6L887.3 754.6L887.8 754.6L888.3 754.6L888.8 754.6L889.3 754.6L889.8 754.5L890.3 754.5L890.8 754.5L891.3 754.5L891.8 754.5L892.3 754.5L892.8 754.5L893.3 754.5L893.8 754.5L894.3 754.5L894.8 754.5L895.3 754.5L895.8 754.5L896.3 754.5L896.8 754.4L897.3 754.4L897.8 754.4L898.3 754.4L898.8 754.4L899.3 754.4L899.8 754.4" stroke="#ff8000" stroke-width="5.3"/>
</g>
</g>

<!-- arrows and mode labels -->
<line x1="224.9" y1="132" x2="224.9" y2="154.5" stroke="#000" stroke-width="3"/><path d="M217.4 152.5L232.4 152.5L224.9 168Z" fill="#000"/>
<line x1="321.6" y1="74.5" x2="321.6" y2="95.5" stroke="#000" stroke-width="3"/><path d="M314.1 93.5L329.1 93.5L321.6 109Z" fill="#000"/>
<line x1="401.8" y1="0" x2="401.8" y2="46.5" stroke="#000" stroke-width="3"/><path d="M394.3 44.5L409.3 44.5L401.8 60Z" fill="#000"/>
<path transform="translate(212.8 117.2)" d="M0 -18.8L0.2 -19.3L5.8 -20.4L11.4 -5.0C13.5 -8.8 15.6 -12.6 15.9 -14.8C16.1 -16.6 15.2 -17.4 15.4 -18.6C15.6 -19.8 16.6 -20.5 17.7 -20.5C19 -20.5 19.8 -19.6 19.8 -18.2C19.8 -15.5 17.5 -11.5 14.4 -6.6L10.6 0.2L9.4 0.2L3.4 -15.8C2.7 -17.6 1.8 -18.3 0 -18.8Z" fill="#000"/><text x="233.8" y="131.2" font-size="26">9</text>
<path transform="translate(306.7 51.9)" d="M0 -18.8L0.2 -19.3L5.8 -20.4L11.4 -5.0C13.5 -8.8 15.6 -12.6 15.9 -14.8C16.1 -16.6 15.2 -17.4 15.4 -18.6C15.6 -19.8 16.6 -20.5 17.7 -20.5C19 -20.5 19.8 -19.6 19.8 -18.2C19.8 -15.5 17.5 -11.5 14.4 -6.6L10.6 0.2L9.4 0.2L3.4 -15.8C2.7 -17.6 1.8 -18.3 0 -18.8Z" fill="#000"/><text x="327.7" y="65.9" font-size="26">7</text>
<path transform="translate(413.1 45.0)" d="M0 -18.8L0.2 -19.3L5.8 -20.4L11.4 -5.0C13.5 -8.8 15.6 -12.6 15.9 -14.8C16.1 -16.6 15.2 -17.4 15.4 -18.6C15.6 -19.8 16.6 -20.5 17.7 -20.5C19 -20.5 19.8 -19.6 19.8 -18.2C19.8 -15.5 17.5 -11.5 14.4 -6.6L10.6 0.2L9.4 0.2L3.4 -15.8C2.7 -17.6 1.8 -18.3 0 -18.8Z" fill="#000"/><text x="434.1" y="59.0" font-size="26">3</text>

<!-- text -->
<text transform="translate(117.9 93.0) scale(1 1.07)" text-anchor="end" font-size="32.3">200</text><text transform="translate(117.9 258.2) scale(1 1.07)" text-anchor="end" font-size="32.3">100</text><text transform="translate(117.9 422.4) scale(1 1.07)" text-anchor="end" font-size="32.3">0</text><text transform="translate(117.9 529.8) scale(1 1.07)" text-anchor="end" font-size="32.3">200</text><text transform="translate(117.9 639.7) scale(1 1.07)" text-anchor="end" font-size="32.3">100</text><text transform="translate(117.9 749.6) scale(1 1.07)" text-anchor="end" font-size="32.3">0</text><text transform="translate(131.8 860.3) scale(1 1.07)" text-anchor="middle" font-size="32.3">0</text><text transform="translate(350.7 860.3) scale(1 1.07)" text-anchor="middle" font-size="32.3">1000</text><text transform="translate(569.6 860.3) scale(1 1.07)" text-anchor="middle" font-size="32.3">2000</text><text transform="translate(788.5 860.3) scale(1 1.07)" text-anchor="middle" font-size="32.3">3000</text>
<text transform="translate(30.6 200.2) rotate(-90)" text-anchor="middle" font-size="33.6">&#963;<tspan font-size="19.5" dy="10.5">1</tspan><tspan dy="-10.5"> (&#937;</tspan><tspan font-size="19.5" dy="-17">-1</tspan><tspan dy="17">cm</tspan><tspan font-size="19.5" dy="-17">-1</tspan><tspan dy="17">)</tspan></text>
<text transform="translate(30.6 620) rotate(-90)" text-anchor="middle" font-size="33.6">&#963;<tspan font-size="19.5" dy="10.5">1</tspan><tspan dy="-10.5"> (&#937;</tspan><tspan font-size="19.5" dy="-17">-1</tspan><tspan dy="17">cm</tspan><tspan font-size="19.5" dy="-17">-1</tspan><tspan dy="17">)</tspan></text>
<text x="165.8" y="50.0" font-size="41" font-weight="bold">a</text>
<text x="166.8" y="463.0" font-size="41" font-weight="bold">b</text>
<text x="526.6" y="35.6" font-size="19.5">diamond absorption</text>
<text x="231.6" y="462.8" font-size="28.8">vibrational modes subtracted</text>
<circle cx="190.7" cy="331.4" r="6.8" fill="#fff" stroke="#7c7c7c" stroke-width="1.2"/>
<line x1="158" y1="365.6" x2="222" y2="365.6" stroke="#ff2000" stroke-width="6.0" stroke-linecap="round"/>
<text x="230.9" y="340.6" font-size="28.8">0.3 GPa</text>
<text x="230.6" y="376.8" font-size="28.8">Drude + Lorentz + Fano fitting</text>
<text x="574.2" y="543.9" font-size="28.8" style="fill:#008000">Lorentz term</text>
<text x="579.4" y="726.0" font-size="28.8" style="fill:#0000ff">Drude term</text>
<text x="660.0" y="797.3" font-size="28.8" style="fill:#ff8000">Vibrational modes</text>
<text x="528.6" y="912.9" text-anchor="middle" font-size="32">Frequency (cm<tspan font-size="20.5" dy="-13.9">-1</tspan><tspan dy="13.9">)</tspan></text>
</svg>
</body>
</html>
